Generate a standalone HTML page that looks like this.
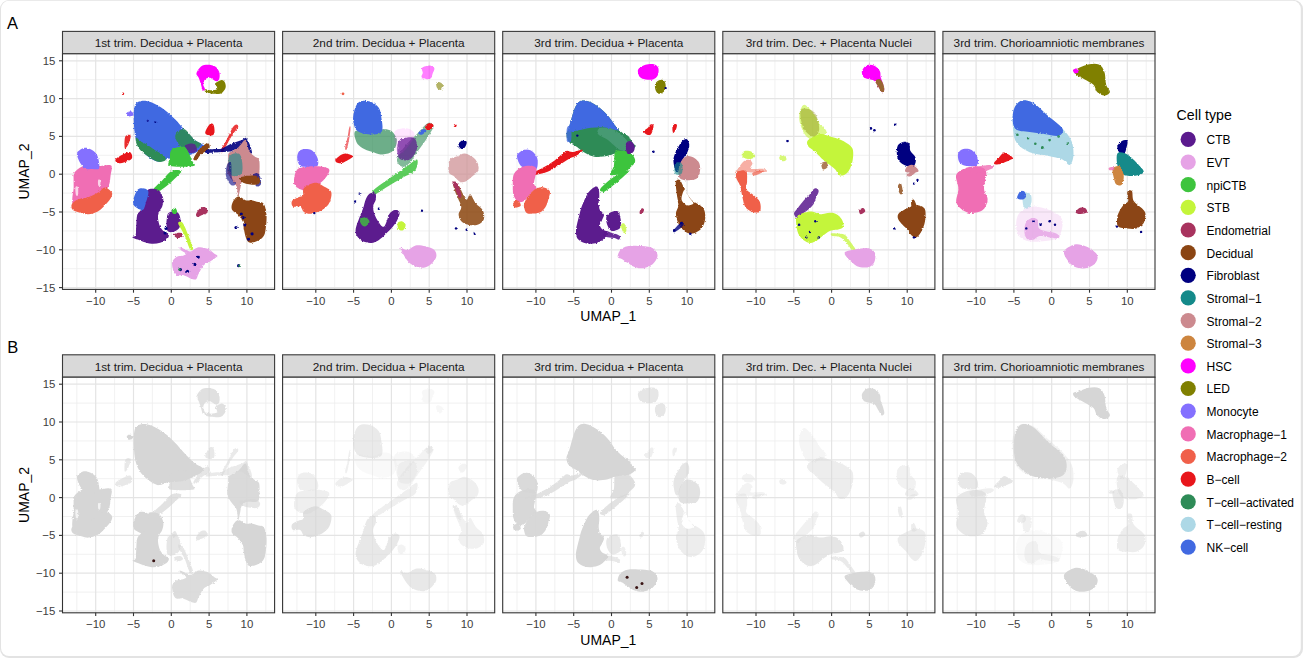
<!DOCTYPE html><html><head><meta charset="utf-8"><style>html,body{margin:0;padding:0;background:#fff;}svg{display:block;font-family:"Liberation Sans",sans-serif;}</style></head><body>
<svg width="1303" height="658" viewBox="0 0 1303 658">
<defs><filter id="rough" x="-5%" y="-5%" width="110%" height="110%"><feTurbulence type="fractalNoise" baseFrequency="0.6" numOctaves="2" seed="3" result="n"/><feDisplacementMap in="SourceGraphic" in2="n" scale="2.5" xChannelSelector="R" yChannelSelector="G"/></filter></defs>
<rect x="0" y="0" width="1303" height="658" rx="9" ry="9" fill="#e3e3e3"/>
<rect x="1" y="0.8" width="1299.8" height="655.2" rx="8" ry="8" fill="#fff"/>
<text x="7" y="29.4" font-size="16.5" fill="#000">A</text>
<text x="7.2" y="352.6" font-size="16.5" fill="#000">B</text>
<rect x="62.5" y="31.4" width="212.1" height="22.4" fill="#d9d9d9" stroke="#3a3a3a" stroke-width="1.1"/><text x="168.6" y="47.1" font-size="11.8" fill="#1a1a1a" text-anchor="middle">1st trim. Decidua + Placenta</text><rect x="62.5" y="53.8" width="212.1" height="235.6" fill="#fff"/><line x1="76.8" y1="53.8" x2="76.8" y2="289.4" stroke="#ededed" stroke-width="0.8"/><line x1="62.5" y1="268.7" x2="274.6" y2="268.7" stroke="#ededed" stroke-width="0.8"/><line x1="114.6" y1="53.8" x2="114.6" y2="289.4" stroke="#ededed" stroke-width="0.8"/><line x1="62.5" y1="230.9" x2="274.6" y2="230.9" stroke="#ededed" stroke-width="0.8"/><line x1="152.4" y1="53.8" x2="152.4" y2="289.4" stroke="#ededed" stroke-width="0.8"/><line x1="62.5" y1="193.1" x2="274.6" y2="193.1" stroke="#ededed" stroke-width="0.8"/><line x1="190.2" y1="53.8" x2="190.2" y2="289.4" stroke="#ededed" stroke-width="0.8"/><line x1="62.5" y1="155.3" x2="274.6" y2="155.3" stroke="#ededed" stroke-width="0.8"/><line x1="228" y1="53.8" x2="228" y2="289.4" stroke="#ededed" stroke-width="0.8"/><line x1="62.5" y1="117.5" x2="274.6" y2="117.5" stroke="#ededed" stroke-width="0.8"/><line x1="265.8" y1="53.8" x2="265.8" y2="289.4" stroke="#ededed" stroke-width="0.8"/><line x1="62.5" y1="79.7" x2="274.6" y2="79.7" stroke="#ededed" stroke-width="0.8"/><line x1="62.5" y1="287.6" x2="274.6" y2="287.6" stroke="#e4e4e4" stroke-width="1.2"/><line x1="95.7" y1="53.8" x2="95.7" y2="289.4" stroke="#e4e4e4" stroke-width="1.2"/><line x1="62.5" y1="249.8" x2="274.6" y2="249.8" stroke="#e4e4e4" stroke-width="1.2"/><line x1="133.5" y1="53.8" x2="133.5" y2="289.4" stroke="#e4e4e4" stroke-width="1.2"/><line x1="62.5" y1="212" x2="274.6" y2="212" stroke="#e4e4e4" stroke-width="1.2"/><line x1="171.3" y1="53.8" x2="171.3" y2="289.4" stroke="#e4e4e4" stroke-width="1.2"/><line x1="62.5" y1="174.2" x2="274.6" y2="174.2" stroke="#e4e4e4" stroke-width="1.2"/><line x1="209.1" y1="53.8" x2="209.1" y2="289.4" stroke="#e4e4e4" stroke-width="1.2"/><line x1="62.5" y1="136.4" x2="274.6" y2="136.4" stroke="#e4e4e4" stroke-width="1.2"/><line x1="246.9" y1="53.8" x2="246.9" y2="289.4" stroke="#e4e4e4" stroke-width="1.2"/><line x1="62.5" y1="98.6" x2="274.6" y2="98.6" stroke="#e4e4e4" stroke-width="1.2"/><line x1="62.5" y1="60.8" x2="274.6" y2="60.8" stroke="#e4e4e4" stroke-width="1.2"/><g filter="url(#rough)"><path d="M215.2,83.5C216.0,82.5 219.9,80.3 221.5,80.1C223.1,79.9 224.2,81.1 224.9,82.4C225.6,83.7 226.1,86.3 225.5,88.1C224.9,89.9 223.1,92.2 221.5,93.2C219.9,94.2 217.9,93.8 215.8,93.8C213.7,93.8 210.8,93.6 209.0,93.2C207.2,92.8 205.6,92.2 205.0,91.5C204.4,90.8 204.5,89.4 205.5,89.2C206.5,89.0 209.3,90.3 211.2,90.3C213.1,90.3 216.0,90.0 216.9,89.2C217.8,88.5 216.7,86.8 216.4,85.8C216.1,84.8 214.3,84.5 215.2,83.5Z" fill="#808000"/><path d="M196.4,73.2C196.8,71.3 199.1,67.8 201.0,66.4C202.9,65.0 205.4,64.7 207.8,64.7C210.2,64.7 213.3,65.2 215.2,66.4C217.1,67.6 218.5,70.0 219.2,72.1C219.9,74.2 219.8,77.4 219.2,78.9C218.6,80.4 217.3,81.4 215.8,81.2C214.3,81.0 211.9,78.1 210.1,77.8C208.3,77.5 206.2,78.4 205.0,79.5C203.8,80.6 203.2,83.0 203.2,84.6C203.2,86.2 205.1,88.2 205.0,89.2C204.9,90.2 203.4,91.1 202.7,90.3C202.0,89.5 201.7,86.7 201.0,84.6C200.3,82.5 199.5,79.7 198.7,77.8C197.9,75.9 196.0,75.1 196.4,73.2Z" fill="#ff00ff"/><path d="M141.3,100.9C144.1,100.4 148.0,100.9 151.9,102.4C155.8,103.9 160.8,107.1 164.7,109.9C168.6,112.8 172.1,116.3 175.3,119.5C178.5,122.7 180.6,125.6 183.8,129.0C187.0,132.4 191.3,137.0 194.5,139.7C197.7,142.4 202.1,143.3 203.0,145.0C203.9,146.7 202.2,148.3 200.0,150.0C197.8,151.7 193.3,153.7 190.0,155.0C186.7,156.3 183.7,157.4 180.0,158.0C176.3,158.6 171.7,158.2 167.9,158.8C164.1,159.4 161.3,162.6 157.2,161.5C153.1,160.4 146.9,156.0 143.4,152.4C139.9,148.8 137.6,144.8 136.0,139.7C134.4,134.6 134.0,127.3 133.8,121.6C133.6,115.9 133.7,109.0 134.9,105.6C136.2,102.1 138.5,101.4 141.3,100.9Z" fill="#4169e1"/><path d="M136.0,137.6C136.7,137.1 139.4,140.6 141.3,141.8C143.2,143.0 145.4,143.6 147.7,145.0C150.0,146.4 152.6,148.7 155.1,150.3C157.6,151.9 160.8,153.0 162.6,154.6C164.4,156.2 166.6,158.8 165.7,159.9C164.8,161.1 160.9,162.7 157.2,161.5C153.5,160.3 146.8,155.8 143.4,153.0C140.0,150.2 138.2,147.6 137.0,145.0C135.8,142.4 135.3,138.1 136.0,137.6Z" fill="#2e8b57"/><path d="M175.3,135.4C176.0,132.7 180.6,128.3 183.8,129.0C187.0,129.7 191.7,137.2 194.5,139.7C197.3,142.2 200.6,142.5 200.9,143.9C201.2,145.3 198.7,147.1 196.6,148.2C194.5,149.3 190.9,150.8 188.1,150.3C185.3,149.8 181.7,147.5 179.6,145.0C177.5,142.5 174.6,138.1 175.3,135.4Z" fill="#2e8b57" fill-opacity="0.90"/><path d="M186.0,145.0C187.1,143.6 192.7,142.8 194.5,143.9C196.3,145.0 197.7,150.0 196.6,151.4C195.5,152.8 189.9,153.5 188.1,152.4C186.3,151.3 184.9,146.4 186.0,145.0Z" fill="#5b1a8e" fill-opacity="0.80"/><path d="M171.1,150.3C172.7,148.4 177.1,147.4 179.6,147.1C182.1,146.8 183.9,145.9 186.0,148.2C188.1,150.5 191.1,158.0 192.3,161.0C193.5,164.0 197.1,165.2 193.4,166.0C189.7,166.8 173.9,167.2 170.0,166.0C166.1,164.8 169.8,161.4 170.0,158.8C170.2,156.2 169.5,152.2 171.1,150.3Z" fill="#3ec43e"/><path d="M126.9,112.6C127.4,111.8 130.6,111.1 131.7,111.5C132.8,111.9 133.8,114.4 133.3,115.2C132.8,116.0 129.6,116.7 128.5,116.3C127.4,115.9 126.4,113.4 126.9,112.6Z" fill="#8470ff"/><path d="M115.5,159.5C116.3,158.1 120.4,155.8 122.8,154.6C125.2,153.4 128.6,151.6 130.1,152.2C131.6,152.8 132.8,156.6 132.0,158.2C131.2,159.8 127.5,161.1 125.2,161.9C122.9,162.7 119.5,163.5 117.9,163.1C116.3,162.7 114.7,160.9 115.5,159.5Z" fill="#e8161b"/><path d="M125.3,136.5C126.3,134.4 130.1,134.2 130.6,135.4C131.1,136.6 129.5,141.8 128.5,143.9C127.5,146.0 125.3,149.4 124.8,148.2C124.3,147.0 124.3,138.6 125.3,136.5Z" fill="#e8161b" fill-opacity="0.90"/><path d="M206.4,129.3C207.1,127.7 208.8,124.7 210.0,123.9C211.2,123.2 212.8,123.3 213.5,124.8C214.3,126.3 214.9,131.1 214.4,132.9C214.0,134.7 212.3,135.5 210.9,135.6C209.4,135.7 206.2,134.9 205.5,133.8C204.7,132.8 205.6,131.0 206.4,129.3Z" fill="#e8161b"/><path d="M236.4,124.6C237.3,124.6 238.8,125.7 238.2,127.3C237.6,128.9 234.8,131.3 233.0,134.0C231.2,136.7 229.0,140.7 227.3,143.7C225.6,146.7 223.8,150.8 222.7,151.9C221.6,153.0 220.4,151.8 220.9,150.1C221.4,148.4 224.0,144.8 225.5,141.9C227.0,139.1 228.8,135.4 230.0,133.0C231.2,130.6 231.7,128.7 232.8,127.3C233.9,125.9 235.5,124.6 236.4,124.6Z" fill="#e8161b" fill-opacity="0.85"/><path d="M207.2,142.9C209.0,142.6 210.4,146.2 209.4,148.2C208.4,150.1 203.0,152.6 200.9,154.6C198.8,156.6 197.8,159.2 196.6,159.9C195.3,160.6 193.1,160.4 193.4,158.8C193.8,157.2 196.4,153.0 198.7,150.3C201.0,147.7 205.4,143.2 207.2,142.9Z" fill="#8b4513"/><path d="M206.0,150.0C207.5,149.3 212.3,149.2 215.0,149.0C217.7,148.8 219.3,149.4 222.0,148.5C224.7,147.6 227.7,145.1 231.0,143.7C234.3,142.3 239.5,140.9 242.0,140.0C244.5,139.1 244.8,137.3 246.0,138.0C247.2,138.7 248.5,141.5 249.5,144.0C250.5,146.5 252.4,151.7 252.0,153.0C251.6,154.3 249.0,152.8 247.0,152.0C245.0,151.2 242.8,148.1 240.0,148.0C237.2,147.9 233.0,150.8 230.0,151.5C227.0,152.2 224.7,151.8 222.0,152.0C219.3,152.2 216.7,152.3 214.0,152.5C211.3,152.7 207.3,153.4 206.0,153.0C204.7,152.6 204.5,150.7 206.0,150.0Z" fill="#000080" fill-opacity="0.90"/><path d="M229.1,152.8C230.8,150.7 235.5,149.5 238.2,147.4C240.9,145.3 243.7,139.5 245.5,140.1C247.3,140.7 247.7,148.3 249.2,151.0C250.7,153.7 253.0,155.0 254.7,156.5C256.4,158.0 258.4,157.1 259.2,160.1C259.9,163.1 259.6,171.6 259.2,174.7C258.8,177.8 258.5,177.8 256.5,178.4C254.5,179.0 249.8,177.8 247.4,178.4C245.0,179.0 243.1,180.2 241.9,182.0C240.7,183.8 240.7,186.9 240.1,189.3C239.5,191.7 238.8,197.2 238.2,196.6C237.6,196.0 237.6,188.7 236.4,185.7C235.2,182.7 232.4,180.8 230.9,178.4C229.4,176.0 227.8,174.2 227.3,171.1C226.9,168.0 227.9,163.1 228.2,160.1C228.5,157.1 227.4,154.9 229.1,152.8Z" fill="#cc8a8f"/><path d="M229.1,156.5C230.6,153.2 238.0,152.0 240.1,154.7C242.2,157.4 243.4,169.6 241.9,172.9C240.4,176.2 233.0,177.4 230.9,174.7C228.8,172.0 227.6,159.8 229.1,156.5Z" fill="#148a8a" fill-opacity="0.60"/><path d="M227.0,165.0C227.8,162.8 230.2,160.8 231.0,163.0C231.8,165.2 231.2,174.5 232.0,178.0C232.8,181.5 236.2,182.8 236.0,184.0C235.8,185.2 232.7,186.3 231.0,185.0C229.3,183.7 226.7,179.3 226.0,176.0C225.3,172.7 226.2,167.2 227.0,165.0Z" fill="#000080" fill-opacity="0.60"/><path d="M253.0,175.0C253.5,173.0 257.7,172.5 259.0,174.0C260.3,175.5 261.5,182.0 261.0,184.0C260.5,186.0 257.3,187.5 256.0,186.0C254.7,184.5 252.5,177.0 253.0,175.0Z" fill="#000080" fill-opacity="0.70"/><path d="M74.2,172.8C75.5,170.8 78.9,167.8 81.5,166.7C84.1,165.6 87.2,166.2 90.0,166.1C92.8,166.0 95.5,166.3 98.5,166.1C101.5,165.9 106.0,164.8 108.2,164.9C110.4,165.0 111.4,165.0 111.8,166.7C112.2,168.4 111.0,172.5 110.6,175.3C110.2,178.2 110.2,181.2 109.4,183.8C108.6,186.4 107.0,189.1 105.8,191.1C104.6,193.1 104.1,194.5 102.1,196.0C100.1,197.5 96.2,199.0 93.6,200.0C91.0,201.0 88.7,201.3 86.3,202.0C83.9,202.7 81.2,203.7 79.0,204.0C76.8,204.3 74.1,204.9 73.0,204.0C71.9,203.1 72.2,201.0 72.3,198.4C72.4,195.8 73.4,191.8 73.6,188.6C73.8,185.3 73.5,181.5 73.6,178.9C73.7,176.3 72.9,174.8 74.2,172.8Z" fill="#f06eb4"/><path d="M77.8,151.6C78.9,150.3 81.9,148.3 83.9,147.9C85.9,147.5 88.0,148.2 90.0,149.1C92.0,150.0 94.6,151.7 96.0,153.4C97.4,155.1 98.0,157.0 98.5,159.5C99.0,162.0 100.0,166.9 99.0,168.5C98.0,170.1 94.7,169.0 92.4,169.0C90.1,169.0 87.1,169.5 85.1,168.5C83.1,167.5 81.5,165.1 80.2,163.0C78.9,160.9 77.6,157.7 77.2,155.8C76.8,153.9 76.7,152.9 77.8,151.6Z" fill="#8470ff"/><path d="M75.4,187.2C75.7,185.9 77.6,185.9 78.0,187.2C78.4,188.5 78.3,193.8 78.0,195.1C77.7,196.4 76.4,196.4 76.0,195.1C75.6,193.8 75.1,188.5 75.4,187.2Z" fill="#ffffff" fill-opacity="0.70"/><path d="M98.2,179.9C98.6,179.1 100.1,179.6 100.4,180.6C100.7,181.6 100.4,185.0 100.0,185.8C99.6,186.6 98.5,186.2 98.2,185.2C97.9,184.2 97.8,180.7 98.2,179.9Z" fill="#ffffff" fill-opacity="0.70"/><path d="M71.7,204.4C72.5,202.7 75.0,200.8 77.8,199.6C80.6,198.4 85.2,198.3 88.7,197.1C92.2,195.9 95.8,193.9 98.5,192.3C101.2,190.7 102.4,187.4 104.6,187.4C106.8,187.4 110.8,190.5 111.8,192.3C112.8,194.1 112.0,196.0 110.6,198.4C109.2,200.8 105.5,204.7 103.3,206.9C101.1,209.1 99.7,210.5 97.3,211.7C94.9,212.9 91.3,214.0 88.7,214.2C86.1,214.4 84.1,213.6 81.5,212.9C78.9,212.2 74.5,211.3 72.9,209.9C71.3,208.5 70.9,206.1 71.7,204.4Z" fill="#f0604a"/><path d="M171.4,171.0C174.5,169.4 180.4,170.0 181.3,171.0C182.2,172.0 179.2,174.3 176.8,176.7C174.4,179.2 169.9,183.3 166.9,185.7C163.9,188.1 161.0,190.5 158.8,191.1C156.7,191.6 153.2,190.7 153.8,188.9C154.4,187.1 159.5,183.3 162.4,180.3C165.4,177.3 168.3,172.6 171.4,171.0Z" fill="#3ec43e"/><path d="M147.3,190.6C149.1,188.5 152.7,188.8 154.8,189.0C156.9,189.2 158.7,190.0 160.1,191.7C161.5,193.4 163.0,196.6 163.3,199.1C163.7,201.6 162.9,204.5 162.2,206.6C161.5,208.7 159.7,209.9 159.0,211.9C158.3,213.9 157.8,215.8 158.0,218.3C158.2,220.8 159.0,224.5 160.1,226.8C161.2,229.1 163.0,230.8 164.4,232.1C165.8,233.3 168.1,233.2 168.6,234.3C169.1,235.4 169.0,237.1 167.6,238.5C166.2,239.9 162.8,241.9 160.1,242.8C157.4,243.7 154.4,244.0 151.6,243.8C148.8,243.6 145.4,242.4 143.1,241.7C140.8,241.0 139.6,240.3 137.8,239.6C136.0,238.9 132.8,238.1 132.4,237.4C132.0,236.7 135.0,237.1 135.6,235.3C136.2,233.5 135.9,230.2 136.2,226.8C136.5,223.4 136.4,217.9 137.2,215.1C138.0,212.3 139.8,212.1 141.0,209.8C142.2,207.5 143.0,204.5 144.1,201.3C145.2,198.1 145.5,192.7 147.3,190.6Z" fill="#5b1a8e"/><path d="M168.6,213.0C169.8,211.9 172.3,210.9 173.9,210.9C175.5,210.9 177.1,211.8 178.2,213.0C179.3,214.2 180.0,216.2 180.3,218.3C180.7,220.4 180.8,223.8 180.3,225.7C179.8,227.6 178.5,228.9 177.1,230.0C175.7,231.1 173.4,231.9 171.8,232.1C170.2,232.3 168.5,232.3 167.6,231.1C166.7,229.9 166.6,227.0 166.5,224.7C166.4,222.4 166.7,219.1 167.0,217.2C167.3,215.2 167.4,214.1 168.6,213.0Z" fill="#5b1a8e"/><path d="M133.5,199.1C134.2,196.6 136.0,191.4 137.8,189.6C139.6,187.8 142.3,188.2 144.1,188.5C145.9,188.8 148.0,189.6 148.4,191.7C148.8,193.8 147.2,198.3 146.3,201.3C145.4,204.3 144.7,208.7 143.1,209.8C141.5,210.9 138.3,208.6 136.7,207.7C135.1,206.8 134.0,205.9 133.5,204.5C133.0,203.1 132.8,201.6 133.5,199.1Z" fill="#4169e1"/><path d="M196.1,214.0C196.6,212.6 198.5,209.4 200.1,208.3C201.6,207.2 204.2,206.7 205.5,207.4C206.7,208.1 208.2,211.0 207.6,212.2C207.1,213.5 203.9,214.3 202.2,215.1C200.5,215.9 198.4,217.1 197.4,216.9C196.4,216.7 195.7,215.5 196.1,214.0Z" fill="#a8335e"/><path d="M173.9,234.3C174.4,233.4 178.8,232.4 180.3,232.7C181.8,233.0 183.5,235.0 183.0,235.9C182.5,236.8 178.6,238.3 177.1,238.0C175.6,237.7 173.4,235.2 173.9,234.3Z" fill="#a8335e"/><path d="M171.8,210.9C172.0,209.8 174.1,207.5 175.0,207.7C175.9,207.9 177.3,210.8 177.1,211.9C176.9,213.0 174.8,214.2 173.9,214.0C173.0,213.8 171.6,212.0 171.8,210.9Z" fill="#3ec43e"/><path d="M178.2,223.6C177.8,221.5 180.6,220.5 182.4,222.6C184.2,224.7 187.0,232.2 188.8,236.4C190.6,240.7 192.9,246.0 193.1,248.1C193.3,250.2 191.3,251.2 189.9,249.1C188.5,247.0 186.6,239.6 184.6,235.3C182.6,231.1 178.6,225.7 178.2,223.6Z" fill="#c4f53a"/><path d="M172.2,262.2C172.7,259.9 174.7,258.0 176.5,256.9C178.3,255.8 181.4,256.4 183.0,255.8C184.6,255.2 186.6,254.6 186.2,253.6C185.8,252.6 181.9,251.0 180.8,249.9C179.7,248.8 179.1,247.3 179.8,247.2C180.5,247.1 183.3,248.6 185.1,249.3C186.9,250.0 188.7,251.7 190.5,251.5C192.3,251.3 194.3,249.0 195.9,248.3C197.5,247.6 198.0,247.0 200.2,247.2C202.3,247.4 206.5,248.2 208.8,249.3C211.1,250.4 212.7,252.5 214.1,253.6C215.5,254.7 217.4,254.9 217.4,255.8C217.4,256.7 215.5,257.9 214.1,259.0C212.7,260.1 210.6,261.1 208.8,262.2C207.0,263.3 204.8,264.1 203.4,265.5C202.0,266.9 201.1,269.2 200.2,270.8C199.3,272.4 198.7,273.7 198.0,275.1C197.3,276.5 197.2,278.8 195.9,279.4C194.7,279.9 192.7,279.1 190.5,278.4C188.3,277.7 185.3,275.7 183.0,275.1C180.7,274.6 178.1,275.8 176.5,275.1C174.9,274.4 174.0,273.0 173.3,270.8C172.6,268.6 171.7,264.5 172.2,262.2Z" fill="#e6a3e6"/><path d="M232.8,202.1C233.9,200.0 236.1,196.9 238.2,196.6C240.3,196.3 243.4,199.6 245.5,200.2C247.6,200.8 248.9,199.9 251.0,200.2C253.1,200.5 256.2,201.5 258.3,202.1C260.4,202.7 262.4,201.8 263.8,203.9C265.2,206.0 266.2,210.6 266.5,214.8C266.8,219.1 266.2,225.7 265.6,229.4C265.0,233.1 264.6,235.0 263.0,237.0C261.4,239.0 258.2,240.6 256.0,241.5C253.8,242.4 251.2,243.1 249.5,242.5C247.8,241.9 247.0,240.4 246.0,238.0C245.0,235.6 244.2,230.7 243.7,228.0C243.2,225.3 243.9,224.3 243.0,222.1C242.1,219.9 240.0,216.9 238.2,214.8C236.3,212.7 232.8,211.5 231.9,209.4C231.0,207.3 231.8,204.2 232.8,202.1Z" fill="#8b4513"/><path d="M240.1,177.5C241.9,176.3 251.4,175.2 254.7,175.6C258.0,176.0 259.8,178.7 260.1,180.2C260.4,181.7 259.2,184.2 256.5,184.7C253.8,185.1 246.4,184.1 243.7,182.9C241.0,181.7 238.3,178.7 240.1,177.5Z" fill="#8b4513"/><circle cx="123.0" cy="93.8" r="1.2" fill="#e8161b"/><circle cx="147.7" cy="120.7" r="1.0" fill="#000080"/><circle cx="155.3" cy="122.1" r="1.0" fill="#000080"/><circle cx="241.3" cy="214.0" r="1.6" fill="#000080"/><circle cx="244.9" cy="224.8" r="1.6" fill="#000080"/><circle cx="248.5" cy="239.1" r="1.6" fill="#000080"/><circle cx="252.1" cy="233.8" r="1.6" fill="#000080"/><circle cx="243.1" cy="217.6" r="1.6" fill="#000080"/><circle cx="236.0" cy="227.5" r="1.6" fill="#000080"/><circle cx="238.6" cy="265.7" r="1.6" fill="#000080"/><circle cx="194.7" cy="264.3" r="1.6" fill="#000080"/><circle cx="198.3" cy="257.1" r="1.6" fill="#000080"/><circle cx="187.5" cy="271.4" r="1.6" fill="#000080"/><circle cx="180.4" cy="269.6" r="1.6" fill="#000080"/><circle cx="166.0" cy="228.4" r="1.6" fill="#000080"/><circle cx="165.1" cy="232.9" r="1.6" fill="#000080"/><circle cx="179.5" cy="269.6" r="1.3" fill="#2e8b57"/><circle cx="239.5" cy="265.7" r="1.3" fill="#2e8b57"/></g><rect x="62.5" y="53.8" width="212.1" height="235.6" fill="none" stroke="#333" stroke-width="1.1"/><line x1="95.7" y1="289.4" x2="95.7" y2="292.7" stroke="#333" stroke-width="1.1"/><text x="95.7" y="304.6" font-size="11.4" fill="#404040" text-anchor="middle">−10</text><line x1="133.5" y1="289.4" x2="133.5" y2="292.7" stroke="#333" stroke-width="1.1"/><text x="133.5" y="304.6" font-size="11.4" fill="#404040" text-anchor="middle">−5</text><line x1="171.3" y1="289.4" x2="171.3" y2="292.7" stroke="#333" stroke-width="1.1"/><text x="171.3" y="304.6" font-size="11.4" fill="#404040" text-anchor="middle">0</text><line x1="209.1" y1="289.4" x2="209.1" y2="292.7" stroke="#333" stroke-width="1.1"/><text x="209.1" y="304.6" font-size="11.4" fill="#404040" text-anchor="middle">5</text><line x1="246.9" y1="289.4" x2="246.9" y2="292.7" stroke="#333" stroke-width="1.1"/><text x="246.9" y="304.6" font-size="11.4" fill="#404040" text-anchor="middle">10</text><line x1="59" y1="287.6" x2="62.5" y2="287.6" stroke="#333" stroke-width="1.1"/><text x="55.3" y="291.5" font-size="11.4" fill="#404040" text-anchor="end">−15</text><line x1="59" y1="249.8" x2="62.5" y2="249.8" stroke="#333" stroke-width="1.1"/><text x="55.3" y="253.7" font-size="11.4" fill="#404040" text-anchor="end">−10</text><line x1="59" y1="212" x2="62.5" y2="212" stroke="#333" stroke-width="1.1"/><text x="55.3" y="215.9" font-size="11.4" fill="#404040" text-anchor="end">−5</text><line x1="59" y1="174.2" x2="62.5" y2="174.2" stroke="#333" stroke-width="1.1"/><text x="55.3" y="178.1" font-size="11.4" fill="#404040" text-anchor="end">0</text><line x1="59" y1="136.4" x2="62.5" y2="136.4" stroke="#333" stroke-width="1.1"/><text x="55.3" y="140.3" font-size="11.4" fill="#404040" text-anchor="end">5</text><line x1="59" y1="98.6" x2="62.5" y2="98.6" stroke="#333" stroke-width="1.1"/><text x="55.3" y="102.5" font-size="11.4" fill="#404040" text-anchor="end">10</text><line x1="59" y1="60.8" x2="62.5" y2="60.8" stroke="#333" stroke-width="1.1"/><text x="55.3" y="64.7" font-size="11.4" fill="#404040" text-anchor="end">15</text>
<rect x="282.6" y="31.4" width="212.1" height="22.4" fill="#d9d9d9" stroke="#3a3a3a" stroke-width="1.1"/><text x="388.7" y="47.1" font-size="11.8" fill="#1a1a1a" text-anchor="middle">2nd trim. Decidua + Placenta</text><rect x="282.6" y="53.8" width="212.1" height="235.6" fill="#fff"/><line x1="296.9" y1="53.8" x2="296.9" y2="289.4" stroke="#ededed" stroke-width="0.8"/><line x1="282.6" y1="268.7" x2="494.7" y2="268.7" stroke="#ededed" stroke-width="0.8"/><line x1="334.7" y1="53.8" x2="334.7" y2="289.4" stroke="#ededed" stroke-width="0.8"/><line x1="282.6" y1="230.9" x2="494.7" y2="230.9" stroke="#ededed" stroke-width="0.8"/><line x1="372.5" y1="53.8" x2="372.5" y2="289.4" stroke="#ededed" stroke-width="0.8"/><line x1="282.6" y1="193.1" x2="494.7" y2="193.1" stroke="#ededed" stroke-width="0.8"/><line x1="410.3" y1="53.8" x2="410.3" y2="289.4" stroke="#ededed" stroke-width="0.8"/><line x1="282.6" y1="155.3" x2="494.7" y2="155.3" stroke="#ededed" stroke-width="0.8"/><line x1="448.1" y1="53.8" x2="448.1" y2="289.4" stroke="#ededed" stroke-width="0.8"/><line x1="282.6" y1="117.5" x2="494.7" y2="117.5" stroke="#ededed" stroke-width="0.8"/><line x1="485.9" y1="53.8" x2="485.9" y2="289.4" stroke="#ededed" stroke-width="0.8"/><line x1="282.6" y1="79.7" x2="494.7" y2="79.7" stroke="#ededed" stroke-width="0.8"/><line x1="282.6" y1="287.6" x2="494.7" y2="287.6" stroke="#e4e4e4" stroke-width="1.2"/><line x1="315.8" y1="53.8" x2="315.8" y2="289.4" stroke="#e4e4e4" stroke-width="1.2"/><line x1="282.6" y1="249.8" x2="494.7" y2="249.8" stroke="#e4e4e4" stroke-width="1.2"/><line x1="353.6" y1="53.8" x2="353.6" y2="289.4" stroke="#e4e4e4" stroke-width="1.2"/><line x1="282.6" y1="212" x2="494.7" y2="212" stroke="#e4e4e4" stroke-width="1.2"/><line x1="391.4" y1="53.8" x2="391.4" y2="289.4" stroke="#e4e4e4" stroke-width="1.2"/><line x1="282.6" y1="174.2" x2="494.7" y2="174.2" stroke="#e4e4e4" stroke-width="1.2"/><line x1="429.2" y1="53.8" x2="429.2" y2="289.4" stroke="#e4e4e4" stroke-width="1.2"/><line x1="282.6" y1="136.4" x2="494.7" y2="136.4" stroke="#e4e4e4" stroke-width="1.2"/><line x1="467" y1="53.8" x2="467" y2="289.4" stroke="#e4e4e4" stroke-width="1.2"/><line x1="282.6" y1="98.6" x2="494.7" y2="98.6" stroke="#e4e4e4" stroke-width="1.2"/><line x1="282.6" y1="60.8" x2="494.7" y2="60.8" stroke="#e4e4e4" stroke-width="1.2"/><g filter="url(#rough)"><path d="M421.9,68.3C422.3,67.2 424.0,66.6 425.5,66.2C427.0,65.7 429.4,65.3 430.9,65.7C432.3,66.0 434.1,67.0 434.4,68.3C434.7,69.7 433.2,72.1 432.6,73.7C432.0,75.4 432.0,77.3 430.9,78.2C429.7,79.1 427.0,79.3 425.5,79.1C423.9,78.9 422.0,78.0 421.5,77.0C421.1,75.9 422.7,74.3 422.8,72.8C422.8,71.4 421.4,69.5 421.9,68.3Z" fill="#ff00ff" fill-opacity="0.50"/><path d="M436.2,82.7C436.7,81.7 438.6,81.9 439.8,82.3C441.0,82.8 443.3,84.1 443.4,85.4C443.6,86.6 441.8,89.4 440.7,89.9C439.7,90.3 437.9,89.3 437.1,88.1C436.4,86.9 435.8,83.7 436.2,82.7Z" fill="#808000" fill-opacity="0.60"/><path d="M355.5,131.1C358.1,129.6 367.2,133.2 371.7,132.9C376.2,132.6 379.1,129.6 382.4,129.3C385.7,129.0 389.0,129.3 391.4,131.1C393.8,132.9 396.5,136.8 396.8,140.1C397.1,143.4 395.6,148.5 393.2,150.8C390.8,153.2 386.0,154.3 382.4,154.4C378.8,154.6 375.0,152.8 371.7,151.7C368.4,150.7 365.2,149.8 362.7,148.2C360.2,146.5 357.6,144.7 356.4,141.9C355.2,139.0 353.0,132.6 355.5,131.1Z" fill="#2e8b57" fill-opacity="0.70"/><path d="M359.1,102.1C361.7,100.4 366.6,100.6 369.9,101.5C373.2,102.5 376.9,105.0 378.8,107.8C380.8,110.6 380.9,115.0 381.5,118.6C382.1,122.1 382.9,126.8 382.4,129.3C382.0,131.9 381.2,133.0 378.8,133.8C376.5,134.6 371.7,134.8 368.1,134.3C364.5,133.9 359.8,133.1 357.3,131.1C354.9,129.1 353.9,125.4 353.4,122.1C352.8,118.9 353.1,114.7 354.1,111.4C355.1,108.0 356.5,103.7 359.1,102.1Z" fill="#4169e1"/><path d="M397.0,159.5C397.6,155.8 402.8,149.2 406.1,144.9C409.4,140.6 413.4,137.6 417.0,133.9C420.6,130.2 425.2,124.2 428.0,123.0C430.8,121.8 433.8,123.9 433.5,126.6C433.2,129.3 428.9,135.1 426.2,139.4C423.4,143.7 419.8,148.2 417.0,152.2C414.2,156.1 412.1,160.7 409.7,163.1C407.3,165.5 404.5,167.4 402.4,166.8C400.3,166.2 396.4,163.2 397.0,159.5Z" fill="#2e8b57" fill-opacity="0.60"/><path d="M398.8,141.2C401.2,137.8 410.4,136.4 413.4,137.6C416.4,138.8 417.6,144.8 417.0,148.5C416.4,152.2 412.7,158.0 409.7,159.5C406.7,161.0 400.6,160.8 398.8,157.7C397.0,154.6 396.4,144.5 398.8,141.2Z" fill="#5b1a8e" fill-opacity="0.75"/><path d="M418.3,132.9C418.6,132.0 422.3,129.3 423.7,129.0C425.0,128.7 426.7,130.2 426.4,131.1C426.1,132.1 423.2,134.4 421.9,134.7C420.5,135.0 418.0,133.9 418.3,132.9Z" fill="#4169e1"/><path d="M425.5,125.7C425.9,124.5 428.6,123.1 430.0,123.0C431.3,123.0 433.4,124.3 433.5,125.4C433.7,126.4 431.9,128.5 430.9,129.3C429.8,130.1 428.2,130.8 427.3,130.2C426.4,129.6 425.0,126.9 425.5,125.7Z" fill="#e8161b"/><path d="M373.2,190.5C375.3,188.1 382.3,183.5 387.8,179.6C393.3,175.7 401.2,170.2 406.1,166.8C411.0,163.5 415.5,158.9 417.0,159.5C418.5,160.1 417.6,167.4 415.2,170.4C412.8,173.4 407.6,174.6 402.4,177.7C397.2,180.8 388.8,185.9 384.2,188.7C379.6,191.4 376.9,193.9 375.1,194.2C373.3,194.5 371.1,192.9 373.2,190.5Z" fill="#3ec43e" fill-opacity="0.85"/><path d="M335.4,159.8C335.9,158.7 337.7,156.9 339.4,155.9C341.1,154.8 343.4,153.5 345.7,153.5C347.9,153.6 352.4,155.2 352.8,156.2C353.3,157.3 350.1,158.7 348.4,159.8C346.6,160.9 344.0,162.6 342.1,163.0C340.1,163.5 337.8,163.0 336.7,162.5C335.6,162.0 335.0,160.9 335.4,159.8Z" fill="#e8161b"/><path d="M345.1,148.2C345.2,146.4 346.8,141.7 347.5,138.3C348.1,134.9 348.7,129.3 349.3,127.5C349.8,125.8 350.5,126.1 350.5,127.9C350.5,129.7 349.9,134.8 349.3,138.3C348.7,141.8 347.6,147.4 346.9,149.1C346.2,150.7 345.0,149.9 345.1,148.2Z" fill="#e8161b" fill-opacity="0.60"/><path d="M297.2,156.2C297.5,154.3 298.2,152.0 299.6,150.8C300.9,149.6 303.2,149.1 305.3,149.1C307.5,149.1 310.5,149.3 312.5,150.8C314.5,152.3 316.6,155.6 317.5,158.0C318.4,160.4 318.6,163.7 317.9,165.2C317.2,166.7 316.1,166.7 313.4,167.0C310.7,167.2 304.3,167.4 301.7,166.6C299.2,165.9 298.9,164.2 298.1,162.5C297.4,160.8 297.0,158.2 297.2,156.2Z" fill="#8470ff"/><path d="M296.6,170.4C298.7,167.4 303.2,167.4 307.5,166.8C311.8,166.2 318.5,166.2 322.1,166.8C325.8,167.4 329.4,168.0 329.4,170.4C329.4,172.8 325.8,178.1 322.1,181.4C318.5,184.8 312.1,189.9 307.5,190.5C302.9,191.1 296.6,188.3 294.8,185.0C293.0,181.7 294.5,173.4 296.6,170.4Z" fill="#f06eb4"/><path d="M458.6,143.7C459.2,142.5 461.8,140.4 463.1,140.1C464.5,139.8 466.4,140.7 466.7,141.9C467.0,143.1 465.7,146.1 464.9,147.3C464.2,148.5 463.1,149.1 462.2,149.1C461.3,149.1 460.1,148.2 459.5,147.3C458.9,146.4 458.1,144.9 458.6,143.7Z" fill="#000080"/><path d="M449.7,159.8C451.2,157.2 455.2,157.2 457.7,156.2C460.2,155.1 462.2,153.2 464.9,153.5C467.6,153.8 471.6,156.1 473.9,158.0C476.1,159.9 477.8,162.9 478.4,165.2C479.0,167.5 478.6,170.1 477.5,172.0C476.4,173.9 474.2,174.8 472.1,176.4C470.0,178.0 467.0,181.0 464.9,181.8C462.8,182.6 461.3,182.3 459.5,181.4C457.7,180.5 456.0,178.0 454.2,176.4C452.4,174.8 449.6,174.8 448.8,172.0C448.1,169.2 448.2,162.4 449.7,159.8Z" fill="#cc8a8f" fill-opacity="0.70"/><path d="M395.0,131.1C397.1,128.6 404.3,127.8 407.5,128.4C410.8,129.0 414.7,131.6 414.7,134.7C414.7,137.8 410.2,144.0 407.5,147.3C404.8,150.5 400.7,155.0 398.6,154.4C396.5,153.8 395.6,147.6 395.0,143.7C394.4,139.8 392.9,133.7 395.0,131.1Z" fill="#ff00ff" fill-opacity="0.10"/><path d="M303.9,188.2C305.9,186.1 311.5,183.1 314.8,182.8C318.1,182.5 321.2,184.9 323.9,186.4C326.6,187.9 330.3,189.2 331.2,191.9C332.1,194.6 330.9,199.8 329.4,202.8C327.9,205.8 325.1,208.3 322.1,210.1C319.1,211.9 314.2,213.4 311.2,213.7C308.2,214.0 305.7,213.1 303.9,211.9C302.1,210.7 302.0,207.4 300.2,206.5C298.4,205.6 294.3,207.4 292.9,206.5C291.5,205.6 291.1,202.5 292.0,201.0C292.9,199.5 296.6,198.2 298.4,197.3C300.2,196.4 302.1,197.0 303.0,195.5C303.9,194.0 301.9,190.3 303.9,188.2Z" fill="#f0604a"/><path d="M369.5,193.7C371.0,192.6 373.9,191.9 375.0,192.8C376.1,193.7 376.2,196.9 375.9,199.2C375.6,201.5 373.2,203.8 373.1,206.5C373.0,209.2 373.8,212.6 375.0,215.6C376.2,218.6 378.9,222.9 380.4,224.7C381.9,226.5 383.0,227.1 384.1,226.5C385.2,225.9 385.9,223.1 386.8,221.0C387.7,218.9 388.1,215.5 389.5,213.7C390.9,211.9 393.3,210.2 395.0,210.1C396.7,209.9 399.3,211.0 399.6,212.8C399.9,214.6 398.2,218.4 396.8,221.0C395.4,223.6 393.2,226.2 391.4,228.3C389.6,230.4 388.0,231.8 385.9,233.8C383.8,235.8 381.0,238.7 378.6,240.2C376.2,241.7 374.0,242.8 371.3,242.9C368.6,243.1 364.6,242.3 362.2,241.1C359.8,239.9 357.8,237.7 356.7,235.6C355.6,233.5 355.3,231.3 355.8,228.3C356.3,225.3 358.3,220.7 359.5,217.4C360.7,214.1 362.1,211.3 363.1,208.3C364.2,205.3 364.7,201.6 365.8,199.2C366.9,196.8 368.0,194.8 369.5,193.7Z" fill="#5b1a8e"/><path d="M360.4,219.0C361.2,217.9 364.5,216.9 366.0,217.4C367.5,217.9 369.7,220.5 369.5,222.0C369.3,223.5 366.4,226.2 365.0,226.5C363.6,226.8 361.8,225.2 361.0,224.0C360.2,222.8 359.6,220.1 360.4,219.0Z" fill="#3ec43e" fill-opacity="0.80"/><path d="M397.7,223.0C398.2,221.7 400.5,220.9 401.8,221.2C403.1,221.5 405.5,223.3 405.7,224.8C406.0,226.3 404.3,229.4 403.1,230.2C401.9,230.9 399.5,230.5 398.6,229.3C397.7,228.1 397.1,224.4 397.7,223.0Z" fill="#c4f53a"/><path d="M400.4,248.1C400.4,246.3 405.0,250.4 407.5,249.9C410.1,249.5 412.6,246.0 415.6,245.4C418.6,244.8 422.3,245.6 425.5,246.3C428.6,247.1 432.6,248.1 434.4,249.9C436.2,251.7 436.8,254.7 436.2,257.1C435.6,259.5 432.9,262.5 430.9,264.3C428.8,266.1 426.4,267.5 423.7,267.8C421.0,268.1 417.4,267.2 414.7,266.1C412.0,264.9 409.9,263.7 407.5,260.7C405.1,257.7 400.4,249.9 400.4,248.1Z" fill="#e6a3e6"/><path d="M453.3,181.8C454.0,181.2 457.0,183.3 458.6,185.3C460.3,187.4 461.8,191.9 463.1,194.3C464.5,196.7 465.5,199.7 466.7,199.7C467.9,199.7 468.8,193.7 470.3,194.3C471.8,194.9 473.6,200.6 475.7,203.3C477.8,206.0 481.5,207.8 482.9,210.5C484.2,213.1 484.7,217.0 483.8,219.4C482.9,221.8 480.0,223.9 477.5,224.8C474.9,225.7 471.2,225.4 468.5,224.8C465.8,224.2 463.0,223.0 461.3,221.2C459.7,219.4 458.6,216.4 458.6,214.0C458.6,211.7 461.5,209.6 461.3,206.9C461.2,204.2 458.9,200.9 457.8,197.9C456.6,194.9 454.9,191.6 454.2,188.9C453.4,186.2 452.5,182.4 453.3,181.8Z" fill="#8b4513" fill-opacity="0.85"/><path d="M452.4,182.7C452.7,181.6 455.4,180.7 456.9,182.7C458.4,184.6 460.9,191.8 461.3,194.3C461.8,196.9 460.6,198.8 459.5,197.9C458.5,197.0 456.3,191.5 455.1,188.9C453.9,186.4 452.1,183.7 452.4,182.7Z" fill="#a8335e"/><circle cx="343.0" cy="93.8" r="1.4" fill="#f0604a"/><circle cx="455.1" cy="125.4" r="1.5" fill="#e8161b"/><circle cx="355.2" cy="201.5" r="1.2" fill="#000080"/><circle cx="359.5" cy="193.6" r="1.2" fill="#000080"/><circle cx="378.8" cy="208.7" r="1.2" fill="#000080"/><circle cx="421.9" cy="210.8" r="1.2" fill="#000080"/><circle cx="456.0" cy="228.4" r="1.2" fill="#000080"/><circle cx="466.7" cy="229.8" r="1.2" fill="#000080"/><circle cx="474.8" cy="233.8" r="1.2" fill="#000080"/><circle cx="314.3" cy="213.1" r="1.2" fill="#000080"/></g><rect x="282.6" y="53.8" width="212.1" height="235.6" fill="none" stroke="#333" stroke-width="1.1"/><line x1="315.8" y1="289.4" x2="315.8" y2="292.7" stroke="#333" stroke-width="1.1"/><text x="315.8" y="304.6" font-size="11.4" fill="#404040" text-anchor="middle">−10</text><line x1="353.6" y1="289.4" x2="353.6" y2="292.7" stroke="#333" stroke-width="1.1"/><text x="353.6" y="304.6" font-size="11.4" fill="#404040" text-anchor="middle">−5</text><line x1="391.4" y1="289.4" x2="391.4" y2="292.7" stroke="#333" stroke-width="1.1"/><text x="391.4" y="304.6" font-size="11.4" fill="#404040" text-anchor="middle">0</text><line x1="429.2" y1="289.4" x2="429.2" y2="292.7" stroke="#333" stroke-width="1.1"/><text x="429.2" y="304.6" font-size="11.4" fill="#404040" text-anchor="middle">5</text><line x1="467" y1="289.4" x2="467" y2="292.7" stroke="#333" stroke-width="1.1"/><text x="467" y="304.6" font-size="11.4" fill="#404040" text-anchor="middle">10</text>
<rect x="502.7" y="31.4" width="212.1" height="22.4" fill="#d9d9d9" stroke="#3a3a3a" stroke-width="1.1"/><text x="608.8" y="47.1" font-size="11.8" fill="#1a1a1a" text-anchor="middle">3rd trim. Decidua + Placenta</text><rect x="502.7" y="53.8" width="212.1" height="235.6" fill="#fff"/><line x1="517" y1="53.8" x2="517" y2="289.4" stroke="#ededed" stroke-width="0.8"/><line x1="502.7" y1="268.7" x2="714.8" y2="268.7" stroke="#ededed" stroke-width="0.8"/><line x1="554.8" y1="53.8" x2="554.8" y2="289.4" stroke="#ededed" stroke-width="0.8"/><line x1="502.7" y1="230.9" x2="714.8" y2="230.9" stroke="#ededed" stroke-width="0.8"/><line x1="592.6" y1="53.8" x2="592.6" y2="289.4" stroke="#ededed" stroke-width="0.8"/><line x1="502.7" y1="193.1" x2="714.8" y2="193.1" stroke="#ededed" stroke-width="0.8"/><line x1="630.4" y1="53.8" x2="630.4" y2="289.4" stroke="#ededed" stroke-width="0.8"/><line x1="502.7" y1="155.3" x2="714.8" y2="155.3" stroke="#ededed" stroke-width="0.8"/><line x1="668.2" y1="53.8" x2="668.2" y2="289.4" stroke="#ededed" stroke-width="0.8"/><line x1="502.7" y1="117.5" x2="714.8" y2="117.5" stroke="#ededed" stroke-width="0.8"/><line x1="706" y1="53.8" x2="706" y2="289.4" stroke="#ededed" stroke-width="0.8"/><line x1="502.7" y1="79.7" x2="714.8" y2="79.7" stroke="#ededed" stroke-width="0.8"/><line x1="502.7" y1="287.6" x2="714.8" y2="287.6" stroke="#e4e4e4" stroke-width="1.2"/><line x1="535.9" y1="53.8" x2="535.9" y2="289.4" stroke="#e4e4e4" stroke-width="1.2"/><line x1="502.7" y1="249.8" x2="714.8" y2="249.8" stroke="#e4e4e4" stroke-width="1.2"/><line x1="573.7" y1="53.8" x2="573.7" y2="289.4" stroke="#e4e4e4" stroke-width="1.2"/><line x1="502.7" y1="212" x2="714.8" y2="212" stroke="#e4e4e4" stroke-width="1.2"/><line x1="611.5" y1="53.8" x2="611.5" y2="289.4" stroke="#e4e4e4" stroke-width="1.2"/><line x1="502.7" y1="174.2" x2="714.8" y2="174.2" stroke="#e4e4e4" stroke-width="1.2"/><line x1="649.3" y1="53.8" x2="649.3" y2="289.4" stroke="#e4e4e4" stroke-width="1.2"/><line x1="502.7" y1="136.4" x2="714.8" y2="136.4" stroke="#e4e4e4" stroke-width="1.2"/><line x1="687.1" y1="53.8" x2="687.1" y2="289.4" stroke="#e4e4e4" stroke-width="1.2"/><line x1="502.7" y1="98.6" x2="714.8" y2="98.6" stroke="#e4e4e4" stroke-width="1.2"/><line x1="502.7" y1="60.8" x2="714.8" y2="60.8" stroke="#e4e4e4" stroke-width="1.2"/><g filter="url(#rough)"><path d="M639.2,68.3C640.5,67.2 642.9,65.4 645.5,64.8C648.0,64.1 652.3,63.8 654.4,64.4C656.6,65.0 657.8,66.5 658.4,68.3C658.9,70.2 658.6,73.7 657.7,75.5C656.8,77.4 655.0,78.8 653.0,79.5C651.0,80.1 647.6,79.8 645.5,79.5C643.3,79.1 641.3,78.6 640.1,77.3C638.8,76.1 638.1,73.4 637.9,71.9C637.8,70.4 637.9,69.5 639.2,68.3Z" fill="#ff00ff"/><path d="M655.3,83.6C656.1,81.9 658.3,80.5 659.8,80.0C661.3,79.6 663.3,79.9 664.3,80.9C665.3,81.9 665.8,84.5 665.7,86.3C665.6,88.1 664.9,90.4 663.8,91.7C662.6,92.9 660.3,94.1 658.9,93.8C657.5,93.5 656.1,91.6 655.5,89.9C654.9,88.2 654.6,85.2 655.3,83.6Z" fill="#808000"/><path d="M582.3,100.5C584.5,100.3 587.8,101.0 590.8,102.3C593.8,103.6 597.5,106.0 600.5,108.4C603.5,110.8 606.6,114.1 609.0,116.9C611.4,119.7 612.9,122.8 615.1,125.4C617.3,128.0 620.2,130.9 622.4,132.7C624.6,134.5 626.7,134.5 628.5,136.3C630.3,138.1 632.1,142.0 633.3,143.6C634.5,145.2 636.0,145.1 635.8,146.1C635.6,147.1 633.5,148.7 632.1,149.7C630.7,150.7 628.9,151.7 627.3,152.1C625.7,152.5 624.4,151.9 622.4,152.1C620.4,152.3 617.5,152.8 615.1,153.4C612.7,154.0 610.6,155.2 607.8,155.8C605.0,156.4 600.9,157.0 598.1,157.0C595.3,157.0 593.2,156.6 590.8,155.8C588.4,155.0 585.7,153.5 583.5,152.1C581.3,150.7 579.4,148.7 577.4,147.3C575.4,145.9 572.9,144.8 571.3,143.6C569.7,142.4 568.5,141.6 567.7,140.0C566.9,138.4 566.3,135.9 566.5,133.9C566.7,131.9 568.1,130.2 568.9,127.8C569.7,125.4 570.5,122.1 571.3,119.3C572.1,116.5 572.8,113.4 573.8,110.8C574.8,108.2 576.0,105.2 577.4,103.5C578.8,101.8 580.1,100.7 582.3,100.5Z" fill="#2e8b57"/><path d="M582.3,100.5C584.5,100.3 587.8,101.0 590.8,102.3C593.8,103.6 597.5,106.0 600.5,108.4C603.5,110.8 606.6,114.1 609.0,116.9C611.4,119.7 613.5,123.2 615.1,125.4C616.7,127.6 619.3,129.7 618.8,130.3C618.3,130.9 614.6,129.5 612.0,129.0C609.4,128.5 606.5,127.4 603.0,127.2C599.5,127.0 594.9,127.3 590.8,127.8C586.7,128.3 582.0,129.7 578.6,130.3C575.2,130.9 571.7,131.9 570.1,131.5C568.5,131.1 568.7,129.8 568.9,127.8C569.1,125.8 570.5,122.1 571.3,119.3C572.1,116.5 572.8,113.4 573.8,110.8C574.8,108.2 576.0,105.2 577.4,103.5C578.8,101.8 580.1,100.7 582.3,100.5Z" fill="#4169e1"/><path d="M600.0,128.0C602.3,127.2 608.7,128.0 612.0,129.0C615.3,130.0 617.3,131.8 620.0,134.0C622.7,136.2 626.3,139.3 628.0,142.0C629.7,144.7 631.3,148.7 630.0,150.0C628.7,151.3 623.7,151.7 620.0,150.0C616.3,148.3 611.7,142.7 608.0,140.0C604.3,137.3 599.3,136.0 598.0,134.0C596.7,132.0 597.7,128.8 600.0,128.0Z" fill="#add8e6" fill-opacity="0.20"/><path d="M567.0,128.0C567.7,125.7 570.3,124.8 571.0,127.0C571.7,129.2 571.7,138.7 571.0,141.0C570.3,143.3 567.7,143.2 567.0,141.0C566.3,138.8 566.3,130.3 567.0,128.0Z" fill="#4169e1" fill-opacity="0.80"/><path d="M615.1,152.1C616.5,149.7 620.0,150.9 622.4,150.9C624.8,150.9 627.7,150.9 629.7,152.1C631.7,153.3 633.8,156.4 634.6,158.2C635.4,160.0 635.4,161.5 634.6,163.1C633.8,164.7 631.3,166.4 629.7,168.0C628.1,169.6 627.2,171.6 624.8,172.8C622.4,174.0 617.5,174.8 615.1,175.0C612.7,175.2 610.4,175.6 610.2,174.0C610.0,172.4 613.1,169.2 613.9,165.5C614.7,161.8 613.7,154.5 615.1,152.1Z" fill="#3ec43e"/><path d="M626.0,143.6C626.6,141.6 629.5,140.8 630.9,141.2C632.3,141.6 634.2,144.3 634.6,146.1C635.0,147.9 634.5,150.9 633.3,152.1C632.1,153.3 628.5,154.8 627.3,153.4C626.1,152.0 625.4,145.6 626.0,143.6Z" fill="#5b1a8e"/><path d="M537.3,170.4C540.6,169.0 541.8,168.3 544.6,166.7C547.4,165.1 551.5,162.7 554.3,160.7C557.1,158.7 559.6,156.2 561.6,154.6C563.6,153.0 564.7,151.3 566.5,150.9C568.3,150.5 570.2,152.3 572.6,152.1C575.0,151.9 579.5,149.9 581.1,149.7C582.7,149.5 583.1,149.9 582.3,150.9C581.5,151.9 578.2,154.6 576.2,155.8C574.2,157.0 572.1,157.2 570.1,158.2C568.1,159.2 566.2,160.5 564.0,161.9C561.8,163.3 559.3,165.1 556.7,166.7C554.1,168.3 551.0,170.4 548.2,171.6C545.4,172.8 542.7,173.3 539.7,174.0C536.7,174.7 532.5,175.8 530.0,176.0C527.5,176.2 523.8,175.9 525.0,175.0C526.2,174.1 534.0,171.8 537.3,170.4Z" fill="#e8161b"/><path d="M518.2,153.4C519.4,152.2 522.3,150.2 524.3,149.7C526.3,149.2 528.6,149.5 530.4,150.3C532.2,151.1 534.1,152.9 535.3,154.6C536.5,156.3 537.5,158.3 537.7,160.7C537.9,163.1 537.7,167.5 536.5,169.0C535.3,170.5 532.4,169.6 530.4,169.5C528.4,169.4 526.1,169.4 524.3,168.5C522.5,167.6 520.7,165.9 519.5,164.0C518.3,162.1 517.2,158.8 517.0,157.0C516.8,155.2 517.0,154.6 518.2,153.4Z" fill="#8470ff"/><path d="M644.0,131.1C644.5,130.1 647.0,128.7 648.2,127.5C649.3,126.4 650.0,124.6 650.9,124.3C651.7,124.0 653.4,124.3 653.5,125.7C653.7,127.2 652.5,131.4 651.7,132.9C651.0,134.5 650.1,134.9 649.1,135.1C648.0,135.2 646.3,134.5 645.5,133.8C644.6,133.1 643.6,132.2 644.0,131.1Z" fill="#e8161b"/><path d="M672.4,127.5C672.5,126.1 673.4,124.7 674.2,124.3C674.9,123.9 676.6,124.0 676.9,124.8C677.2,125.7 676.6,128.0 676.0,129.3C675.4,130.7 673.9,133.2 673.3,132.9C672.7,132.6 672.2,129.0 672.4,127.5Z" fill="#e8161b"/><path d="M676.7,150.1C677.8,148.1 680.0,143.5 681.7,141.7C683.4,139.9 685.5,138.6 686.8,139.2C688.1,139.8 689.2,142.9 689.3,145.0C689.4,147.1 688.6,149.5 687.6,151.7C686.6,153.9 684.6,156.2 683.4,158.4C682.1,160.6 680.9,162.9 680.1,165.1C679.3,167.3 679.2,171.0 678.4,171.8C677.6,172.6 675.9,172.1 675.1,170.1C674.3,168.1 673.4,162.9 673.4,160.1C673.4,157.3 674.5,155.1 675.1,153.4C675.7,151.7 675.6,152.1 676.7,150.1Z" fill="#000080"/><path d="M680.1,163.4C681.2,160.9 683.2,157.9 685.1,156.8C687.0,155.7 689.6,156.0 691.8,156.8C694.0,157.6 697.1,159.6 698.5,161.8C699.9,164.0 700.4,167.3 700.1,170.1C699.8,172.9 699.0,176.8 696.8,178.5C694.6,180.2 689.6,180.2 686.8,180.2C684.0,180.2 681.5,179.9 680.1,178.5C678.7,177.1 678.4,174.3 678.4,171.8C678.4,169.3 679.0,165.9 680.1,163.4Z" fill="#cc8a8f"/><path d="M675.1,163.4C676.2,161.7 680.6,161.7 681.7,163.4C682.8,165.1 682.8,171.8 681.7,173.5C680.6,175.2 676.2,175.2 675.1,173.5C674.0,171.8 674.0,165.1 675.1,163.4Z" fill="#148a8a" fill-opacity="0.60"/><path d="M513.4,175.3C514.3,172.5 516.2,170.7 518.2,169.2C520.2,167.7 523.1,166.6 525.5,166.1C527.9,165.6 531.0,165.6 532.8,166.1C534.6,166.6 536.1,167.5 536.5,169.2C536.9,170.9 535.7,174.1 535.3,176.5C534.9,178.9 533.8,181.8 534.0,183.8C534.2,185.8 536.9,187.2 536.5,188.6C536.1,190.0 533.2,190.7 531.6,192.3C530.0,193.9 528.3,196.8 526.7,198.4C525.1,200.0 523.5,201.6 521.9,202.0C520.3,202.4 518.4,202.0 517.0,200.8C515.6,199.6 514.1,197.1 513.4,194.7C512.7,192.3 512.8,189.4 512.8,186.2C512.8,183.0 512.5,178.1 513.4,175.3Z" fill="#f06eb4"/><path d="M524.3,203.2C525.1,201.0 527.2,197.1 529.2,194.7C531.2,192.3 534.1,189.8 536.5,188.6C538.9,187.4 541.6,187.0 543.8,187.4C546.0,187.8 549.0,189.3 549.8,191.1C550.6,192.9 549.2,196.0 548.6,198.4C548.0,200.8 547.4,203.5 546.2,205.7C545.0,207.9 543.3,210.4 541.3,211.7C539.3,213.0 536.4,213.4 534.0,213.6C531.6,213.8 528.3,213.8 526.7,212.9C525.1,212.0 524.7,209.7 524.3,208.1C523.9,206.5 523.5,205.4 524.3,203.2Z" fill="#f0604a"/><path d="M513.4,202.0C514.0,200.9 517.0,200.2 518.2,200.8C519.4,201.4 521.3,204.6 520.7,205.7C520.1,206.8 515.8,208.1 514.6,207.5C513.4,206.9 512.8,203.1 513.4,202.0Z" fill="#f0604a"/><path d="M600.3,188.9C601.5,187.0 606.3,182.7 609.6,180.0C613.0,177.3 617.7,174.3 620.4,172.8C623.1,171.3 624.3,171.3 625.7,171.0C627.2,170.7 630.5,169.4 629.3,171.0C628.1,172.6 622.5,177.6 618.6,180.9C614.7,184.2 608.7,188.9 606.0,190.7C603.3,192.5 603.4,191.9 602.4,191.6C601.5,191.3 599.1,190.9 600.3,188.9Z" fill="#3ec43e"/><path d="M596.6,186.4C597.7,186.6 598.2,188.0 598.7,189.6C599.2,191.2 599.3,193.7 599.3,196.0C599.3,198.3 598.6,201.1 598.7,203.4C598.8,205.7 599.3,208.4 599.8,209.8C600.3,211.2 601.2,211.0 601.9,211.9C602.6,212.8 604.0,213.7 604.0,215.1C604.0,216.5 602.6,218.8 601.9,220.4C601.2,222.0 599.8,223.3 599.8,224.7C599.8,226.1 600.8,227.8 601.9,228.9C603.0,230.0 605.1,230.4 606.2,231.1C607.3,231.8 608.5,232.1 608.3,233.2C608.1,234.2 606.5,236.0 605.1,237.4C603.7,238.8 602.1,240.6 599.8,241.7C597.5,242.8 594.0,243.6 591.3,243.8C588.6,244.0 586.1,243.7 583.8,242.8C581.5,241.9 578.7,240.4 577.4,238.5C576.1,236.6 575.9,233.8 575.9,231.1C575.9,228.4 576.8,225.4 577.4,222.6C578.0,219.8 578.9,216.7 579.6,214.0C580.3,211.3 580.8,209.1 581.7,206.6C582.6,204.1 583.8,201.4 584.9,199.1C586.0,196.8 586.9,194.6 588.1,192.8C589.3,191.0 590.9,189.6 592.3,188.5C593.7,187.4 595.5,186.2 596.6,186.4Z" fill="#5b1a8e"/><path d="M607.2,215.1C608.1,213.8 610.1,212.6 611.5,211.9C612.9,211.2 614.5,210.9 615.7,210.9C616.9,210.9 618.2,211.0 618.9,211.9C619.6,212.8 619.6,214.4 620.0,216.2C620.4,218.0 621.1,220.6 621.1,222.6C621.1,224.6 620.7,226.7 620.0,227.9C619.3,229.1 618.0,229.5 616.8,230.0C615.6,230.5 613.8,231.3 612.6,231.1C611.4,230.9 610.3,230.0 609.4,228.9C608.5,227.8 607.7,226.3 607.2,224.7C606.7,223.1 606.2,221.0 606.2,219.4C606.2,217.8 606.3,216.3 607.2,215.1Z" fill="#5b1a8e"/><path d="M606.0,231.0C607.4,230.5 610.8,232.6 612.6,233.2C614.4,233.8 615.6,233.8 616.8,234.3C618.0,234.8 619.6,235.5 620.0,236.4C620.4,237.3 619.8,239.3 618.9,239.6C618.0,239.9 616.3,238.4 614.7,238.0C613.1,237.6 611.2,237.7 609.4,237.4C607.6,237.1 604.6,237.1 604.0,236.0C603.4,234.9 604.6,231.5 606.0,231.0Z" fill="#5b1a8e" fill-opacity="0.90"/><path d="M621.1,224.7C621.5,223.6 623.4,222.7 624.3,223.6C625.2,224.5 626.4,228.4 626.4,230.0C626.4,231.6 625.0,233.2 624.3,233.2C623.6,233.2 622.6,231.4 622.1,230.0C621.6,228.6 620.7,225.8 621.1,224.7Z" fill="#c4f53a" fill-opacity="0.80"/><path d="M620.4,249.9C622.0,248.1 624.5,247.0 627.5,246.3C630.5,245.7 634.4,245.8 638.3,246.0C642.2,246.1 647.9,246.3 650.9,247.2C653.8,248.2 655.2,250.1 656.2,251.7C657.3,253.3 657.9,255.0 657.3,257.1C656.7,259.2 654.9,262.4 652.6,264.3C650.4,266.1 646.7,267.7 643.7,268.2C640.7,268.7 637.4,268.0 634.7,267.1C632.0,266.2 629.6,264.1 627.5,262.8C625.4,261.5 623.8,260.2 622.2,259.2C620.5,258.3 618.0,258.6 617.7,257.1C617.4,255.5 618.7,251.7 620.4,249.9Z" fill="#e6a3e6"/><path d="M675.9,181.8C676.5,179.6 678.6,178.8 680.1,180.2C681.6,181.6 683.2,186.9 685.1,190.2C687.0,193.5 689.3,197.7 691.8,200.2C694.3,202.7 698.0,203.6 700.1,205.3C702.2,207.0 703.4,208.1 704.3,210.3C705.1,212.5 705.5,215.8 705.2,218.6C704.9,221.4 704.0,224.8 702.6,227.0C701.2,229.2 698.9,230.9 696.8,232.0C694.7,233.1 692.3,234.0 690.1,233.7C687.9,233.4 685.4,232.0 683.4,230.3C681.4,228.6 679.6,226.4 678.4,223.6C677.1,220.8 675.9,216.6 675.9,213.6C675.9,210.6 678.3,208.7 678.4,205.3C678.5,202.0 677.1,197.4 676.7,193.5C676.3,189.6 675.3,184.0 675.9,181.8Z" fill="#8b4513"/><path d="M673.4,230.3C674.5,228.6 680.0,222.8 681.7,222.0C683.4,221.2 684.5,223.6 683.4,225.3C682.3,227.0 676.8,231.2 675.1,232.0C673.4,232.8 672.3,232.0 673.4,230.3Z" fill="#000080" fill-opacity="0.80"/><path d="M682.6,193.5C683.2,191.8 683.9,189.3 685.1,190.2C686.4,191.0 688.7,196.4 690.1,198.6C691.5,200.8 694.0,202.5 693.4,203.6C692.8,204.7 688.8,205.9 686.8,205.3C684.8,204.7 682.4,202.2 681.7,200.2C681.0,198.2 682.0,195.2 682.6,193.5Z" fill="#ffffff"/><path d="M639.7,211.4C640.0,210.4 641.2,208.6 641.9,208.3C642.6,208.0 643.9,208.8 644.0,209.6C644.2,210.4 643.4,212.4 642.8,213.1C642.1,213.9 640.6,214.3 640.1,214.0C639.6,213.7 639.4,212.3 639.7,211.4Z" fill="#a8335e"/><circle cx="577.3" cy="135.6" r="1.2" fill="#000080"/><circle cx="653.5" cy="151.7" r="1.2" fill="#000080"/><circle cx="665.6" cy="88.1" r="1.2" fill="#000080"/><circle cx="674.2" cy="230.2" r="1.3" fill="#000080"/><circle cx="681.3" cy="223.0" r="1.3" fill="#000080"/><circle cx="690.3" cy="233.8" r="1.3" fill="#000080"/></g><rect x="502.7" y="53.8" width="212.1" height="235.6" fill="none" stroke="#333" stroke-width="1.1"/><line x1="535.9" y1="289.4" x2="535.9" y2="292.7" stroke="#333" stroke-width="1.1"/><text x="535.9" y="304.6" font-size="11.4" fill="#404040" text-anchor="middle">−10</text><line x1="573.7" y1="289.4" x2="573.7" y2="292.7" stroke="#333" stroke-width="1.1"/><text x="573.7" y="304.6" font-size="11.4" fill="#404040" text-anchor="middle">−5</text><line x1="611.5" y1="289.4" x2="611.5" y2="292.7" stroke="#333" stroke-width="1.1"/><text x="611.5" y="304.6" font-size="11.4" fill="#404040" text-anchor="middle">0</text><line x1="649.3" y1="289.4" x2="649.3" y2="292.7" stroke="#333" stroke-width="1.1"/><text x="649.3" y="304.6" font-size="11.4" fill="#404040" text-anchor="middle">5</text><line x1="687.1" y1="289.4" x2="687.1" y2="292.7" stroke="#333" stroke-width="1.1"/><text x="687.1" y="304.6" font-size="11.4" fill="#404040" text-anchor="middle">10</text>
<rect x="722.8" y="31.4" width="212.1" height="22.4" fill="#d9d9d9" stroke="#3a3a3a" stroke-width="1.1"/><text x="828.8" y="47.1" font-size="11.8" fill="#1a1a1a" text-anchor="middle">3rd trim. Dec. + Placenta Nuclei</text><rect x="722.8" y="53.8" width="212.1" height="235.6" fill="#fff"/><line x1="737.1" y1="53.8" x2="737.1" y2="289.4" stroke="#ededed" stroke-width="0.8"/><line x1="722.8" y1="268.7" x2="934.9" y2="268.7" stroke="#ededed" stroke-width="0.8"/><line x1="774.9" y1="53.8" x2="774.9" y2="289.4" stroke="#ededed" stroke-width="0.8"/><line x1="722.8" y1="230.9" x2="934.9" y2="230.9" stroke="#ededed" stroke-width="0.8"/><line x1="812.7" y1="53.8" x2="812.7" y2="289.4" stroke="#ededed" stroke-width="0.8"/><line x1="722.8" y1="193.1" x2="934.9" y2="193.1" stroke="#ededed" stroke-width="0.8"/><line x1="850.5" y1="53.8" x2="850.5" y2="289.4" stroke="#ededed" stroke-width="0.8"/><line x1="722.8" y1="155.3" x2="934.9" y2="155.3" stroke="#ededed" stroke-width="0.8"/><line x1="888.3" y1="53.8" x2="888.3" y2="289.4" stroke="#ededed" stroke-width="0.8"/><line x1="722.8" y1="117.5" x2="934.9" y2="117.5" stroke="#ededed" stroke-width="0.8"/><line x1="926.1" y1="53.8" x2="926.1" y2="289.4" stroke="#ededed" stroke-width="0.8"/><line x1="722.8" y1="79.7" x2="934.9" y2="79.7" stroke="#ededed" stroke-width="0.8"/><line x1="722.8" y1="287.6" x2="934.9" y2="287.6" stroke="#e4e4e4" stroke-width="1.2"/><line x1="756" y1="53.8" x2="756" y2="289.4" stroke="#e4e4e4" stroke-width="1.2"/><line x1="722.8" y1="249.8" x2="934.9" y2="249.8" stroke="#e4e4e4" stroke-width="1.2"/><line x1="793.8" y1="53.8" x2="793.8" y2="289.4" stroke="#e4e4e4" stroke-width="1.2"/><line x1="722.8" y1="212" x2="934.9" y2="212" stroke="#e4e4e4" stroke-width="1.2"/><line x1="831.6" y1="53.8" x2="831.6" y2="289.4" stroke="#e4e4e4" stroke-width="1.2"/><line x1="722.8" y1="174.2" x2="934.9" y2="174.2" stroke="#e4e4e4" stroke-width="1.2"/><line x1="869.4" y1="53.8" x2="869.4" y2="289.4" stroke="#e4e4e4" stroke-width="1.2"/><line x1="722.8" y1="136.4" x2="934.9" y2="136.4" stroke="#e4e4e4" stroke-width="1.2"/><line x1="907.2" y1="53.8" x2="907.2" y2="289.4" stroke="#e4e4e4" stroke-width="1.2"/><line x1="722.8" y1="98.6" x2="934.9" y2="98.6" stroke="#e4e4e4" stroke-width="1.2"/><line x1="722.8" y1="60.8" x2="934.9" y2="60.8" stroke="#e4e4e4" stroke-width="1.2"/><g filter="url(#rough)"><path d="M862.8,69.2C863.7,68.0 865.3,65.7 867.3,65.1C869.2,64.5 872.3,64.7 874.4,65.7C876.5,66.6 878.8,69.1 879.8,71.0C880.9,73.0 880.2,75.2 880.7,77.3C881.3,79.4 882.4,81.5 883.0,83.6C883.6,85.7 884.5,88.5 884.3,89.9C884.1,91.3 882.7,92.6 881.6,92.0C880.6,91.4 879.2,88.1 878.0,86.3C876.8,84.4 876.1,82.1 874.4,80.9C872.8,79.7 870.0,79.7 868.2,79.1C866.4,78.5 864.7,78.4 863.7,77.3C862.6,76.3 862.0,74.2 861.9,72.8C861.7,71.5 861.9,70.5 862.8,69.2Z" fill="#ff00ff"/><path d="M875.3,80.9C875.6,79.7 878.5,78.7 879.8,79.1C881.1,79.6 882.3,81.8 883.0,83.6C883.8,85.4 884.5,88.5 884.3,89.9C884.1,91.3 882.7,92.6 881.6,92.0C880.6,91.4 879.1,88.1 878.0,86.3C877.0,84.4 875.0,82.1 875.3,80.9Z" fill="#808000" fill-opacity="0.80"/><path d="M803.4,104.9C804.8,104.1 806.4,105.7 808.2,107.3C810.0,108.9 812.3,111.8 814.3,114.6C816.3,117.4 818.4,121.5 820.4,124.3C822.4,127.1 826.5,129.6 826.5,131.6C826.5,133.6 823.0,135.3 820.4,136.5C817.8,137.7 813.3,139.3 810.7,138.9C808.1,138.5 806.4,136.8 804.6,134.0C802.8,131.2 800.5,125.5 799.7,121.9C798.9,118.3 799.1,115.0 799.7,112.2C800.3,109.4 802.0,105.7 803.4,104.9Z" fill="#c4f53a" fill-opacity="0.60"/><path d="M808.2,140.1C810.2,138.1 816.8,134.6 820.4,134.0C824.0,133.4 826.6,135.5 830.1,136.5C833.6,137.5 837.7,138.5 841.1,140.1C844.5,141.7 848.8,144.2 850.8,146.2C852.8,148.2 853.0,149.5 853.2,152.3C853.4,155.1 853.0,159.8 852.0,163.2C851.0,166.6 849.1,171.0 847.1,173.0C845.1,175.0 841.8,176.0 839.8,175.4C837.8,174.8 837.0,171.3 835.0,169.3C833.0,167.3 829.9,165.0 827.7,163.2C825.5,161.4 823.8,160.4 821.6,158.4C819.4,156.4 816.5,153.1 814.3,151.1C812.1,149.1 809.2,148.0 808.2,146.2C807.2,144.4 806.2,142.1 808.2,140.1Z" fill="#c4f53a"/><path d="M800.9,109.7C802.7,107.1 811.2,109.0 814.3,112.2C817.3,115.5 819.4,125.1 819.2,129.2C819.0,133.2 815.7,136.7 813.1,136.5C810.5,136.3 805.4,132.5 803.4,128.0C801.4,123.5 799.1,112.3 800.9,109.7Z" fill="#808000" fill-opacity="0.40"/><path d="M821.6,163.2C822.2,162.0 825.5,161.4 826.5,162.0C827.5,162.6 828.3,165.7 827.7,166.9C827.1,168.1 823.8,169.9 822.8,169.3C821.8,168.7 821.0,164.4 821.6,163.2Z" fill="#8b4513" fill-opacity="0.70"/><path d="M897.8,145.5C898.8,143.4 901.2,142.2 903.1,141.9C905.1,141.6 908.2,142.2 909.4,143.7C910.6,145.2 909.3,148.5 910.3,150.8C911.4,153.2 915.1,155.5 915.7,158.0C916.3,160.6 915.4,164.7 913.9,166.1C912.4,167.4 909.1,166.8 906.7,166.1C904.3,165.3 901.2,163.5 899.5,161.6C897.9,159.7 897.2,157.1 896.9,154.4C896.6,151.7 896.7,147.6 897.8,145.5Z" fill="#000080"/><path d="M906.7,167.0C907.8,165.8 910.3,164.5 912.1,164.8C913.9,165.1 916.6,167.6 917.5,168.8C918.4,170.0 919.4,171.5 917.5,172.0C915.5,172.5 907.6,172.8 905.8,172.0C904.0,171.2 905.7,168.2 906.7,167.0Z" fill="#cc8a8f"/><path d="M741.7,154.4C741.9,153.2 743.7,151.3 745.3,150.8C747.0,150.4 749.9,150.8 751.6,151.7C753.2,152.6 755.3,155.0 755.2,156.2C755.0,157.4 752.5,158.6 750.7,158.9C748.9,159.2 745.9,158.8 744.4,158.0C742.9,157.3 741.6,155.6 741.7,154.4Z" fill="#c4f53a" fill-opacity="0.80"/><path d="M779.4,157.1C779.8,156.3 781.8,155.0 783.0,155.3C784.2,155.6 786.4,157.9 786.6,158.9C786.7,159.9 784.9,161.0 783.9,161.2C782.8,161.5 781.0,160.9 780.3,160.2C779.5,159.5 778.9,157.9 779.4,157.1Z" fill="#c4f53a" fill-opacity="0.70"/><path d="M738.1,168.8C739.2,167.0 741.7,163.1 743.5,161.6C745.3,160.1 747.4,159.5 748.9,159.8C750.4,160.1 752.2,161.9 752.5,163.4C752.8,164.9 748.9,167.9 750.7,168.8C752.5,169.7 760.9,168.2 763.2,168.8C765.6,169.3 769.4,171.5 765.0,172.0C760.7,172.5 741.7,172.5 737.2,172.0C732.8,171.5 737.1,170.5 738.1,168.8Z" fill="#f0604a" fill-opacity="0.50"/><path d="M736.3,172.8C736.8,171.6 737.4,171.3 739.0,171.0C740.7,170.7 744.9,169.2 746.2,171.0C747.6,172.8 747.1,178.8 747.1,181.8C747.1,184.7 745.3,186.8 746.2,188.9C747.1,191.0 750.2,192.2 752.5,194.3C754.7,196.4 758.4,198.6 759.7,201.5C760.9,204.3 761.2,209.6 760.0,211.4C758.8,213.1 754.9,212.6 752.5,211.9C750.0,211.1 747.0,209.2 745.3,206.9C743.7,204.5 743.5,201.5 742.6,197.9C741.7,194.3 741.0,188.6 739.9,185.3C738.9,182.1 736.9,180.3 736.3,178.2C735.7,176.1 735.9,174.0 736.3,172.8Z" fill="#f0604a"/><path d="M752.5,172.8C753.2,172.0 755.9,171.3 757.9,171.0C759.8,170.7 764.1,170.4 764.1,171.0C764.1,171.6 759.7,173.8 757.9,174.6C756.1,175.3 754.3,175.8 753.4,175.5C752.5,175.2 751.7,173.5 752.5,172.8Z" fill="#f0604a" fill-opacity="0.70"/><path d="M816.0,188.2C816.9,188.4 818.7,189.3 818.7,190.9C818.7,192.5 816.9,195.5 816.0,197.8C815.1,200.1 814.7,202.6 813.3,204.6C811.9,206.6 809.6,208.5 807.8,210.1C806.0,211.7 803.9,212.6 802.3,214.2C800.7,215.8 799.3,219.2 798.2,219.7C797.1,220.1 796.2,218.1 795.5,216.9C794.8,215.8 793.6,214.4 794.1,212.8C794.6,211.2 796.6,209.5 798.2,207.4C799.8,205.3 801.9,202.6 803.7,200.5C805.5,198.4 807.6,196.8 809.2,195.0C810.8,193.2 812.2,190.7 813.3,189.6C814.4,188.5 815.1,188.0 816.0,188.2Z" fill="#5b1a8e" fill-opacity="0.85"/><path d="M796.8,216.9C798.0,215.1 801.2,213.7 803.7,212.8C806.2,211.9 809.2,211.3 811.9,211.5C814.6,211.7 817.1,214.0 820.1,214.2C823.1,214.4 827.0,212.8 829.7,212.8C832.4,212.8 834.5,213.0 836.5,214.2C838.5,215.3 840.9,217.6 842.0,219.7C843.1,221.8 843.9,224.9 843.4,226.5C842.9,228.1 841.3,228.5 839.2,229.2C837.1,229.9 833.5,229.7 831.0,230.6C828.5,231.5 826.5,233.1 824.2,234.7C821.9,236.3 819.7,238.8 817.4,240.2C815.1,241.6 812.8,242.9 810.5,242.9C808.2,242.9 805.8,241.8 803.7,240.2C801.7,238.6 799.5,236.1 798.2,233.4C797.0,230.7 796.4,226.6 796.2,223.8C796.0,221.1 795.5,218.7 796.8,216.9Z" fill="#c4f53a"/><path d="M831.0,233.4C831.7,233.0 834.2,233.2 836.5,233.4C838.8,233.6 842.4,233.3 844.7,234.7C847.0,236.1 848.4,239.1 850.2,241.6C852.0,244.1 855.2,248.2 855.7,249.8C856.2,251.4 854.3,252.0 852.9,251.1C851.5,250.2 849.5,246.6 847.5,244.3C845.5,242.0 843.1,238.9 840.6,237.5C838.1,236.1 834.0,236.8 832.4,236.1C830.8,235.4 830.3,233.8 831.0,233.4Z" fill="#c4f53a" fill-opacity="0.75"/><path d="M844.7,252.5C845.6,251.1 850.2,250.5 852.9,249.8C855.6,249.1 858.4,248.6 861.1,248.4C863.8,248.2 867.0,247.7 869.3,248.4C871.6,249.1 873.9,250.4 874.8,252.5C875.7,254.6 875.5,258.4 874.8,260.7C874.1,263.0 872.5,265.0 870.7,266.2C868.9,267.4 866.2,267.6 863.9,267.6C861.6,267.6 859.0,267.1 857.0,266.2C855.0,265.3 853.2,263.5 851.6,262.1C850.0,260.7 848.6,259.6 847.5,258.0C846.4,256.4 843.8,253.9 844.7,252.5Z" fill="#e6a3e6"/><path d="M899.5,212.6C901.6,210.8 907.6,208.1 910.3,206.9C913.0,205.6 913.3,204.8 915.7,205.1C918.1,205.4 923.1,206.0 924.7,208.7C926.2,211.4 925.6,217.3 925.0,221.2C924.4,225.1 922.6,229.2 921.1,232.0C919.5,234.7 917.5,237.4 915.7,237.7C913.9,238.1 911.8,235.6 910.3,234.1C908.8,232.6 908.2,230.5 906.7,228.7C905.2,227.0 902.8,225.2 901.3,223.4C899.8,221.6 898.1,219.8 897.8,218.0C897.5,216.2 897.5,214.5 899.5,212.6Z" fill="#8b4513"/><path d="M911.2,201.5C911.5,200.1 913.0,198.8 913.9,199.7C914.8,200.6 916.9,205.5 916.6,206.9C916.3,208.2 913.0,208.7 912.1,207.8C911.2,206.9 910.9,202.8 911.2,201.5Z" fill="#8b4513"/><path d="M898.1,185.3C898.5,184.2 900.2,182.4 901.0,183.6C901.8,184.7 902.9,190.7 902.8,192.5C902.7,194.3 901.1,194.6 900.4,194.3C899.8,194.0 899.0,192.2 898.6,190.7C898.3,189.2 897.7,186.5 898.1,185.3Z" fill="#8b4513" fill-opacity="0.80"/><path d="M859.1,210.1C859.6,209.1 862.2,207.8 863.2,208.0C864.2,208.2 865.7,210.5 865.2,211.5C864.7,212.5 861.4,214.4 860.4,214.2C859.4,214.0 858.6,211.1 859.1,210.1Z" fill="#a8335e"/><path d="M906.7,174.6C907.3,173.7 910.5,171.6 912.1,171.0C913.7,170.4 916.6,170.3 916.6,171.0C916.6,171.7 913.4,174.6 912.1,175.5C910.8,176.4 909.4,176.5 908.5,176.4C907.6,176.2 906.1,175.5 906.7,174.6Z" fill="#cc8a8f"/><circle cx="870.9" cy="128.4" r="1.3" fill="#000080"/><circle cx="895.1" cy="124.8" r="1.3" fill="#000080"/><circle cx="787.5" cy="141.0" r="1.3" fill="#000080"/><circle cx="874.4" cy="130.2" r="1.3" fill="#000080"/><circle cx="799.1" cy="224.8" r="1.2" fill="#000080"/><circle cx="806.3" cy="237.4" r="1.2" fill="#000080"/><circle cx="809.9" cy="232.0" r="1.2" fill="#000080"/><circle cx="815.3" cy="221.2" r="1.2" fill="#000080"/><circle cx="818.8" cy="237.4" r="1.2" fill="#000080"/><circle cx="917.5" cy="180.0" r="1.2" fill="#000080"/><circle cx="913.9" cy="183.6" r="1.2" fill="#000080"/><circle cx="894.2" cy="228.4" r="1.2" fill="#000080"/><circle cx="913.9" cy="237.4" r="1.2" fill="#000080"/></g><rect x="722.8" y="53.8" width="212.1" height="235.6" fill="none" stroke="#333" stroke-width="1.1"/><line x1="756" y1="289.4" x2="756" y2="292.7" stroke="#333" stroke-width="1.1"/><text x="756" y="304.6" font-size="11.4" fill="#404040" text-anchor="middle">−10</text><line x1="793.8" y1="289.4" x2="793.8" y2="292.7" stroke="#333" stroke-width="1.1"/><text x="793.8" y="304.6" font-size="11.4" fill="#404040" text-anchor="middle">−5</text><line x1="831.6" y1="289.4" x2="831.6" y2="292.7" stroke="#333" stroke-width="1.1"/><text x="831.6" y="304.6" font-size="11.4" fill="#404040" text-anchor="middle">0</text><line x1="869.4" y1="289.4" x2="869.4" y2="292.7" stroke="#333" stroke-width="1.1"/><text x="869.4" y="304.6" font-size="11.4" fill="#404040" text-anchor="middle">5</text><line x1="907.2" y1="289.4" x2="907.2" y2="292.7" stroke="#333" stroke-width="1.1"/><text x="907.2" y="304.6" font-size="11.4" fill="#404040" text-anchor="middle">10</text>
<rect x="942.9" y="31.4" width="212.1" height="22.4" fill="#d9d9d9" stroke="#3a3a3a" stroke-width="1.1"/><text x="1049" y="47.1" font-size="11.8" fill="#1a1a1a" text-anchor="middle">3rd trim. Chorioamniotic membranes</text><rect x="942.9" y="53.8" width="212.1" height="235.6" fill="#fff"/><line x1="957.2" y1="53.8" x2="957.2" y2="289.4" stroke="#ededed" stroke-width="0.8"/><line x1="942.9" y1="268.7" x2="1155" y2="268.7" stroke="#ededed" stroke-width="0.8"/><line x1="995" y1="53.8" x2="995" y2="289.4" stroke="#ededed" stroke-width="0.8"/><line x1="942.9" y1="230.9" x2="1155" y2="230.9" stroke="#ededed" stroke-width="0.8"/><line x1="1032.8" y1="53.8" x2="1032.8" y2="289.4" stroke="#ededed" stroke-width="0.8"/><line x1="942.9" y1="193.1" x2="1155" y2="193.1" stroke="#ededed" stroke-width="0.8"/><line x1="1070.6" y1="53.8" x2="1070.6" y2="289.4" stroke="#ededed" stroke-width="0.8"/><line x1="942.9" y1="155.3" x2="1155" y2="155.3" stroke="#ededed" stroke-width="0.8"/><line x1="1108.4" y1="53.8" x2="1108.4" y2="289.4" stroke="#ededed" stroke-width="0.8"/><line x1="942.9" y1="117.5" x2="1155" y2="117.5" stroke="#ededed" stroke-width="0.8"/><line x1="1146.2" y1="53.8" x2="1146.2" y2="289.4" stroke="#ededed" stroke-width="0.8"/><line x1="942.9" y1="79.7" x2="1155" y2="79.7" stroke="#ededed" stroke-width="0.8"/><line x1="942.9" y1="287.6" x2="1155" y2="287.6" stroke="#e4e4e4" stroke-width="1.2"/><line x1="976.1" y1="53.8" x2="976.1" y2="289.4" stroke="#e4e4e4" stroke-width="1.2"/><line x1="942.9" y1="249.8" x2="1155" y2="249.8" stroke="#e4e4e4" stroke-width="1.2"/><line x1="1013.9" y1="53.8" x2="1013.9" y2="289.4" stroke="#e4e4e4" stroke-width="1.2"/><line x1="942.9" y1="212" x2="1155" y2="212" stroke="#e4e4e4" stroke-width="1.2"/><line x1="1051.7" y1="53.8" x2="1051.7" y2="289.4" stroke="#e4e4e4" stroke-width="1.2"/><line x1="942.9" y1="174.2" x2="1155" y2="174.2" stroke="#e4e4e4" stroke-width="1.2"/><line x1="1089.5" y1="53.8" x2="1089.5" y2="289.4" stroke="#e4e4e4" stroke-width="1.2"/><line x1="942.9" y1="136.4" x2="1155" y2="136.4" stroke="#e4e4e4" stroke-width="1.2"/><line x1="1127.3" y1="53.8" x2="1127.3" y2="289.4" stroke="#e4e4e4" stroke-width="1.2"/><line x1="942.9" y1="98.6" x2="1155" y2="98.6" stroke="#e4e4e4" stroke-width="1.2"/><line x1="942.9" y1="60.8" x2="1155" y2="60.8" stroke="#e4e4e4" stroke-width="1.2"/><g filter="url(#rough)"><path d="M1075.2,70.1C1077.3,68.6 1084.0,65.5 1088.0,64.6C1092.0,63.7 1096.2,63.4 1098.9,64.6C1101.6,65.8 1103.2,68.6 1104.4,71.9C1105.6,75.2 1105.3,81.4 1106.2,84.7C1107.1,88.0 1110.2,90.2 1109.9,92.0C1109.6,93.8 1106.5,95.6 1104.4,95.6C1102.3,95.6 1098.9,93.8 1097.1,92.0C1095.3,90.2 1095.6,86.8 1093.5,84.7C1091.4,82.6 1087.3,81.0 1084.3,79.2C1081.2,77.4 1076.7,75.2 1075.2,73.7C1073.7,72.2 1073.1,71.6 1075.2,70.1Z" fill="#808000"/><path d="M1073.0,70.0C1073.3,69.2 1076.0,68.2 1077.0,68.5C1078.0,68.8 1079.3,70.7 1079.0,71.5C1078.7,72.3 1076.0,73.8 1075.0,73.5C1074.0,73.2 1072.7,70.8 1073.0,70.0Z" fill="#ff00ff"/><path d="M1020.5,101.1C1023.8,99.6 1028.7,100.5 1033.2,102.9C1037.8,105.3 1042.9,111.4 1047.8,115.7C1052.7,120.0 1058.4,124.2 1062.4,128.5C1066.4,132.8 1069.8,136.6 1071.6,141.2C1073.4,145.8 1073.7,151.8 1073.4,155.8C1073.1,159.8 1071.5,164.4 1069.7,165.0C1067.9,165.6 1066.1,161.0 1062.4,159.5C1058.8,158.0 1053.3,157.0 1047.8,155.8C1042.3,154.6 1034.8,154.3 1029.6,152.2C1024.4,150.1 1019.5,146.8 1016.8,143.1C1014.1,139.4 1013.8,135.5 1013.2,130.3C1012.6,125.1 1012.0,116.9 1013.2,112.0C1014.4,107.1 1017.2,102.6 1020.5,101.1Z" fill="#add8e6"/><path d="M1020.5,101.1C1023.8,99.6 1028.7,100.5 1033.2,102.9C1037.8,105.3 1042.9,111.4 1047.8,115.7C1052.7,120.0 1060.6,125.2 1062.4,128.5C1064.2,131.8 1061.8,134.9 1058.8,135.8C1055.8,136.7 1049.1,134.5 1044.2,133.9C1039.3,133.3 1034.5,133.0 1029.6,132.1C1024.7,131.2 1017.7,131.8 1015.0,128.5C1012.3,125.2 1012.3,116.6 1013.2,112.0C1014.1,107.4 1017.2,102.6 1020.5,101.1Z" fill="#4169e1"/><path d="M958.1,153.5C958.9,151.4 961.3,149.6 963.5,149.1C965.8,148.5 969.3,148.8 971.6,149.9C973.8,151.1 975.9,154.0 977.0,156.2C978.0,158.5 978.5,161.8 977.9,163.4C977.3,165.0 975.8,165.8 973.4,166.1C971.0,166.4 965.9,165.9 963.5,165.2C961.1,164.4 959.9,163.5 959.0,161.6C958.1,159.7 957.4,155.6 958.1,153.5Z" fill="#8470ff"/><path d="M956.6,174.1C958.7,170.4 966.3,167.4 971.2,166.8C976.1,166.2 983.7,166.8 985.8,170.4C987.9,174.1 983.7,183.8 984.0,188.7C984.3,193.6 987.9,195.9 987.6,199.6C987.3,203.2 985.5,208.5 982.1,210.6C978.8,212.7 971.8,213.6 967.5,212.4C963.2,211.2 958.1,207.2 956.6,203.3C955.1,199.4 958.4,193.6 958.4,188.7C958.4,183.8 954.5,177.8 956.6,174.1Z" fill="#f06eb4"/><path d="M970.0,168.0C971.3,166.8 976.3,166.5 980.0,166.0C983.7,165.5 989.8,164.7 992.0,165.0C994.2,165.3 994.7,166.8 993.0,168.0C991.3,169.2 985.5,171.2 982.0,172.0C978.5,172.8 974.0,173.7 972.0,173.0C970.0,172.3 968.7,169.2 970.0,168.0Z" fill="#f06eb4" fill-opacity="0.80"/><path d="M994.0,163.4C994.0,162.2 997.7,158.9 999.4,157.1C1001.0,155.3 1002.4,153.1 1003.9,152.6C1005.4,152.2 1006.9,153.5 1008.4,154.4C1009.9,155.3 1013.1,156.8 1012.8,158.0C1012.5,159.2 1008.8,160.6 1006.6,161.6C1004.3,162.7 1001.5,164.0 999.4,164.3C997.3,164.6 994.0,164.6 994.0,163.4Z" fill="#e8161b"/><path d="M1117.3,146.4C1117.6,144.3 1120.2,141.8 1121.9,140.9C1123.6,140.0 1126.5,139.7 1127.3,140.9C1128.0,142.1 1127.0,145.8 1126.4,148.2C1125.8,150.6 1124.8,154.6 1123.7,155.5C1122.6,156.4 1121.1,155.2 1120.0,153.7C1118.9,152.2 1117.0,148.5 1117.3,146.4Z" fill="#000080"/><path d="M1117.3,153.7C1118.4,151.7 1121.4,152.2 1123.7,152.8C1126.0,153.4 1128.6,155.3 1131.0,157.3C1133.4,159.3 1136.2,162.2 1138.3,164.6C1140.4,167.0 1144.0,170.1 1143.7,171.9C1143.4,173.7 1139.4,174.9 1136.4,175.5C1133.4,176.1 1128.2,176.1 1125.5,175.5C1122.8,174.9 1121.4,173.7 1120.0,171.9C1118.6,170.1 1117.8,167.6 1117.3,164.6C1116.8,161.6 1116.2,155.7 1117.3,153.7Z" fill="#148a8a"/><path d="M1112.8,168.3C1113.8,166.5 1118.2,165.2 1120.0,166.4C1121.8,167.6 1123.4,172.5 1123.7,175.5C1124.0,178.5 1123.1,183.1 1121.9,184.6C1120.7,186.1 1117.8,185.8 1116.4,184.6C1115.0,183.4 1114.3,180.1 1113.7,177.4C1113.1,174.7 1111.8,170.1 1112.8,168.3Z" fill="#cd853f"/><path d="M1108.8,167.9C1109.4,167.3 1112.4,166.7 1113.3,167.0C1114.2,167.3 1114.8,169.1 1114.2,169.7C1113.6,170.2 1110.6,170.5 1109.7,170.2C1108.8,169.9 1108.2,168.4 1108.8,167.9Z" fill="#f06eb4" fill-opacity="0.80"/><path d="M1023.0,193.7C1024.1,191.5 1028.8,192.5 1030.2,193.7C1031.6,194.9 1031.8,198.5 1031.6,200.9C1031.4,203.3 1030.1,207.2 1028.8,208.1C1027.5,209.0 1024.7,209.0 1023.7,206.6C1022.7,204.2 1021.9,195.8 1023.0,193.7Z" fill="#add8e6" fill-opacity="0.80"/><path d="M1017.2,198.0C1016.7,196.7 1018.9,192.6 1020.1,191.5C1021.3,190.4 1023.4,190.7 1024.4,191.5C1025.4,192.3 1026.1,195.2 1025.9,196.5C1025.7,197.8 1024.5,199.2 1023.0,199.4C1021.5,199.7 1017.7,199.3 1017.2,198.0Z" fill="#4169e1"/><path d="M1018.7,213.9C1021.8,209.6 1029.0,206.1 1036.0,206.6C1043.0,207.1 1056.4,212.1 1060.5,216.7C1064.6,221.3 1061.7,230.2 1060.5,234.1C1059.3,237.9 1058.6,238.6 1053.3,239.8C1048.0,241.0 1034.8,242.5 1028.8,241.3C1022.8,240.1 1018.9,237.2 1017.2,232.6C1015.5,228.0 1015.6,218.2 1018.7,213.9Z" fill="#e6a3e6" fill-opacity="0.25"/><path d="M1025.9,222.5C1027.1,220.3 1029.7,218.7 1031.6,218.2C1033.5,217.7 1036.2,217.9 1037.4,219.6C1038.6,221.3 1037.5,226.4 1038.9,228.3C1040.4,230.2 1043.7,230.5 1046.1,231.2C1048.5,231.9 1051.1,231.9 1053.3,232.6C1055.5,233.3 1058.4,234.5 1059.1,235.5C1059.8,236.5 1059.5,238.2 1057.6,238.4C1055.7,238.7 1050.6,237.4 1047.5,237.0C1044.4,236.6 1041.3,235.7 1038.9,236.2C1036.5,236.7 1035.1,239.4 1033.1,239.8C1031.0,240.2 1028.0,239.8 1026.6,238.4C1025.1,237.0 1024.5,233.8 1024.4,231.2C1024.3,228.5 1024.7,224.7 1025.9,222.5Z" fill="#e6a3e6" fill-opacity="0.80"/><path d="M1075.6,212.2C1075.6,211.2 1078.4,208.4 1080.1,207.8C1081.7,207.1 1084.3,207.5 1085.5,208.3C1086.6,209.1 1087.8,211.7 1086.9,212.6C1086.0,213.6 1082.0,214.1 1080.1,214.0C1078.2,214.0 1075.6,213.3 1075.6,212.2Z" fill="#a8335e"/><path d="M1127.3,191.9C1127.9,190.2 1130.8,189.5 1131.9,191.0C1133.0,192.5 1132.0,198.1 1133.7,201.0C1135.4,203.9 1139.9,206.2 1141.9,208.3C1143.9,210.4 1145.2,211.4 1145.5,213.8C1145.8,216.2 1145.2,220.5 1143.7,222.9C1142.2,225.3 1139.1,227.5 1136.4,228.4C1133.7,229.3 1130.3,228.7 1127.3,228.4C1124.3,228.1 1119.9,228.3 1118.2,226.5C1116.5,224.7 1117.0,220.1 1117.3,217.4C1117.6,214.7 1118.9,212.2 1120.0,210.1C1121.1,208.0 1122.3,206.2 1123.7,204.7C1125.1,203.2 1127.6,203.1 1128.2,201.0C1128.8,198.9 1126.7,193.6 1127.3,191.9Z" fill="#8b4513"/><path d="M1064.0,251.7C1064.8,248.7 1071.1,245.4 1074.7,244.5C1078.3,243.6 1082.2,245.1 1085.5,246.3C1088.8,247.5 1092.4,249.9 1094.4,251.7C1096.5,253.5 1097.7,255.0 1097.7,257.1C1097.7,259.2 1096.5,262.4 1094.4,264.3C1092.4,266.1 1088.5,267.7 1085.5,268.2C1082.5,268.7 1079.2,268.4 1076.5,267.5C1073.8,266.5 1071.4,265.1 1069.3,262.5C1067.2,259.8 1063.1,254.7 1064.0,251.7Z" fill="#e6a3e6"/><circle cx="1026.3" cy="228.4" r="1.2" fill="#000080"/><circle cx="1033.5" cy="221.2" r="1.2" fill="#000080"/><circle cx="1040.6" cy="224.8" r="1.2" fill="#000080"/><circle cx="1049.6" cy="221.2" r="1.2" fill="#000080"/><circle cx="1055.0" cy="224.8" r="1.2" fill="#000080"/><circle cx="1141.1" cy="232.0" r="1.2" fill="#000080"/><circle cx="1116.9" cy="226.6" r="1.2" fill="#000080"/><circle cx="1017.3" cy="134.7" r="1.3" fill="#2e8b57"/><circle cx="1028.1" cy="138.3" r="1.3" fill="#2e8b57"/><circle cx="1035.3" cy="143.7" r="1.3" fill="#2e8b57"/><circle cx="1049.6" cy="140.1" r="1.3" fill="#2e8b57"/><circle cx="1058.6" cy="136.5" r="1.3" fill="#2e8b57"/><circle cx="1067.5" cy="143.7" r="1.3" fill="#2e8b57"/><circle cx="1042.4" cy="147.3" r="1.3" fill="#2e8b57"/></g><rect x="942.9" y="53.8" width="212.1" height="235.6" fill="none" stroke="#333" stroke-width="1.1"/><line x1="976.1" y1="289.4" x2="976.1" y2="292.7" stroke="#333" stroke-width="1.1"/><text x="976.1" y="304.6" font-size="11.4" fill="#404040" text-anchor="middle">−10</text><line x1="1013.9" y1="289.4" x2="1013.9" y2="292.7" stroke="#333" stroke-width="1.1"/><text x="1013.9" y="304.6" font-size="11.4" fill="#404040" text-anchor="middle">−5</text><line x1="1051.7" y1="289.4" x2="1051.7" y2="292.7" stroke="#333" stroke-width="1.1"/><text x="1051.7" y="304.6" font-size="11.4" fill="#404040" text-anchor="middle">0</text><line x1="1089.5" y1="289.4" x2="1089.5" y2="292.7" stroke="#333" stroke-width="1.1"/><text x="1089.5" y="304.6" font-size="11.4" fill="#404040" text-anchor="middle">5</text><line x1="1127.3" y1="289.4" x2="1127.3" y2="292.7" stroke="#333" stroke-width="1.1"/><text x="1127.3" y="304.6" font-size="11.4" fill="#404040" text-anchor="middle">10</text>
<text x="608.3" y="321.3" font-size="14" fill="#000" text-anchor="middle">UMAP_1</text>
<text transform="translate(29.4,171.5) rotate(-90)" font-size="14" fill="#000" text-anchor="middle">UMAP_2</text>
<rect x="62.5" y="354.8" width="212.1" height="22.4" fill="#d9d9d9" stroke="#3a3a3a" stroke-width="1.1"/><text x="168.6" y="370.5" font-size="11.8" fill="#1a1a1a" text-anchor="middle">1st trim. Decidua + Placenta</text><rect x="62.5" y="377.2" width="212.1" height="235.6" fill="#fff"/><line x1="76.8" y1="377.2" x2="76.8" y2="612.8" stroke="#ededed" stroke-width="0.8"/><line x1="62.5" y1="592.1" x2="274.6" y2="592.1" stroke="#ededed" stroke-width="0.8"/><line x1="114.6" y1="377.2" x2="114.6" y2="612.8" stroke="#ededed" stroke-width="0.8"/><line x1="62.5" y1="554.3" x2="274.6" y2="554.3" stroke="#ededed" stroke-width="0.8"/><line x1="152.4" y1="377.2" x2="152.4" y2="612.8" stroke="#ededed" stroke-width="0.8"/><line x1="62.5" y1="516.5" x2="274.6" y2="516.5" stroke="#ededed" stroke-width="0.8"/><line x1="190.2" y1="377.2" x2="190.2" y2="612.8" stroke="#ededed" stroke-width="0.8"/><line x1="62.5" y1="478.7" x2="274.6" y2="478.7" stroke="#ededed" stroke-width="0.8"/><line x1="228" y1="377.2" x2="228" y2="612.8" stroke="#ededed" stroke-width="0.8"/><line x1="62.5" y1="440.9" x2="274.6" y2="440.9" stroke="#ededed" stroke-width="0.8"/><line x1="265.8" y1="377.2" x2="265.8" y2="612.8" stroke="#ededed" stroke-width="0.8"/><line x1="62.5" y1="403.1" x2="274.6" y2="403.1" stroke="#ededed" stroke-width="0.8"/><line x1="62.5" y1="611" x2="274.6" y2="611" stroke="#e4e4e4" stroke-width="1.2"/><line x1="95.7" y1="377.2" x2="95.7" y2="612.8" stroke="#e4e4e4" stroke-width="1.2"/><line x1="62.5" y1="573.2" x2="274.6" y2="573.2" stroke="#e4e4e4" stroke-width="1.2"/><line x1="133.5" y1="377.2" x2="133.5" y2="612.8" stroke="#e4e4e4" stroke-width="1.2"/><line x1="62.5" y1="535.4" x2="274.6" y2="535.4" stroke="#e4e4e4" stroke-width="1.2"/><line x1="171.3" y1="377.2" x2="171.3" y2="612.8" stroke="#e4e4e4" stroke-width="1.2"/><line x1="62.5" y1="497.6" x2="274.6" y2="497.6" stroke="#e4e4e4" stroke-width="1.2"/><line x1="209.1" y1="377.2" x2="209.1" y2="612.8" stroke="#e4e4e4" stroke-width="1.2"/><line x1="62.5" y1="459.8" x2="274.6" y2="459.8" stroke="#e4e4e4" stroke-width="1.2"/><line x1="246.9" y1="377.2" x2="246.9" y2="612.8" stroke="#e4e4e4" stroke-width="1.2"/><line x1="62.5" y1="422" x2="274.6" y2="422" stroke="#e4e4e4" stroke-width="1.2"/><line x1="62.5" y1="384.2" x2="274.6" y2="384.2" stroke="#e4e4e4" stroke-width="1.2"/><g filter="url(#rough)"><g transform="translate(0,323.4)"><path d="M215.2,83.5C216.0,82.5 219.9,80.3 221.5,80.1C223.1,79.9 224.2,81.1 224.9,82.4C225.6,83.7 226.1,86.3 225.5,88.1C224.9,89.9 223.1,92.2 221.5,93.2C219.9,94.2 217.9,93.8 215.8,93.8C213.7,93.8 210.8,93.6 209.0,93.2C207.2,92.8 205.6,92.2 205.0,91.5C204.4,90.8 204.5,89.4 205.5,89.2C206.5,89.0 209.3,90.3 211.2,90.3C213.1,90.3 216.0,90.0 216.9,89.2C217.8,88.5 216.7,86.8 216.4,85.8C216.1,84.8 214.3,84.5 215.2,83.5Z" fill="#d6d6d6" fill-opacity="0.75"/><path d="M196.4,73.2C196.8,71.3 199.1,67.8 201.0,66.4C202.9,65.0 205.4,64.7 207.8,64.7C210.2,64.7 213.3,65.2 215.2,66.4C217.1,67.6 218.5,70.0 219.2,72.1C219.9,74.2 219.8,77.4 219.2,78.9C218.6,80.4 217.3,81.4 215.8,81.2C214.3,81.0 211.9,78.1 210.1,77.8C208.3,77.5 206.2,78.4 205.0,79.5C203.8,80.6 203.2,83.0 203.2,84.6C203.2,86.2 205.1,88.2 205.0,89.2C204.9,90.2 203.4,91.1 202.7,90.3C202.0,89.5 201.7,86.7 201.0,84.6C200.3,82.5 199.5,79.7 198.7,77.8C197.9,75.9 196.0,75.1 196.4,73.2Z" fill="#d6d6d6" fill-opacity="0.75"/><path d="M141.3,100.9C144.1,100.4 148.0,100.9 151.9,102.4C155.8,103.9 160.8,107.1 164.7,109.9C168.6,112.8 172.1,116.3 175.3,119.5C178.5,122.7 180.6,125.6 183.8,129.0C187.0,132.4 191.3,137.0 194.5,139.7C197.7,142.4 202.1,143.3 203.0,145.0C203.9,146.7 202.2,148.3 200.0,150.0C197.8,151.7 193.3,153.7 190.0,155.0C186.7,156.3 183.7,157.4 180.0,158.0C176.3,158.6 171.7,158.2 167.9,158.8C164.1,159.4 161.3,162.6 157.2,161.5C153.1,160.4 146.9,156.0 143.4,152.4C139.9,148.8 137.6,144.8 136.0,139.7C134.4,134.6 134.0,127.3 133.8,121.6C133.6,115.9 133.7,109.0 134.9,105.6C136.2,102.1 138.5,101.4 141.3,100.9Z" fill="#d6d6d6" fill-opacity="1.00"/><path d="M136.0,137.6C136.7,137.1 139.4,140.6 141.3,141.8C143.2,143.0 145.4,143.6 147.7,145.0C150.0,146.4 152.6,148.7 155.1,150.3C157.6,151.9 160.8,153.0 162.6,154.6C164.4,156.2 166.6,158.8 165.7,159.9C164.8,161.1 160.9,162.7 157.2,161.5C153.5,160.3 146.8,155.8 143.4,153.0C140.0,150.2 138.2,147.6 137.0,145.0C135.8,142.4 135.3,138.1 136.0,137.6Z" fill="#d6d6d6" fill-opacity="0.00"/><path d="M175.3,135.4C176.0,132.7 180.6,128.3 183.8,129.0C187.0,129.7 191.7,137.2 194.5,139.7C197.3,142.2 200.6,142.5 200.9,143.9C201.2,145.3 198.7,147.1 196.6,148.2C194.5,149.3 190.9,150.8 188.1,150.3C185.3,149.8 181.7,147.5 179.6,145.0C177.5,142.5 174.6,138.1 175.3,135.4Z" fill="#d6d6d6" fill-opacity="0.00"/><path d="M186.0,145.0C187.1,143.6 192.7,142.8 194.5,143.9C196.3,145.0 197.7,150.0 196.6,151.4C195.5,152.8 189.9,153.5 188.1,152.4C186.3,151.3 184.9,146.4 186.0,145.0Z" fill="#d6d6d6" fill-opacity="0.00"/><path d="M171.1,150.3C172.7,148.4 177.1,147.4 179.6,147.1C182.1,146.8 183.9,145.9 186.0,148.2C188.1,150.5 191.1,158.0 192.3,161.0C193.5,164.0 197.1,165.2 193.4,166.0C189.7,166.8 173.9,167.2 170.0,166.0C166.1,164.8 169.8,161.4 170.0,158.8C170.2,156.2 169.5,152.2 171.1,150.3Z" fill="#d6d6d6" fill-opacity="0.80"/><path d="M126.9,112.6C127.4,111.8 130.6,111.1 131.7,111.5C132.8,111.9 133.8,114.4 133.3,115.2C132.8,116.0 129.6,116.7 128.5,116.3C127.4,115.9 126.4,113.4 126.9,112.6Z" fill="#d6d6d6" fill-opacity="1.00"/><path d="M115.5,159.5C116.3,158.1 120.4,155.8 122.8,154.6C125.2,153.4 128.6,151.6 130.1,152.2C131.6,152.8 132.8,156.6 132.0,158.2C131.2,159.8 127.5,161.1 125.2,161.9C122.9,162.7 119.5,163.5 117.9,163.1C116.3,162.7 114.7,160.9 115.5,159.5Z" fill="#d6d6d6" fill-opacity="0.55"/><path d="M125.3,136.5C126.3,134.4 130.1,134.2 130.6,135.4C131.1,136.6 129.5,141.8 128.5,143.9C127.5,146.0 125.3,149.4 124.8,148.2C124.3,147.0 124.3,138.6 125.3,136.5Z" fill="#d6d6d6" fill-opacity="0.55"/><path d="M206.4,129.3C207.1,127.7 208.8,124.7 210.0,123.9C211.2,123.2 212.8,123.3 213.5,124.8C214.3,126.3 214.9,131.1 214.4,132.9C214.0,134.7 212.3,135.5 210.9,135.6C209.4,135.7 206.2,134.9 205.5,133.8C204.7,132.8 205.6,131.0 206.4,129.3Z" fill="#d6d6d6" fill-opacity="0.55"/><path d="M236.4,124.6C237.3,124.6 238.8,125.7 238.2,127.3C237.6,128.9 234.8,131.3 233.0,134.0C231.2,136.7 229.0,140.7 227.3,143.7C225.6,146.7 223.8,150.8 222.7,151.9C221.6,153.0 220.4,151.8 220.9,150.1C221.4,148.4 224.0,144.8 225.5,141.9C227.0,139.1 228.8,135.4 230.0,133.0C231.2,130.6 231.7,128.7 232.8,127.3C233.9,125.9 235.5,124.6 236.4,124.6Z" fill="#d6d6d6" fill-opacity="0.50"/><path d="M207.2,142.9C209.0,142.6 210.4,146.2 209.4,148.2C208.4,150.1 203.0,152.6 200.9,154.6C198.8,156.6 197.8,159.2 196.6,159.9C195.3,160.6 193.1,160.4 193.4,158.8C193.8,157.2 196.4,153.0 198.7,150.3C201.0,147.7 205.4,143.2 207.2,142.9Z" fill="#d6d6d6" fill-opacity="0.60"/><path d="M206.0,150.0C207.5,149.3 212.3,149.2 215.0,149.0C217.7,148.8 219.3,149.4 222.0,148.5C224.7,147.6 227.7,145.1 231.0,143.7C234.3,142.3 239.5,140.9 242.0,140.0C244.5,139.1 244.8,137.3 246.0,138.0C247.2,138.7 248.5,141.5 249.5,144.0C250.5,146.5 252.4,151.7 252.0,153.0C251.6,154.3 249.0,152.8 247.0,152.0C245.0,151.2 242.8,148.1 240.0,148.0C237.2,147.9 233.0,150.8 230.0,151.5C227.0,152.2 224.7,151.8 222.0,152.0C219.3,152.2 216.7,152.3 214.0,152.5C211.3,152.7 207.3,153.4 206.0,153.0C204.7,152.6 204.5,150.7 206.0,150.0Z" fill="#d6d6d6" fill-opacity="0.50"/><path d="M229.1,152.8C230.8,150.7 235.5,149.5 238.2,147.4C240.9,145.3 243.7,139.5 245.5,140.1C247.3,140.7 247.7,148.3 249.2,151.0C250.7,153.7 253.0,155.0 254.7,156.5C256.4,158.0 258.4,157.1 259.2,160.1C259.9,163.1 259.6,171.6 259.2,174.7C258.8,177.8 258.5,177.8 256.5,178.4C254.5,179.0 249.8,177.8 247.4,178.4C245.0,179.0 243.1,180.2 241.9,182.0C240.7,183.8 240.7,186.9 240.1,189.3C239.5,191.7 238.8,197.2 238.2,196.6C237.6,196.0 237.6,188.7 236.4,185.7C235.2,182.7 232.4,180.8 230.9,178.4C229.4,176.0 227.8,174.2 227.3,171.1C226.9,168.0 227.9,163.1 228.2,160.1C228.5,157.1 227.4,154.9 229.1,152.8Z" fill="#d6d6d6" fill-opacity="0.90"/><path d="M229.1,156.5C230.6,153.2 238.0,152.0 240.1,154.7C242.2,157.4 243.4,169.6 241.9,172.9C240.4,176.2 233.0,177.4 230.9,174.7C228.8,172.0 227.6,159.8 229.1,156.5Z" fill="#d6d6d6" fill-opacity="0.00"/><path d="M227.0,165.0C227.8,162.8 230.2,160.8 231.0,163.0C231.8,165.2 231.2,174.5 232.0,178.0C232.8,181.5 236.2,182.8 236.0,184.0C235.8,185.2 232.7,186.3 231.0,185.0C229.3,183.7 226.7,179.3 226.0,176.0C225.3,172.7 226.2,167.2 227.0,165.0Z" fill="#d6d6d6" fill-opacity="0.00"/><path d="M253.0,175.0C253.5,173.0 257.7,172.5 259.0,174.0C260.3,175.5 261.5,182.0 261.0,184.0C260.5,186.0 257.3,187.5 256.0,186.0C254.7,184.5 252.5,177.0 253.0,175.0Z" fill="#d6d6d6" fill-opacity="0.00"/><path d="M74.2,172.8C75.5,170.8 78.9,167.8 81.5,166.7C84.1,165.6 87.2,166.2 90.0,166.1C92.8,166.0 95.5,166.3 98.5,166.1C101.5,165.9 106.0,164.8 108.2,164.9C110.4,165.0 111.4,165.0 111.8,166.7C112.2,168.4 111.0,172.5 110.6,175.3C110.2,178.2 110.2,181.2 109.4,183.8C108.6,186.4 107.0,189.1 105.8,191.1C104.6,193.1 104.1,194.5 102.1,196.0C100.1,197.5 96.2,199.0 93.6,200.0C91.0,201.0 88.7,201.3 86.3,202.0C83.9,202.7 81.2,203.7 79.0,204.0C76.8,204.3 74.1,204.9 73.0,204.0C71.9,203.1 72.2,201.0 72.3,198.4C72.4,195.8 73.4,191.8 73.6,188.6C73.8,185.3 73.5,181.5 73.6,178.9C73.7,176.3 72.9,174.8 74.2,172.8Z" fill="#d6d6d6" fill-opacity="1.00"/><path d="M77.8,151.6C78.9,150.3 81.9,148.3 83.9,147.9C85.9,147.5 88.0,148.2 90.0,149.1C92.0,150.0 94.6,151.7 96.0,153.4C97.4,155.1 98.0,157.0 98.5,159.5C99.0,162.0 100.0,166.9 99.0,168.5C98.0,170.1 94.7,169.0 92.4,169.0C90.1,169.0 87.1,169.5 85.1,168.5C83.1,167.5 81.5,165.1 80.2,163.0C78.9,160.9 77.6,157.7 77.2,155.8C76.8,153.9 76.7,152.9 77.8,151.6Z" fill="#d6d6d6" fill-opacity="1.00"/><path d="M75.4,187.2C75.7,185.9 77.6,185.9 78.0,187.2C78.4,188.5 78.3,193.8 78.0,195.1C77.7,196.4 76.4,196.4 76.0,195.1C75.6,193.8 75.1,188.5 75.4,187.2Z" fill="#fff" fill-opacity="0.70"/><path d="M98.2,179.9C98.6,179.1 100.1,179.6 100.4,180.6C100.7,181.6 100.4,185.0 100.0,185.8C99.6,186.6 98.5,186.2 98.2,185.2C97.9,184.2 97.8,180.7 98.2,179.9Z" fill="#fff" fill-opacity="0.70"/><path d="M71.7,204.4C72.5,202.7 75.0,200.8 77.8,199.6C80.6,198.4 85.2,198.3 88.7,197.1C92.2,195.9 95.8,193.9 98.5,192.3C101.2,190.7 102.4,187.4 104.6,187.4C106.8,187.4 110.8,190.5 111.8,192.3C112.8,194.1 112.0,196.0 110.6,198.4C109.2,200.8 105.5,204.7 103.3,206.9C101.1,209.1 99.7,210.5 97.3,211.7C94.9,212.9 91.3,214.0 88.7,214.2C86.1,214.4 84.1,213.6 81.5,212.9C78.9,212.2 74.5,211.3 72.9,209.9C71.3,208.5 70.9,206.1 71.7,204.4Z" fill="#d6d6d6" fill-opacity="1.00"/><path d="M171.4,171.0C174.5,169.4 180.4,170.0 181.3,171.0C182.2,172.0 179.2,174.3 176.8,176.7C174.4,179.2 169.9,183.3 166.9,185.7C163.9,188.1 161.0,190.5 158.8,191.1C156.7,191.6 153.2,190.7 153.8,188.9C154.4,187.1 159.5,183.3 162.4,180.3C165.4,177.3 168.3,172.6 171.4,171.0Z" fill="#d6d6d6" fill-opacity="0.70"/><path d="M147.3,190.6C149.1,188.5 152.7,188.8 154.8,189.0C156.9,189.2 158.7,190.0 160.1,191.7C161.5,193.4 163.0,196.6 163.3,199.1C163.7,201.6 162.9,204.5 162.2,206.6C161.5,208.7 159.7,209.9 159.0,211.9C158.3,213.9 157.8,215.8 158.0,218.3C158.2,220.8 159.0,224.5 160.1,226.8C161.2,229.1 163.0,230.8 164.4,232.1C165.8,233.3 168.1,233.2 168.6,234.3C169.1,235.4 169.0,237.1 167.6,238.5C166.2,239.9 162.8,241.9 160.1,242.8C157.4,243.7 154.4,244.0 151.6,243.8C148.8,243.6 145.4,242.4 143.1,241.7C140.8,241.0 139.6,240.3 137.8,239.6C136.0,238.9 132.8,238.1 132.4,237.4C132.0,236.7 135.0,237.1 135.6,235.3C136.2,233.5 135.9,230.2 136.2,226.8C136.5,223.4 136.4,217.9 137.2,215.1C138.0,212.3 139.8,212.1 141.0,209.8C142.2,207.5 143.0,204.5 144.1,201.3C145.2,198.1 145.5,192.7 147.3,190.6Z" fill="#d6d6d6" fill-opacity="1.00"/><path d="M168.6,213.0C169.8,211.9 172.3,210.9 173.9,210.9C175.5,210.9 177.1,211.8 178.2,213.0C179.3,214.2 180.0,216.2 180.3,218.3C180.7,220.4 180.8,223.8 180.3,225.7C179.8,227.6 178.5,228.9 177.1,230.0C175.7,231.1 173.4,231.9 171.8,232.1C170.2,232.3 168.5,232.3 167.6,231.1C166.7,229.9 166.6,227.0 166.5,224.7C166.4,222.4 166.7,219.1 167.0,217.2C167.3,215.2 167.4,214.1 168.6,213.0Z" fill="#d6d6d6" fill-opacity="0.60"/><path d="M133.5,199.1C134.2,196.6 136.0,191.4 137.8,189.6C139.6,187.8 142.3,188.2 144.1,188.5C145.9,188.8 148.0,189.6 148.4,191.7C148.8,193.8 147.2,198.3 146.3,201.3C145.4,204.3 144.7,208.7 143.1,209.8C141.5,210.9 138.3,208.6 136.7,207.7C135.1,206.8 134.0,205.9 133.5,204.5C133.0,203.1 132.8,201.6 133.5,199.1Z" fill="#d6d6d6" fill-opacity="1.00"/><path d="M196.1,214.0C196.6,212.6 198.5,209.4 200.1,208.3C201.6,207.2 204.2,206.7 205.5,207.4C206.7,208.1 208.2,211.0 207.6,212.2C207.1,213.5 203.9,214.3 202.2,215.1C200.5,215.9 198.4,217.1 197.4,216.9C196.4,216.7 195.7,215.5 196.1,214.0Z" fill="#d6d6d6" fill-opacity="0.60"/><path d="M173.9,234.3C174.4,233.4 178.8,232.4 180.3,232.7C181.8,233.0 183.5,235.0 183.0,235.9C182.5,236.8 178.6,238.3 177.1,238.0C175.6,237.7 173.4,235.2 173.9,234.3Z" fill="#d6d6d6" fill-opacity="0.60"/><path d="M171.8,210.9C172.0,209.8 174.1,207.5 175.0,207.7C175.9,207.9 177.3,210.8 177.1,211.9C176.9,213.0 174.8,214.2 173.9,214.0C173.0,213.8 171.6,212.0 171.8,210.9Z" fill="#d6d6d6" fill-opacity="0.60"/><path d="M178.2,223.6C177.8,221.5 180.6,220.5 182.4,222.6C184.2,224.7 187.0,232.2 188.8,236.4C190.6,240.7 192.9,246.0 193.1,248.1C193.3,250.2 191.3,251.2 189.9,249.1C188.5,247.0 186.6,239.6 184.6,235.3C182.6,231.1 178.6,225.7 178.2,223.6Z" fill="#d6d6d6" fill-opacity="0.60"/><path d="M172.2,262.2C172.7,259.9 174.7,258.0 176.5,256.9C178.3,255.8 181.4,256.4 183.0,255.8C184.6,255.2 186.6,254.6 186.2,253.6C185.8,252.6 181.9,251.0 180.8,249.9C179.7,248.8 179.1,247.3 179.8,247.2C180.5,247.1 183.3,248.6 185.1,249.3C186.9,250.0 188.7,251.7 190.5,251.5C192.3,251.3 194.3,249.0 195.9,248.3C197.5,247.6 198.0,247.0 200.2,247.2C202.3,247.4 206.5,248.2 208.8,249.3C211.1,250.4 212.7,252.5 214.1,253.6C215.5,254.7 217.4,254.9 217.4,255.8C217.4,256.7 215.5,257.9 214.1,259.0C212.7,260.1 210.6,261.1 208.8,262.2C207.0,263.3 204.8,264.1 203.4,265.5C202.0,266.9 201.1,269.2 200.2,270.8C199.3,272.4 198.7,273.7 198.0,275.1C197.3,276.5 197.2,278.8 195.9,279.4C194.7,279.9 192.7,279.1 190.5,278.4C188.3,277.7 185.3,275.7 183.0,275.1C180.7,274.6 178.1,275.8 176.5,275.1C174.9,274.4 174.0,273.0 173.3,270.8C172.6,268.6 171.7,264.5 172.2,262.2Z" fill="#d6d6d6" fill-opacity="0.85"/><path d="M232.8,202.1C233.9,200.0 236.1,196.9 238.2,196.6C240.3,196.3 243.4,199.6 245.5,200.2C247.6,200.8 248.9,199.9 251.0,200.2C253.1,200.5 256.2,201.5 258.3,202.1C260.4,202.7 262.4,201.8 263.8,203.9C265.2,206.0 266.2,210.6 266.5,214.8C266.8,219.1 266.2,225.7 265.6,229.4C265.0,233.1 264.6,235.0 263.0,237.0C261.4,239.0 258.2,240.6 256.0,241.5C253.8,242.4 251.2,243.1 249.5,242.5C247.8,241.9 247.0,240.4 246.0,238.0C245.0,235.6 244.2,230.7 243.7,228.0C243.2,225.3 243.9,224.3 243.0,222.1C242.1,219.9 240.0,216.9 238.2,214.8C236.3,212.7 232.8,211.5 231.9,209.4C231.0,207.3 231.8,204.2 232.8,202.1Z" fill="#d6d6d6" fill-opacity="1.00"/><path d="M240.1,177.5C241.9,176.3 251.4,175.2 254.7,175.6C258.0,176.0 259.8,178.7 260.1,180.2C260.4,181.7 259.2,184.2 256.5,184.7C253.8,185.1 246.4,184.1 243.7,182.9C241.0,181.7 238.3,178.7 240.1,177.5Z" fill="#d6d6d6" fill-opacity="0.60"/></g></g><circle cx="153.7" cy="560.8" r="1.5" fill="#3a1414"/><rect x="62.5" y="377.2" width="212.1" height="235.6" fill="none" stroke="#333" stroke-width="1.1"/><line x1="95.7" y1="612.8" x2="95.7" y2="616.1" stroke="#333" stroke-width="1.1"/><text x="95.7" y="628" font-size="11.4" fill="#404040" text-anchor="middle">−10</text><line x1="133.5" y1="612.8" x2="133.5" y2="616.1" stroke="#333" stroke-width="1.1"/><text x="133.5" y="628" font-size="11.4" fill="#404040" text-anchor="middle">−5</text><line x1="171.3" y1="612.8" x2="171.3" y2="616.1" stroke="#333" stroke-width="1.1"/><text x="171.3" y="628" font-size="11.4" fill="#404040" text-anchor="middle">0</text><line x1="209.1" y1="612.8" x2="209.1" y2="616.1" stroke="#333" stroke-width="1.1"/><text x="209.1" y="628" font-size="11.4" fill="#404040" text-anchor="middle">5</text><line x1="246.9" y1="612.8" x2="246.9" y2="616.1" stroke="#333" stroke-width="1.1"/><text x="246.9" y="628" font-size="11.4" fill="#404040" text-anchor="middle">10</text><line x1="59" y1="611" x2="62.5" y2="611" stroke="#333" stroke-width="1.1"/><text x="55.3" y="614.9" font-size="11.4" fill="#404040" text-anchor="end">−15</text><line x1="59" y1="573.2" x2="62.5" y2="573.2" stroke="#333" stroke-width="1.1"/><text x="55.3" y="577.1" font-size="11.4" fill="#404040" text-anchor="end">−10</text><line x1="59" y1="535.4" x2="62.5" y2="535.4" stroke="#333" stroke-width="1.1"/><text x="55.3" y="539.3" font-size="11.4" fill="#404040" text-anchor="end">−5</text><line x1="59" y1="497.6" x2="62.5" y2="497.6" stroke="#333" stroke-width="1.1"/><text x="55.3" y="501.5" font-size="11.4" fill="#404040" text-anchor="end">0</text><line x1="59" y1="459.8" x2="62.5" y2="459.8" stroke="#333" stroke-width="1.1"/><text x="55.3" y="463.7" font-size="11.4" fill="#404040" text-anchor="end">5</text><line x1="59" y1="422" x2="62.5" y2="422" stroke="#333" stroke-width="1.1"/><text x="55.3" y="425.9" font-size="11.4" fill="#404040" text-anchor="end">10</text><line x1="59" y1="384.2" x2="62.5" y2="384.2" stroke="#333" stroke-width="1.1"/><text x="55.3" y="388.1" font-size="11.4" fill="#404040" text-anchor="end">15</text>
<rect x="282.6" y="354.8" width="212.1" height="22.4" fill="#d9d9d9" stroke="#3a3a3a" stroke-width="1.1"/><text x="388.7" y="370.5" font-size="11.8" fill="#1a1a1a" text-anchor="middle">2nd trim. Decidua + Placenta</text><rect x="282.6" y="377.2" width="212.1" height="235.6" fill="#fff"/><line x1="296.9" y1="377.2" x2="296.9" y2="612.8" stroke="#ededed" stroke-width="0.8"/><line x1="282.6" y1="592.1" x2="494.7" y2="592.1" stroke="#ededed" stroke-width="0.8"/><line x1="334.7" y1="377.2" x2="334.7" y2="612.8" stroke="#ededed" stroke-width="0.8"/><line x1="282.6" y1="554.3" x2="494.7" y2="554.3" stroke="#ededed" stroke-width="0.8"/><line x1="372.5" y1="377.2" x2="372.5" y2="612.8" stroke="#ededed" stroke-width="0.8"/><line x1="282.6" y1="516.5" x2="494.7" y2="516.5" stroke="#ededed" stroke-width="0.8"/><line x1="410.3" y1="377.2" x2="410.3" y2="612.8" stroke="#ededed" stroke-width="0.8"/><line x1="282.6" y1="478.7" x2="494.7" y2="478.7" stroke="#ededed" stroke-width="0.8"/><line x1="448.1" y1="377.2" x2="448.1" y2="612.8" stroke="#ededed" stroke-width="0.8"/><line x1="282.6" y1="440.9" x2="494.7" y2="440.9" stroke="#ededed" stroke-width="0.8"/><line x1="485.9" y1="377.2" x2="485.9" y2="612.8" stroke="#ededed" stroke-width="0.8"/><line x1="282.6" y1="403.1" x2="494.7" y2="403.1" stroke="#ededed" stroke-width="0.8"/><line x1="282.6" y1="611" x2="494.7" y2="611" stroke="#e4e4e4" stroke-width="1.2"/><line x1="315.8" y1="377.2" x2="315.8" y2="612.8" stroke="#e4e4e4" stroke-width="1.2"/><line x1="282.6" y1="573.2" x2="494.7" y2="573.2" stroke="#e4e4e4" stroke-width="1.2"/><line x1="353.6" y1="377.2" x2="353.6" y2="612.8" stroke="#e4e4e4" stroke-width="1.2"/><line x1="282.6" y1="535.4" x2="494.7" y2="535.4" stroke="#e4e4e4" stroke-width="1.2"/><line x1="391.4" y1="377.2" x2="391.4" y2="612.8" stroke="#e4e4e4" stroke-width="1.2"/><line x1="282.6" y1="497.6" x2="494.7" y2="497.6" stroke="#e4e4e4" stroke-width="1.2"/><line x1="429.2" y1="377.2" x2="429.2" y2="612.8" stroke="#e4e4e4" stroke-width="1.2"/><line x1="282.6" y1="459.8" x2="494.7" y2="459.8" stroke="#e4e4e4" stroke-width="1.2"/><line x1="467" y1="377.2" x2="467" y2="612.8" stroke="#e4e4e4" stroke-width="1.2"/><line x1="282.6" y1="422" x2="494.7" y2="422" stroke="#e4e4e4" stroke-width="1.2"/><line x1="282.6" y1="384.2" x2="494.7" y2="384.2" stroke="#e4e4e4" stroke-width="1.2"/><g filter="url(#rough)"><g transform="translate(0,323.4)"><path d="M421.9,68.3C422.3,67.2 424.0,66.6 425.5,66.2C427.0,65.7 429.4,65.3 430.9,65.7C432.3,66.0 434.1,67.0 434.4,68.3C434.7,69.7 433.2,72.1 432.6,73.7C432.0,75.4 432.0,77.3 430.9,78.2C429.7,79.1 427.0,79.3 425.5,79.1C423.9,78.9 422.0,78.0 421.5,77.0C421.1,75.9 422.7,74.3 422.8,72.8C422.8,71.4 421.4,69.5 421.9,68.3Z" fill="#d6d6d6" fill-opacity="0.20"/><path d="M436.2,82.7C436.7,81.7 438.6,81.9 439.8,82.3C441.0,82.8 443.3,84.1 443.4,85.4C443.6,86.6 441.8,89.4 440.7,89.9C439.7,90.3 437.9,89.3 437.1,88.1C436.4,86.9 435.8,83.7 436.2,82.7Z" fill="#d6d6d6" fill-opacity="0.20"/><path d="M355.5,131.1C358.1,129.6 367.2,133.2 371.7,132.9C376.2,132.6 379.1,129.6 382.4,129.3C385.7,129.0 389.0,129.3 391.4,131.1C393.8,132.9 396.5,136.8 396.8,140.1C397.1,143.4 395.6,148.5 393.2,150.8C390.8,153.2 386.0,154.3 382.4,154.4C378.8,154.6 375.0,152.8 371.7,151.7C368.4,150.7 365.2,149.8 362.7,148.2C360.2,146.5 357.6,144.7 356.4,141.9C355.2,139.0 353.0,132.6 355.5,131.1Z" fill="#d6d6d6" fill-opacity="0.15"/><path d="M359.1,102.1C361.7,100.4 366.6,100.6 369.9,101.5C373.2,102.5 376.9,105.0 378.8,107.8C380.8,110.6 380.9,115.0 381.5,118.6C382.1,122.1 382.9,126.8 382.4,129.3C382.0,131.9 381.2,133.0 378.8,133.8C376.5,134.6 371.7,134.8 368.1,134.3C364.5,133.9 359.8,133.1 357.3,131.1C354.9,129.1 353.9,125.4 353.4,122.1C352.8,118.9 353.1,114.7 354.1,111.4C355.1,108.0 356.5,103.7 359.1,102.1Z" fill="#d6d6d6" fill-opacity="0.50"/><path d="M397.0,159.5C397.6,155.8 402.8,149.2 406.1,144.9C409.4,140.6 413.4,137.6 417.0,133.9C420.6,130.2 425.2,124.2 428.0,123.0C430.8,121.8 433.8,123.9 433.5,126.6C433.2,129.3 428.9,135.1 426.2,139.4C423.4,143.7 419.8,148.2 417.0,152.2C414.2,156.1 412.1,160.7 409.7,163.1C407.3,165.5 404.5,167.4 402.4,166.8C400.3,166.2 396.4,163.2 397.0,159.5Z" fill="#d6d6d6" fill-opacity="0.30"/><path d="M398.8,141.2C401.2,137.8 410.4,136.4 413.4,137.6C416.4,138.8 417.6,144.8 417.0,148.5C416.4,152.2 412.7,158.0 409.7,159.5C406.7,161.0 400.6,160.8 398.8,157.7C397.0,154.6 396.4,144.5 398.8,141.2Z" fill="#d6d6d6" fill-opacity="0.30"/><path d="M418.3,132.9C418.6,132.0 422.3,129.3 423.7,129.0C425.0,128.7 426.7,130.2 426.4,131.1C426.1,132.1 423.2,134.4 421.9,134.7C420.5,135.0 418.0,133.9 418.3,132.9Z" fill="#d6d6d6" fill-opacity="0.00"/><path d="M425.5,125.7C425.9,124.5 428.6,123.1 430.0,123.0C431.3,123.0 433.4,124.3 433.5,125.4C433.7,126.4 431.9,128.5 430.9,129.3C429.8,130.1 428.2,130.8 427.3,130.2C426.4,129.6 425.0,126.9 425.5,125.7Z" fill="#d6d6d6" fill-opacity="0.40"/><path d="M373.2,190.5C375.3,188.1 382.3,183.5 387.8,179.6C393.3,175.7 401.2,170.2 406.1,166.8C411.0,163.5 415.5,158.9 417.0,159.5C418.5,160.1 417.6,167.4 415.2,170.4C412.8,173.4 407.6,174.6 402.4,177.7C397.2,180.8 388.8,185.9 384.2,188.7C379.6,191.4 376.9,193.9 375.1,194.2C373.3,194.5 371.1,192.9 373.2,190.5Z" fill="#d6d6d6" fill-opacity="0.40"/><path d="M335.4,159.8C335.9,158.7 337.7,156.9 339.4,155.9C341.1,154.8 343.4,153.5 345.7,153.5C347.9,153.6 352.4,155.2 352.8,156.2C353.3,157.3 350.1,158.7 348.4,159.8C346.6,160.9 344.0,162.6 342.1,163.0C340.1,163.5 337.8,163.0 336.7,162.5C335.6,162.0 335.0,160.9 335.4,159.8Z" fill="#d6d6d6" fill-opacity="0.40"/><path d="M345.1,148.2C345.2,146.4 346.8,141.7 347.5,138.3C348.1,134.9 348.7,129.3 349.3,127.5C349.8,125.8 350.5,126.1 350.5,127.9C350.5,129.7 349.9,134.8 349.3,138.3C348.7,141.8 347.6,147.4 346.9,149.1C346.2,150.7 345.0,149.9 345.1,148.2Z" fill="#d6d6d6" fill-opacity="0.40"/><path d="M297.2,156.2C297.5,154.3 298.2,152.0 299.6,150.8C300.9,149.6 303.2,149.1 305.3,149.1C307.5,149.1 310.5,149.3 312.5,150.8C314.5,152.3 316.6,155.6 317.5,158.0C318.4,160.4 318.6,163.7 317.9,165.2C317.2,166.7 316.1,166.7 313.4,167.0C310.7,167.2 304.3,167.4 301.7,166.6C299.2,165.9 298.9,164.2 298.1,162.5C297.4,160.8 297.0,158.2 297.2,156.2Z" fill="#d6d6d6" fill-opacity="0.40"/><path d="M296.6,170.4C298.7,167.4 303.2,167.4 307.5,166.8C311.8,166.2 318.5,166.2 322.1,166.8C325.8,167.4 329.4,168.0 329.4,170.4C329.4,172.8 325.8,178.1 322.1,181.4C318.5,184.8 312.1,189.9 307.5,190.5C302.9,191.1 296.6,188.3 294.8,185.0C293.0,181.7 294.5,173.4 296.6,170.4Z" fill="#d6d6d6" fill-opacity="0.40"/><path d="M458.6,143.7C459.2,142.5 461.8,140.4 463.1,140.1C464.5,139.8 466.4,140.7 466.7,141.9C467.0,143.1 465.7,146.1 464.9,147.3C464.2,148.5 463.1,149.1 462.2,149.1C461.3,149.1 460.1,148.2 459.5,147.3C458.9,146.4 458.1,144.9 458.6,143.7Z" fill="#d6d6d6" fill-opacity="0.30"/><path d="M449.7,159.8C451.2,157.2 455.2,157.2 457.7,156.2C460.2,155.1 462.2,153.2 464.9,153.5C467.6,153.8 471.6,156.1 473.9,158.0C476.1,159.9 477.8,162.9 478.4,165.2C479.0,167.5 478.6,170.1 477.5,172.0C476.4,173.9 474.2,174.8 472.1,176.4C470.0,178.0 467.0,181.0 464.9,181.8C462.8,182.6 461.3,182.3 459.5,181.4C457.7,180.5 456.0,178.0 454.2,176.4C452.4,174.8 449.6,174.8 448.8,172.0C448.1,169.2 448.2,162.4 449.7,159.8Z" fill="#d6d6d6" fill-opacity="0.40"/><path d="M395.0,131.1C397.1,128.6 404.3,127.8 407.5,128.4C410.8,129.0 414.7,131.6 414.7,134.7C414.7,137.8 410.2,144.0 407.5,147.3C404.8,150.5 400.7,155.0 398.6,154.4C396.5,153.8 395.6,147.6 395.0,143.7C394.4,139.8 392.9,133.7 395.0,131.1Z" fill="#d6d6d6" fill-opacity="0.20"/><path d="M303.9,188.2C305.9,186.1 311.5,183.1 314.8,182.8C318.1,182.5 321.2,184.9 323.9,186.4C326.6,187.9 330.3,189.2 331.2,191.9C332.1,194.6 330.9,199.8 329.4,202.8C327.9,205.8 325.1,208.3 322.1,210.1C319.1,211.9 314.2,213.4 311.2,213.7C308.2,214.0 305.7,213.1 303.9,211.9C302.1,210.7 302.0,207.4 300.2,206.5C298.4,205.6 294.3,207.4 292.9,206.5C291.5,205.6 291.1,202.5 292.0,201.0C292.9,199.5 296.6,198.2 298.4,197.3C300.2,196.4 302.1,197.0 303.0,195.5C303.9,194.0 301.9,190.3 303.9,188.2Z" fill="#d6d6d6" fill-opacity="0.70"/><path d="M369.5,193.7C371.0,192.6 373.9,191.9 375.0,192.8C376.1,193.7 376.2,196.9 375.9,199.2C375.6,201.5 373.2,203.8 373.1,206.5C373.0,209.2 373.8,212.6 375.0,215.6C376.2,218.6 378.9,222.9 380.4,224.7C381.9,226.5 383.0,227.1 384.1,226.5C385.2,225.9 385.9,223.1 386.8,221.0C387.7,218.9 388.1,215.5 389.5,213.7C390.9,211.9 393.3,210.2 395.0,210.1C396.7,209.9 399.3,211.0 399.6,212.8C399.9,214.6 398.2,218.4 396.8,221.0C395.4,223.6 393.2,226.2 391.4,228.3C389.6,230.4 388.0,231.8 385.9,233.8C383.8,235.8 381.0,238.7 378.6,240.2C376.2,241.7 374.0,242.8 371.3,242.9C368.6,243.1 364.6,242.3 362.2,241.1C359.8,239.9 357.8,237.7 356.7,235.6C355.6,233.5 355.3,231.3 355.8,228.3C356.3,225.3 358.3,220.7 359.5,217.4C360.7,214.1 362.1,211.3 363.1,208.3C364.2,205.3 364.7,201.6 365.8,199.2C366.9,196.8 368.0,194.8 369.5,193.7Z" fill="#d6d6d6" fill-opacity="0.55"/><path d="M360.4,219.0C361.2,217.9 364.5,216.9 366.0,217.4C367.5,217.9 369.7,220.5 369.5,222.0C369.3,223.5 366.4,226.2 365.0,226.5C363.6,226.8 361.8,225.2 361.0,224.0C360.2,222.8 359.6,220.1 360.4,219.0Z" fill="#d6d6d6" fill-opacity="0.00"/><path d="M397.7,223.0C398.2,221.7 400.5,220.9 401.8,221.2C403.1,221.5 405.5,223.3 405.7,224.8C406.0,226.3 404.3,229.4 403.1,230.2C401.9,230.9 399.5,230.5 398.6,229.3C397.7,228.1 397.1,224.4 397.7,223.0Z" fill="#d6d6d6" fill-opacity="0.30"/><path d="M400.4,248.1C400.4,246.3 405.0,250.4 407.5,249.9C410.1,249.5 412.6,246.0 415.6,245.4C418.6,244.8 422.3,245.6 425.5,246.3C428.6,247.1 432.6,248.1 434.4,249.9C436.2,251.7 436.8,254.7 436.2,257.1C435.6,259.5 432.9,262.5 430.9,264.3C428.8,266.1 426.4,267.5 423.7,267.8C421.0,268.1 417.4,267.2 414.7,266.1C412.0,264.9 409.9,263.7 407.5,260.7C405.1,257.7 400.4,249.9 400.4,248.1Z" fill="#d6d6d6" fill-opacity="0.55"/><path d="M453.3,181.8C454.0,181.2 457.0,183.3 458.6,185.3C460.3,187.4 461.8,191.9 463.1,194.3C464.5,196.7 465.5,199.7 466.7,199.7C467.9,199.7 468.8,193.7 470.3,194.3C471.8,194.9 473.6,200.6 475.7,203.3C477.8,206.0 481.5,207.8 482.9,210.5C484.2,213.1 484.7,217.0 483.8,219.4C482.9,221.8 480.0,223.9 477.5,224.8C474.9,225.7 471.2,225.4 468.5,224.8C465.8,224.2 463.0,223.0 461.3,221.2C459.7,219.4 458.6,216.4 458.6,214.0C458.6,211.7 461.5,209.6 461.3,206.9C461.2,204.2 458.9,200.9 457.8,197.9C456.6,194.9 454.9,191.6 454.2,188.9C453.4,186.2 452.5,182.4 453.3,181.8Z" fill="#d6d6d6" fill-opacity="0.35"/><path d="M452.4,182.7C452.7,181.6 455.4,180.7 456.9,182.7C458.4,184.6 460.9,191.8 461.3,194.3C461.8,196.9 460.6,198.8 459.5,197.9C458.5,197.0 456.3,191.5 455.1,188.9C453.9,186.4 452.1,183.7 452.4,182.7Z" fill="#d6d6d6" fill-opacity="0.30"/></g></g><rect x="282.6" y="377.2" width="212.1" height="235.6" fill="none" stroke="#333" stroke-width="1.1"/><line x1="315.8" y1="612.8" x2="315.8" y2="616.1" stroke="#333" stroke-width="1.1"/><text x="315.8" y="628" font-size="11.4" fill="#404040" text-anchor="middle">−10</text><line x1="353.6" y1="612.8" x2="353.6" y2="616.1" stroke="#333" stroke-width="1.1"/><text x="353.6" y="628" font-size="11.4" fill="#404040" text-anchor="middle">−5</text><line x1="391.4" y1="612.8" x2="391.4" y2="616.1" stroke="#333" stroke-width="1.1"/><text x="391.4" y="628" font-size="11.4" fill="#404040" text-anchor="middle">0</text><line x1="429.2" y1="612.8" x2="429.2" y2="616.1" stroke="#333" stroke-width="1.1"/><text x="429.2" y="628" font-size="11.4" fill="#404040" text-anchor="middle">5</text><line x1="467" y1="612.8" x2="467" y2="616.1" stroke="#333" stroke-width="1.1"/><text x="467" y="628" font-size="11.4" fill="#404040" text-anchor="middle">10</text>
<rect x="502.7" y="354.8" width="212.1" height="22.4" fill="#d9d9d9" stroke="#3a3a3a" stroke-width="1.1"/><text x="608.8" y="370.5" font-size="11.8" fill="#1a1a1a" text-anchor="middle">3rd trim. Decidua + Placenta</text><rect x="502.7" y="377.2" width="212.1" height="235.6" fill="#fff"/><line x1="517" y1="377.2" x2="517" y2="612.8" stroke="#ededed" stroke-width="0.8"/><line x1="502.7" y1="592.1" x2="714.8" y2="592.1" stroke="#ededed" stroke-width="0.8"/><line x1="554.8" y1="377.2" x2="554.8" y2="612.8" stroke="#ededed" stroke-width="0.8"/><line x1="502.7" y1="554.3" x2="714.8" y2="554.3" stroke="#ededed" stroke-width="0.8"/><line x1="592.6" y1="377.2" x2="592.6" y2="612.8" stroke="#ededed" stroke-width="0.8"/><line x1="502.7" y1="516.5" x2="714.8" y2="516.5" stroke="#ededed" stroke-width="0.8"/><line x1="630.4" y1="377.2" x2="630.4" y2="612.8" stroke="#ededed" stroke-width="0.8"/><line x1="502.7" y1="478.7" x2="714.8" y2="478.7" stroke="#ededed" stroke-width="0.8"/><line x1="668.2" y1="377.2" x2="668.2" y2="612.8" stroke="#ededed" stroke-width="0.8"/><line x1="502.7" y1="440.9" x2="714.8" y2="440.9" stroke="#ededed" stroke-width="0.8"/><line x1="706" y1="377.2" x2="706" y2="612.8" stroke="#ededed" stroke-width="0.8"/><line x1="502.7" y1="403.1" x2="714.8" y2="403.1" stroke="#ededed" stroke-width="0.8"/><line x1="502.7" y1="611" x2="714.8" y2="611" stroke="#e4e4e4" stroke-width="1.2"/><line x1="535.9" y1="377.2" x2="535.9" y2="612.8" stroke="#e4e4e4" stroke-width="1.2"/><line x1="502.7" y1="573.2" x2="714.8" y2="573.2" stroke="#e4e4e4" stroke-width="1.2"/><line x1="573.7" y1="377.2" x2="573.7" y2="612.8" stroke="#e4e4e4" stroke-width="1.2"/><line x1="502.7" y1="535.4" x2="714.8" y2="535.4" stroke="#e4e4e4" stroke-width="1.2"/><line x1="611.5" y1="377.2" x2="611.5" y2="612.8" stroke="#e4e4e4" stroke-width="1.2"/><line x1="502.7" y1="497.6" x2="714.8" y2="497.6" stroke="#e4e4e4" stroke-width="1.2"/><line x1="649.3" y1="377.2" x2="649.3" y2="612.8" stroke="#e4e4e4" stroke-width="1.2"/><line x1="502.7" y1="459.8" x2="714.8" y2="459.8" stroke="#e4e4e4" stroke-width="1.2"/><line x1="687.1" y1="377.2" x2="687.1" y2="612.8" stroke="#e4e4e4" stroke-width="1.2"/><line x1="502.7" y1="422" x2="714.8" y2="422" stroke="#e4e4e4" stroke-width="1.2"/><line x1="502.7" y1="384.2" x2="714.8" y2="384.2" stroke="#e4e4e4" stroke-width="1.2"/><g filter="url(#rough)"><g transform="translate(0,323.4)"><path d="M639.2,68.3C640.5,67.2 642.9,65.4 645.5,64.8C648.0,64.1 652.3,63.8 654.4,64.4C656.6,65.0 657.8,66.5 658.4,68.3C658.9,70.2 658.6,73.7 657.7,75.5C656.8,77.4 655.0,78.8 653.0,79.5C651.0,80.1 647.6,79.8 645.5,79.5C643.3,79.1 641.3,78.6 640.1,77.3C638.8,76.1 638.1,73.4 637.9,71.9C637.8,70.4 637.9,69.5 639.2,68.3Z" fill="#d6d6d6" fill-opacity="0.60"/><path d="M655.3,83.6C656.1,81.9 658.3,80.5 659.8,80.0C661.3,79.6 663.3,79.9 664.3,80.9C665.3,81.9 665.8,84.5 665.7,86.3C665.6,88.1 664.9,90.4 663.8,91.7C662.6,92.9 660.3,94.1 658.9,93.8C657.5,93.5 656.1,91.6 655.5,89.9C654.9,88.2 654.6,85.2 655.3,83.6Z" fill="#d6d6d6" fill-opacity="0.60"/><path d="M582.3,100.5C584.5,100.3 587.8,101.0 590.8,102.3C593.8,103.6 597.5,106.0 600.5,108.4C603.5,110.8 606.6,114.1 609.0,116.9C611.4,119.7 612.9,122.8 615.1,125.4C617.3,128.0 620.2,130.9 622.4,132.7C624.6,134.5 626.7,134.5 628.5,136.3C630.3,138.1 632.1,142.0 633.3,143.6C634.5,145.2 636.0,145.1 635.8,146.1C635.6,147.1 633.5,148.7 632.1,149.7C630.7,150.7 628.9,151.7 627.3,152.1C625.7,152.5 624.4,151.9 622.4,152.1C620.4,152.3 617.5,152.8 615.1,153.4C612.7,154.0 610.6,155.2 607.8,155.8C605.0,156.4 600.9,157.0 598.1,157.0C595.3,157.0 593.2,156.6 590.8,155.8C588.4,155.0 585.7,153.5 583.5,152.1C581.3,150.7 579.4,148.7 577.4,147.3C575.4,145.9 572.9,144.8 571.3,143.6C569.7,142.4 568.5,141.6 567.7,140.0C566.9,138.4 566.3,135.9 566.5,133.9C566.7,131.9 568.1,130.2 568.9,127.8C569.7,125.4 570.5,122.1 571.3,119.3C572.1,116.5 572.8,113.4 573.8,110.8C574.8,108.2 576.0,105.2 577.4,103.5C578.8,101.8 580.1,100.7 582.3,100.5Z" fill="#d6d6d6" fill-opacity="1.00"/><path d="M582.3,100.5C584.5,100.3 587.8,101.0 590.8,102.3C593.8,103.6 597.5,106.0 600.5,108.4C603.5,110.8 606.6,114.1 609.0,116.9C611.4,119.7 613.5,123.2 615.1,125.4C616.7,127.6 619.3,129.7 618.8,130.3C618.3,130.9 614.6,129.5 612.0,129.0C609.4,128.5 606.5,127.4 603.0,127.2C599.5,127.0 594.9,127.3 590.8,127.8C586.7,128.3 582.0,129.7 578.6,130.3C575.2,130.9 571.7,131.9 570.1,131.5C568.5,131.1 568.7,129.8 568.9,127.8C569.1,125.8 570.5,122.1 571.3,119.3C572.1,116.5 572.8,113.4 573.8,110.8C574.8,108.2 576.0,105.2 577.4,103.5C578.8,101.8 580.1,100.7 582.3,100.5Z" fill="#d6d6d6" fill-opacity="0.00"/><path d="M600.0,128.0C602.3,127.2 608.7,128.0 612.0,129.0C615.3,130.0 617.3,131.8 620.0,134.0C622.7,136.2 626.3,139.3 628.0,142.0C629.7,144.7 631.3,148.7 630.0,150.0C628.7,151.3 623.7,151.7 620.0,150.0C616.3,148.3 611.7,142.7 608.0,140.0C604.3,137.3 599.3,136.0 598.0,134.0C596.7,132.0 597.7,128.8 600.0,128.0Z" fill="#d6d6d6" fill-opacity="0.00"/><path d="M567.0,128.0C567.7,125.7 570.3,124.8 571.0,127.0C571.7,129.2 571.7,138.7 571.0,141.0C570.3,143.3 567.7,143.2 567.0,141.0C566.3,138.8 566.3,130.3 567.0,128.0Z" fill="#d6d6d6" fill-opacity="0.00"/><path d="M615.1,152.1C616.5,149.7 620.0,150.9 622.4,150.9C624.8,150.9 627.7,150.9 629.7,152.1C631.7,153.3 633.8,156.4 634.6,158.2C635.4,160.0 635.4,161.5 634.6,163.1C633.8,164.7 631.3,166.4 629.7,168.0C628.1,169.6 627.2,171.6 624.8,172.8C622.4,174.0 617.5,174.8 615.1,175.0C612.7,175.2 610.4,175.6 610.2,174.0C610.0,172.4 613.1,169.2 613.9,165.5C614.7,161.8 613.7,154.5 615.1,152.1Z" fill="#d6d6d6" fill-opacity="0.80"/><path d="M626.0,143.6C626.6,141.6 629.5,140.8 630.9,141.2C632.3,141.6 634.2,144.3 634.6,146.1C635.0,147.9 634.5,150.9 633.3,152.1C632.1,153.3 628.5,154.8 627.3,153.4C626.1,152.0 625.4,145.6 626.0,143.6Z" fill="#d6d6d6" fill-opacity="0.00"/><path d="M537.3,170.4C540.6,169.0 541.8,168.3 544.6,166.7C547.4,165.1 551.5,162.7 554.3,160.7C557.1,158.7 559.6,156.2 561.6,154.6C563.6,153.0 564.7,151.3 566.5,150.9C568.3,150.5 570.2,152.3 572.6,152.1C575.0,151.9 579.5,149.9 581.1,149.7C582.7,149.5 583.1,149.9 582.3,150.9C581.5,151.9 578.2,154.6 576.2,155.8C574.2,157.0 572.1,157.2 570.1,158.2C568.1,159.2 566.2,160.5 564.0,161.9C561.8,163.3 559.3,165.1 556.7,166.7C554.1,168.3 551.0,170.4 548.2,171.6C545.4,172.8 542.7,173.3 539.7,174.0C536.7,174.7 532.5,175.8 530.0,176.0C527.5,176.2 523.8,175.9 525.0,175.0C526.2,174.1 534.0,171.8 537.3,170.4Z" fill="#d6d6d6" fill-opacity="0.70"/><path d="M518.2,153.4C519.4,152.2 522.3,150.2 524.3,149.7C526.3,149.2 528.6,149.5 530.4,150.3C532.2,151.1 534.1,152.9 535.3,154.6C536.5,156.3 537.5,158.3 537.7,160.7C537.9,163.1 537.7,167.5 536.5,169.0C535.3,170.5 532.4,169.6 530.4,169.5C528.4,169.4 526.1,169.4 524.3,168.5C522.5,167.6 520.7,165.9 519.5,164.0C518.3,162.1 517.2,158.8 517.0,157.0C516.8,155.2 517.0,154.6 518.2,153.4Z" fill="#d6d6d6" fill-opacity="0.90"/><path d="M644.0,131.1C644.5,130.1 647.0,128.7 648.2,127.5C649.3,126.4 650.0,124.6 650.9,124.3C651.7,124.0 653.4,124.3 653.5,125.7C653.7,127.2 652.5,131.4 651.7,132.9C651.0,134.5 650.1,134.9 649.1,135.1C648.0,135.2 646.3,134.5 645.5,133.8C644.6,133.1 643.6,132.2 644.0,131.1Z" fill="#d6d6d6" fill-opacity="0.40"/><path d="M672.4,127.5C672.5,126.1 673.4,124.7 674.2,124.3C674.9,123.9 676.6,124.0 676.9,124.8C677.2,125.7 676.6,128.0 676.0,129.3C675.4,130.7 673.9,133.2 673.3,132.9C672.7,132.6 672.2,129.0 672.4,127.5Z" fill="#d6d6d6" fill-opacity="0.40"/><path d="M676.7,150.1C677.8,148.1 680.0,143.5 681.7,141.7C683.4,139.9 685.5,138.6 686.8,139.2C688.1,139.8 689.2,142.9 689.3,145.0C689.4,147.1 688.6,149.5 687.6,151.7C686.6,153.9 684.6,156.2 683.4,158.4C682.1,160.6 680.9,162.9 680.1,165.1C679.3,167.3 679.2,171.0 678.4,171.8C677.6,172.6 675.9,172.1 675.1,170.1C674.3,168.1 673.4,162.9 673.4,160.1C673.4,157.3 674.5,155.1 675.1,153.4C675.7,151.7 675.6,152.1 676.7,150.1Z" fill="#d6d6d6" fill-opacity="0.60"/><path d="M680.1,163.4C681.2,160.9 683.2,157.9 685.1,156.8C687.0,155.7 689.6,156.0 691.8,156.8C694.0,157.6 697.1,159.6 698.5,161.8C699.9,164.0 700.4,167.3 700.1,170.1C699.8,172.9 699.0,176.8 696.8,178.5C694.6,180.2 689.6,180.2 686.8,180.2C684.0,180.2 681.5,179.9 680.1,178.5C678.7,177.1 678.4,174.3 678.4,171.8C678.4,169.3 679.0,165.9 680.1,163.4Z" fill="#d6d6d6" fill-opacity="0.70"/><path d="M675.1,163.4C676.2,161.7 680.6,161.7 681.7,163.4C682.8,165.1 682.8,171.8 681.7,173.5C680.6,175.2 676.2,175.2 675.1,173.5C674.0,171.8 674.0,165.1 675.1,163.4Z" fill="#d6d6d6" fill-opacity="0.00"/><path d="M513.4,175.3C514.3,172.5 516.2,170.7 518.2,169.2C520.2,167.7 523.1,166.6 525.5,166.1C527.9,165.6 531.0,165.6 532.8,166.1C534.6,166.6 536.1,167.5 536.5,169.2C536.9,170.9 535.7,174.1 535.3,176.5C534.9,178.9 533.8,181.8 534.0,183.8C534.2,185.8 536.9,187.2 536.5,188.6C536.1,190.0 533.2,190.7 531.6,192.3C530.0,193.9 528.3,196.8 526.7,198.4C525.1,200.0 523.5,201.6 521.9,202.0C520.3,202.4 518.4,202.0 517.0,200.8C515.6,199.6 514.1,197.1 513.4,194.7C512.7,192.3 512.8,189.4 512.8,186.2C512.8,183.0 512.5,178.1 513.4,175.3Z" fill="#d6d6d6" fill-opacity="0.95"/><path d="M524.3,203.2C525.1,201.0 527.2,197.1 529.2,194.7C531.2,192.3 534.1,189.8 536.5,188.6C538.9,187.4 541.6,187.0 543.8,187.4C546.0,187.8 549.0,189.3 549.8,191.1C550.6,192.9 549.2,196.0 548.6,198.4C548.0,200.8 547.4,203.5 546.2,205.7C545.0,207.9 543.3,210.4 541.3,211.7C539.3,213.0 536.4,213.4 534.0,213.6C531.6,213.8 528.3,213.8 526.7,212.9C525.1,212.0 524.7,209.7 524.3,208.1C523.9,206.5 523.5,205.4 524.3,203.2Z" fill="#d6d6d6" fill-opacity="0.95"/><path d="M513.4,202.0C514.0,200.9 517.0,200.2 518.2,200.8C519.4,201.4 521.3,204.6 520.7,205.7C520.1,206.8 515.8,208.1 514.6,207.5C513.4,206.9 512.8,203.1 513.4,202.0Z" fill="#d6d6d6" fill-opacity="0.95"/><path d="M600.3,188.9C601.5,187.0 606.3,182.7 609.6,180.0C613.0,177.3 617.7,174.3 620.4,172.8C623.1,171.3 624.3,171.3 625.7,171.0C627.2,170.7 630.5,169.4 629.3,171.0C628.1,172.6 622.5,177.6 618.6,180.9C614.7,184.2 608.7,188.9 606.0,190.7C603.3,192.5 603.4,191.9 602.4,191.6C601.5,191.3 599.1,190.9 600.3,188.9Z" fill="#d6d6d6" fill-opacity="0.70"/><path d="M596.6,186.4C597.7,186.6 598.2,188.0 598.7,189.6C599.2,191.2 599.3,193.7 599.3,196.0C599.3,198.3 598.6,201.1 598.7,203.4C598.8,205.7 599.3,208.4 599.8,209.8C600.3,211.2 601.2,211.0 601.9,211.9C602.6,212.8 604.0,213.7 604.0,215.1C604.0,216.5 602.6,218.8 601.9,220.4C601.2,222.0 599.8,223.3 599.8,224.7C599.8,226.1 600.8,227.8 601.9,228.9C603.0,230.0 605.1,230.4 606.2,231.1C607.3,231.8 608.5,232.1 608.3,233.2C608.1,234.2 606.5,236.0 605.1,237.4C603.7,238.8 602.1,240.6 599.8,241.7C597.5,242.8 594.0,243.6 591.3,243.8C588.6,244.0 586.1,243.7 583.8,242.8C581.5,241.9 578.7,240.4 577.4,238.5C576.1,236.6 575.9,233.8 575.9,231.1C575.9,228.4 576.8,225.4 577.4,222.6C578.0,219.8 578.9,216.7 579.6,214.0C580.3,211.3 580.8,209.1 581.7,206.6C582.6,204.1 583.8,201.4 584.9,199.1C586.0,196.8 586.9,194.6 588.1,192.8C589.3,191.0 590.9,189.6 592.3,188.5C593.7,187.4 595.5,186.2 596.6,186.4Z" fill="#d6d6d6" fill-opacity="1.00"/><path d="M607.2,215.1C608.1,213.8 610.1,212.6 611.5,211.9C612.9,211.2 614.5,210.9 615.7,210.9C616.9,210.9 618.2,211.0 618.9,211.9C619.6,212.8 619.6,214.4 620.0,216.2C620.4,218.0 621.1,220.6 621.1,222.6C621.1,224.6 620.7,226.7 620.0,227.9C619.3,229.1 618.0,229.5 616.8,230.0C615.6,230.5 613.8,231.3 612.6,231.1C611.4,230.9 610.3,230.0 609.4,228.9C608.5,227.8 607.7,226.3 607.2,224.7C606.7,223.1 606.2,221.0 606.2,219.4C606.2,217.8 606.3,216.3 607.2,215.1Z" fill="#d6d6d6" fill-opacity="0.55"/><path d="M606.0,231.0C607.4,230.5 610.8,232.6 612.6,233.2C614.4,233.8 615.6,233.8 616.8,234.3C618.0,234.8 619.6,235.5 620.0,236.4C620.4,237.3 619.8,239.3 618.9,239.6C618.0,239.9 616.3,238.4 614.7,238.0C613.1,237.6 611.2,237.7 609.4,237.4C607.6,237.1 604.6,237.1 604.0,236.0C603.4,234.9 604.6,231.5 606.0,231.0Z" fill="#d6d6d6" fill-opacity="0.55"/><path d="M621.1,224.7C621.5,223.6 623.4,222.7 624.3,223.6C625.2,224.5 626.4,228.4 626.4,230.0C626.4,231.6 625.0,233.2 624.3,233.2C623.6,233.2 622.6,231.4 622.1,230.0C621.6,228.6 620.7,225.8 621.1,224.7Z" fill="#d6d6d6" fill-opacity="0.40"/><path d="M620.4,249.9C622.0,248.1 624.5,247.0 627.5,246.3C630.5,245.7 634.4,245.8 638.3,246.0C642.2,246.1 647.9,246.3 650.9,247.2C653.8,248.2 655.2,250.1 656.2,251.7C657.3,253.3 657.9,255.0 657.3,257.1C656.7,259.2 654.9,262.4 652.6,264.3C650.4,266.1 646.7,267.7 643.7,268.2C640.7,268.7 637.4,268.0 634.7,267.1C632.0,266.2 629.6,264.1 627.5,262.8C625.4,261.5 623.8,260.2 622.2,259.2C620.5,258.3 618.0,258.6 617.7,257.1C617.4,255.5 618.7,251.7 620.4,249.9Z" fill="#d6d6d6" fill-opacity="1.00"/><path d="M675.9,181.8C676.5,179.6 678.6,178.8 680.1,180.2C681.6,181.6 683.2,186.9 685.1,190.2C687.0,193.5 689.3,197.7 691.8,200.2C694.3,202.7 698.0,203.6 700.1,205.3C702.2,207.0 703.4,208.1 704.3,210.3C705.1,212.5 705.5,215.8 705.2,218.6C704.9,221.4 704.0,224.8 702.6,227.0C701.2,229.2 698.9,230.9 696.8,232.0C694.7,233.1 692.3,234.0 690.1,233.7C687.9,233.4 685.4,232.0 683.4,230.3C681.4,228.6 679.6,226.4 678.4,223.6C677.1,220.8 675.9,216.6 675.9,213.6C675.9,210.6 678.3,208.7 678.4,205.3C678.5,202.0 677.1,197.4 676.7,193.5C676.3,189.6 675.3,184.0 675.9,181.8Z" fill="#d6d6d6" fill-opacity="0.45"/><path d="M673.4,230.3C674.5,228.6 680.0,222.8 681.7,222.0C683.4,221.2 684.5,223.6 683.4,225.3C682.3,227.0 676.8,231.2 675.1,232.0C673.4,232.8 672.3,232.0 673.4,230.3Z" fill="#d6d6d6" fill-opacity="0.00"/><path d="M682.6,193.5C683.2,191.8 683.9,189.3 685.1,190.2C686.4,191.0 688.7,196.4 690.1,198.6C691.5,200.8 694.0,202.5 693.4,203.6C692.8,204.7 688.8,205.9 686.8,205.3C684.8,204.7 682.4,202.2 681.7,200.2C681.0,198.2 682.0,195.2 682.6,193.5Z" fill="#fff" fill-opacity="1.00"/><path d="M639.7,211.4C640.0,210.4 641.2,208.6 641.9,208.3C642.6,208.0 643.9,208.8 644.0,209.6C644.2,210.4 643.4,212.4 642.8,213.1C642.1,213.9 640.6,214.3 640.1,214.0C639.6,213.7 639.4,212.3 639.7,211.4Z" fill="#d6d6d6" fill-opacity="0.50"/></g></g><circle cx="627.1" cy="577.2" r="1.5" fill="#3a1414"/><circle cx="642" cy="583.5" r="1.5" fill="#3a1414"/><circle cx="636.7" cy="587.6" r="1.5" fill="#3a1414"/><rect x="502.7" y="377.2" width="212.1" height="235.6" fill="none" stroke="#333" stroke-width="1.1"/><line x1="535.9" y1="612.8" x2="535.9" y2="616.1" stroke="#333" stroke-width="1.1"/><text x="535.9" y="628" font-size="11.4" fill="#404040" text-anchor="middle">−10</text><line x1="573.7" y1="612.8" x2="573.7" y2="616.1" stroke="#333" stroke-width="1.1"/><text x="573.7" y="628" font-size="11.4" fill="#404040" text-anchor="middle">−5</text><line x1="611.5" y1="612.8" x2="611.5" y2="616.1" stroke="#333" stroke-width="1.1"/><text x="611.5" y="628" font-size="11.4" fill="#404040" text-anchor="middle">0</text><line x1="649.3" y1="612.8" x2="649.3" y2="616.1" stroke="#333" stroke-width="1.1"/><text x="649.3" y="628" font-size="11.4" fill="#404040" text-anchor="middle">5</text><line x1="687.1" y1="612.8" x2="687.1" y2="616.1" stroke="#333" stroke-width="1.1"/><text x="687.1" y="628" font-size="11.4" fill="#404040" text-anchor="middle">10</text>
<rect x="722.8" y="354.8" width="212.1" height="22.4" fill="#d9d9d9" stroke="#3a3a3a" stroke-width="1.1"/><text x="828.8" y="370.5" font-size="11.8" fill="#1a1a1a" text-anchor="middle">3rd trim. Dec. + Placenta Nuclei</text><rect x="722.8" y="377.2" width="212.1" height="235.6" fill="#fff"/><line x1="737.1" y1="377.2" x2="737.1" y2="612.8" stroke="#ededed" stroke-width="0.8"/><line x1="722.8" y1="592.1" x2="934.9" y2="592.1" stroke="#ededed" stroke-width="0.8"/><line x1="774.9" y1="377.2" x2="774.9" y2="612.8" stroke="#ededed" stroke-width="0.8"/><line x1="722.8" y1="554.3" x2="934.9" y2="554.3" stroke="#ededed" stroke-width="0.8"/><line x1="812.7" y1="377.2" x2="812.7" y2="612.8" stroke="#ededed" stroke-width="0.8"/><line x1="722.8" y1="516.5" x2="934.9" y2="516.5" stroke="#ededed" stroke-width="0.8"/><line x1="850.5" y1="377.2" x2="850.5" y2="612.8" stroke="#ededed" stroke-width="0.8"/><line x1="722.8" y1="478.7" x2="934.9" y2="478.7" stroke="#ededed" stroke-width="0.8"/><line x1="888.3" y1="377.2" x2="888.3" y2="612.8" stroke="#ededed" stroke-width="0.8"/><line x1="722.8" y1="440.9" x2="934.9" y2="440.9" stroke="#ededed" stroke-width="0.8"/><line x1="926.1" y1="377.2" x2="926.1" y2="612.8" stroke="#ededed" stroke-width="0.8"/><line x1="722.8" y1="403.1" x2="934.9" y2="403.1" stroke="#ededed" stroke-width="0.8"/><line x1="722.8" y1="611" x2="934.9" y2="611" stroke="#e4e4e4" stroke-width="1.2"/><line x1="756" y1="377.2" x2="756" y2="612.8" stroke="#e4e4e4" stroke-width="1.2"/><line x1="722.8" y1="573.2" x2="934.9" y2="573.2" stroke="#e4e4e4" stroke-width="1.2"/><line x1="793.8" y1="377.2" x2="793.8" y2="612.8" stroke="#e4e4e4" stroke-width="1.2"/><line x1="722.8" y1="535.4" x2="934.9" y2="535.4" stroke="#e4e4e4" stroke-width="1.2"/><line x1="831.6" y1="377.2" x2="831.6" y2="612.8" stroke="#e4e4e4" stroke-width="1.2"/><line x1="722.8" y1="497.6" x2="934.9" y2="497.6" stroke="#e4e4e4" stroke-width="1.2"/><line x1="869.4" y1="377.2" x2="869.4" y2="612.8" stroke="#e4e4e4" stroke-width="1.2"/><line x1="722.8" y1="459.8" x2="934.9" y2="459.8" stroke="#e4e4e4" stroke-width="1.2"/><line x1="907.2" y1="377.2" x2="907.2" y2="612.8" stroke="#e4e4e4" stroke-width="1.2"/><line x1="722.8" y1="422" x2="934.9" y2="422" stroke="#e4e4e4" stroke-width="1.2"/><line x1="722.8" y1="384.2" x2="934.9" y2="384.2" stroke="#e4e4e4" stroke-width="1.2"/><g filter="url(#rough)"><g transform="translate(0,323.4)"><path d="M862.8,69.2C863.7,68.0 865.3,65.7 867.3,65.1C869.2,64.5 872.3,64.7 874.4,65.7C876.5,66.6 878.8,69.1 879.8,71.0C880.9,73.0 880.2,75.2 880.7,77.3C881.3,79.4 882.4,81.5 883.0,83.6C883.6,85.7 884.5,88.5 884.3,89.9C884.1,91.3 882.7,92.6 881.6,92.0C880.6,91.4 879.2,88.1 878.0,86.3C876.8,84.4 876.1,82.1 874.4,80.9C872.8,79.7 870.0,79.7 868.2,79.1C866.4,78.5 864.7,78.4 863.7,77.3C862.6,76.3 862.0,74.2 861.9,72.8C861.7,71.5 861.9,70.5 862.8,69.2Z" fill="#d6d6d6" fill-opacity="0.90"/><path d="M875.3,80.9C875.6,79.7 878.5,78.7 879.8,79.1C881.1,79.6 882.3,81.8 883.0,83.6C883.8,85.4 884.5,88.5 884.3,89.9C884.1,91.3 882.7,92.6 881.6,92.0C880.6,91.4 879.1,88.1 878.0,86.3C877.0,84.4 875.0,82.1 875.3,80.9Z" fill="#d6d6d6" fill-opacity="0.00"/><path d="M803.4,104.9C804.8,104.1 806.4,105.7 808.2,107.3C810.0,108.9 812.3,111.8 814.3,114.6C816.3,117.4 818.4,121.5 820.4,124.3C822.4,127.1 826.5,129.6 826.5,131.6C826.5,133.6 823.0,135.3 820.4,136.5C817.8,137.7 813.3,139.3 810.7,138.9C808.1,138.5 806.4,136.8 804.6,134.0C802.8,131.2 800.5,125.5 799.7,121.9C798.9,118.3 799.1,115.0 799.7,112.2C800.3,109.4 802.0,105.7 803.4,104.9Z" fill="#d6d6d6" fill-opacity="0.25"/><path d="M808.2,140.1C810.2,138.1 816.8,134.6 820.4,134.0C824.0,133.4 826.6,135.5 830.1,136.5C833.6,137.5 837.7,138.5 841.1,140.1C844.5,141.7 848.8,144.2 850.8,146.2C852.8,148.2 853.0,149.5 853.2,152.3C853.4,155.1 853.0,159.8 852.0,163.2C851.0,166.6 849.1,171.0 847.1,173.0C845.1,175.0 841.8,176.0 839.8,175.4C837.8,174.8 837.0,171.3 835.0,169.3C833.0,167.3 829.9,165.0 827.7,163.2C825.5,161.4 823.8,160.4 821.6,158.4C819.4,156.4 816.5,153.1 814.3,151.1C812.1,149.1 809.2,148.0 808.2,146.2C807.2,144.4 806.2,142.1 808.2,140.1Z" fill="#d6d6d6" fill-opacity="0.45"/><path d="M800.9,109.7C802.7,107.1 811.2,109.0 814.3,112.2C817.3,115.5 819.4,125.1 819.2,129.2C819.0,133.2 815.7,136.7 813.1,136.5C810.5,136.3 805.4,132.5 803.4,128.0C801.4,123.5 799.1,112.3 800.9,109.7Z" fill="#d6d6d6" fill-opacity="0.00"/><path d="M821.6,163.2C822.2,162.0 825.5,161.4 826.5,162.0C827.5,162.6 828.3,165.7 827.7,166.9C827.1,168.1 823.8,169.9 822.8,169.3C821.8,168.7 821.0,164.4 821.6,163.2Z" fill="#d6d6d6" fill-opacity="0.00"/><path d="M897.8,145.5C898.8,143.4 901.2,142.2 903.1,141.9C905.1,141.6 908.2,142.2 909.4,143.7C910.6,145.2 909.3,148.5 910.3,150.8C911.4,153.2 915.1,155.5 915.7,158.0C916.3,160.6 915.4,164.7 913.9,166.1C912.4,167.4 909.1,166.8 906.7,166.1C904.3,165.3 901.2,163.5 899.5,161.6C897.9,159.7 897.2,157.1 896.9,154.4C896.6,151.7 896.7,147.6 897.8,145.5Z" fill="#d6d6d6" fill-opacity="0.35"/><path d="M906.7,167.0C907.8,165.8 910.3,164.5 912.1,164.8C913.9,165.1 916.6,167.6 917.5,168.8C918.4,170.0 919.4,171.5 917.5,172.0C915.5,172.5 907.6,172.8 905.8,172.0C904.0,171.2 905.7,168.2 906.7,167.0Z" fill="#d6d6d6" fill-opacity="0.40"/><path d="M741.7,154.4C741.9,153.2 743.7,151.3 745.3,150.8C747.0,150.4 749.9,150.8 751.6,151.7C753.2,152.6 755.3,155.0 755.2,156.2C755.0,157.4 752.5,158.6 750.7,158.9C748.9,159.2 745.9,158.8 744.4,158.0C742.9,157.3 741.6,155.6 741.7,154.4Z" fill="#d6d6d6" fill-opacity="0.30"/><path d="M779.4,157.1C779.8,156.3 781.8,155.0 783.0,155.3C784.2,155.6 786.4,157.9 786.6,158.9C786.7,159.9 784.9,161.0 783.9,161.2C782.8,161.5 781.0,160.9 780.3,160.2C779.5,159.5 778.9,157.9 779.4,157.1Z" fill="#d6d6d6" fill-opacity="0.40"/><path d="M738.1,168.8C739.2,167.0 741.7,163.1 743.5,161.6C745.3,160.1 747.4,159.5 748.9,159.8C750.4,160.1 752.2,161.9 752.5,163.4C752.8,164.9 748.9,167.9 750.7,168.8C752.5,169.7 760.9,168.2 763.2,168.8C765.6,169.3 769.4,171.5 765.0,172.0C760.7,172.5 741.7,172.5 737.2,172.0C732.8,171.5 737.1,170.5 738.1,168.8Z" fill="#d6d6d6" fill-opacity="0.30"/><path d="M736.3,172.8C736.8,171.6 737.4,171.3 739.0,171.0C740.7,170.7 744.9,169.2 746.2,171.0C747.6,172.8 747.1,178.8 747.1,181.8C747.1,184.7 745.3,186.8 746.2,188.9C747.1,191.0 750.2,192.2 752.5,194.3C754.7,196.4 758.4,198.6 759.7,201.5C760.9,204.3 761.2,209.6 760.0,211.4C758.8,213.1 754.9,212.6 752.5,211.9C750.0,211.1 747.0,209.2 745.3,206.9C743.7,204.5 743.5,201.5 742.6,197.9C741.7,194.3 741.0,188.6 739.9,185.3C738.9,182.1 736.9,180.3 736.3,178.2C735.7,176.1 735.9,174.0 736.3,172.8Z" fill="#d6d6d6" fill-opacity="0.35"/><path d="M752.5,172.8C753.2,172.0 755.9,171.3 757.9,171.0C759.8,170.7 764.1,170.4 764.1,171.0C764.1,171.6 759.7,173.8 757.9,174.6C756.1,175.3 754.3,175.8 753.4,175.5C752.5,175.2 751.7,173.5 752.5,172.8Z" fill="#d6d6d6" fill-opacity="0.35"/><path d="M816.0,188.2C816.9,188.4 818.7,189.3 818.7,190.9C818.7,192.5 816.9,195.5 816.0,197.8C815.1,200.1 814.7,202.6 813.3,204.6C811.9,206.6 809.6,208.5 807.8,210.1C806.0,211.7 803.9,212.6 802.3,214.2C800.7,215.8 799.3,219.2 798.2,219.7C797.1,220.1 796.2,218.1 795.5,216.9C794.8,215.8 793.6,214.4 794.1,212.8C794.6,211.2 796.6,209.5 798.2,207.4C799.8,205.3 801.9,202.6 803.7,200.5C805.5,198.4 807.6,196.8 809.2,195.0C810.8,193.2 812.2,190.7 813.3,189.6C814.4,188.5 815.1,188.0 816.0,188.2Z" fill="#d6d6d6" fill-opacity="0.35"/><path d="M796.8,216.9C798.0,215.1 801.2,213.7 803.7,212.8C806.2,211.9 809.2,211.3 811.9,211.5C814.6,211.7 817.1,214.0 820.1,214.2C823.1,214.4 827.0,212.8 829.7,212.8C832.4,212.8 834.5,213.0 836.5,214.2C838.5,215.3 840.9,217.6 842.0,219.7C843.1,221.8 843.9,224.9 843.4,226.5C842.9,228.1 841.3,228.5 839.2,229.2C837.1,229.9 833.5,229.7 831.0,230.6C828.5,231.5 826.5,233.1 824.2,234.7C821.9,236.3 819.7,238.8 817.4,240.2C815.1,241.6 812.8,242.9 810.5,242.9C808.2,242.9 805.8,241.8 803.7,240.2C801.7,238.6 799.5,236.1 798.2,233.4C797.0,230.7 796.4,226.6 796.2,223.8C796.0,221.1 795.5,218.7 796.8,216.9Z" fill="#d6d6d6" fill-opacity="0.60"/><path d="M831.0,233.4C831.7,233.0 834.2,233.2 836.5,233.4C838.8,233.6 842.4,233.3 844.7,234.7C847.0,236.1 848.4,239.1 850.2,241.6C852.0,244.1 855.2,248.2 855.7,249.8C856.2,251.4 854.3,252.0 852.9,251.1C851.5,250.2 849.5,246.6 847.5,244.3C845.5,242.0 843.1,238.9 840.6,237.5C838.1,236.1 834.0,236.8 832.4,236.1C830.8,235.4 830.3,233.8 831.0,233.4Z" fill="#d6d6d6" fill-opacity="0.50"/><path d="M844.7,252.5C845.6,251.1 850.2,250.5 852.9,249.8C855.6,249.1 858.4,248.6 861.1,248.4C863.8,248.2 867.0,247.7 869.3,248.4C871.6,249.1 873.9,250.4 874.8,252.5C875.7,254.6 875.5,258.4 874.8,260.7C874.1,263.0 872.5,265.0 870.7,266.2C868.9,267.4 866.2,267.6 863.9,267.6C861.6,267.6 859.0,267.1 857.0,266.2C855.0,265.3 853.2,263.5 851.6,262.1C850.0,260.7 848.6,259.6 847.5,258.0C846.4,256.4 843.8,253.9 844.7,252.5Z" fill="#d6d6d6" fill-opacity="0.95"/><path d="M899.5,212.6C901.6,210.8 907.6,208.1 910.3,206.9C913.0,205.6 913.3,204.8 915.7,205.1C918.1,205.4 923.1,206.0 924.7,208.7C926.2,211.4 925.6,217.3 925.0,221.2C924.4,225.1 922.6,229.2 921.1,232.0C919.5,234.7 917.5,237.4 915.7,237.7C913.9,238.1 911.8,235.6 910.3,234.1C908.8,232.6 908.2,230.5 906.7,228.7C905.2,227.0 902.8,225.2 901.3,223.4C899.8,221.6 898.1,219.8 897.8,218.0C897.5,216.2 897.5,214.5 899.5,212.6Z" fill="#d6d6d6" fill-opacity="0.45"/><path d="M911.2,201.5C911.5,200.1 913.0,198.8 913.9,199.7C914.8,200.6 916.9,205.5 916.6,206.9C916.3,208.2 913.0,208.7 912.1,207.8C911.2,206.9 910.9,202.8 911.2,201.5Z" fill="#d6d6d6" fill-opacity="0.45"/><path d="M898.1,185.3C898.5,184.2 900.2,182.4 901.0,183.6C901.8,184.7 902.9,190.7 902.8,192.5C902.7,194.3 901.1,194.6 900.4,194.3C899.8,194.0 899.0,192.2 898.6,190.7C898.3,189.2 897.7,186.5 898.1,185.3Z" fill="#d6d6d6" fill-opacity="0.45"/><path d="M859.1,210.1C859.6,209.1 862.2,207.8 863.2,208.0C864.2,208.2 865.7,210.5 865.2,211.5C864.7,212.5 861.4,214.4 860.4,214.2C859.4,214.0 858.6,211.1 859.1,210.1Z" fill="#d6d6d6" fill-opacity="0.60"/><path d="M906.7,174.6C907.3,173.7 910.5,171.6 912.1,171.0C913.7,170.4 916.6,170.3 916.6,171.0C916.6,171.7 913.4,174.6 912.1,175.5C910.8,176.4 909.4,176.5 908.5,176.4C907.6,176.2 906.1,175.5 906.7,174.6Z" fill="#d6d6d6" fill-opacity="0.40"/></g></g><rect x="722.8" y="377.2" width="212.1" height="235.6" fill="none" stroke="#333" stroke-width="1.1"/><line x1="756" y1="612.8" x2="756" y2="616.1" stroke="#333" stroke-width="1.1"/><text x="756" y="628" font-size="11.4" fill="#404040" text-anchor="middle">−10</text><line x1="793.8" y1="612.8" x2="793.8" y2="616.1" stroke="#333" stroke-width="1.1"/><text x="793.8" y="628" font-size="11.4" fill="#404040" text-anchor="middle">−5</text><line x1="831.6" y1="612.8" x2="831.6" y2="616.1" stroke="#333" stroke-width="1.1"/><text x="831.6" y="628" font-size="11.4" fill="#404040" text-anchor="middle">0</text><line x1="869.4" y1="612.8" x2="869.4" y2="616.1" stroke="#333" stroke-width="1.1"/><text x="869.4" y="628" font-size="11.4" fill="#404040" text-anchor="middle">5</text><line x1="907.2" y1="612.8" x2="907.2" y2="616.1" stroke="#333" stroke-width="1.1"/><text x="907.2" y="628" font-size="11.4" fill="#404040" text-anchor="middle">10</text>
<rect x="942.9" y="354.8" width="212.1" height="22.4" fill="#d9d9d9" stroke="#3a3a3a" stroke-width="1.1"/><text x="1049" y="370.5" font-size="11.8" fill="#1a1a1a" text-anchor="middle">3rd trim. Chorioamniotic membranes</text><rect x="942.9" y="377.2" width="212.1" height="235.6" fill="#fff"/><line x1="957.2" y1="377.2" x2="957.2" y2="612.8" stroke="#ededed" stroke-width="0.8"/><line x1="942.9" y1="592.1" x2="1155" y2="592.1" stroke="#ededed" stroke-width="0.8"/><line x1="995" y1="377.2" x2="995" y2="612.8" stroke="#ededed" stroke-width="0.8"/><line x1="942.9" y1="554.3" x2="1155" y2="554.3" stroke="#ededed" stroke-width="0.8"/><line x1="1032.8" y1="377.2" x2="1032.8" y2="612.8" stroke="#ededed" stroke-width="0.8"/><line x1="942.9" y1="516.5" x2="1155" y2="516.5" stroke="#ededed" stroke-width="0.8"/><line x1="1070.6" y1="377.2" x2="1070.6" y2="612.8" stroke="#ededed" stroke-width="0.8"/><line x1="942.9" y1="478.7" x2="1155" y2="478.7" stroke="#ededed" stroke-width="0.8"/><line x1="1108.4" y1="377.2" x2="1108.4" y2="612.8" stroke="#ededed" stroke-width="0.8"/><line x1="942.9" y1="440.9" x2="1155" y2="440.9" stroke="#ededed" stroke-width="0.8"/><line x1="1146.2" y1="377.2" x2="1146.2" y2="612.8" stroke="#ededed" stroke-width="0.8"/><line x1="942.9" y1="403.1" x2="1155" y2="403.1" stroke="#ededed" stroke-width="0.8"/><line x1="942.9" y1="611" x2="1155" y2="611" stroke="#e4e4e4" stroke-width="1.2"/><line x1="976.1" y1="377.2" x2="976.1" y2="612.8" stroke="#e4e4e4" stroke-width="1.2"/><line x1="942.9" y1="573.2" x2="1155" y2="573.2" stroke="#e4e4e4" stroke-width="1.2"/><line x1="1013.9" y1="377.2" x2="1013.9" y2="612.8" stroke="#e4e4e4" stroke-width="1.2"/><line x1="942.9" y1="535.4" x2="1155" y2="535.4" stroke="#e4e4e4" stroke-width="1.2"/><line x1="1051.7" y1="377.2" x2="1051.7" y2="612.8" stroke="#e4e4e4" stroke-width="1.2"/><line x1="942.9" y1="497.6" x2="1155" y2="497.6" stroke="#e4e4e4" stroke-width="1.2"/><line x1="1089.5" y1="377.2" x2="1089.5" y2="612.8" stroke="#e4e4e4" stroke-width="1.2"/><line x1="942.9" y1="459.8" x2="1155" y2="459.8" stroke="#e4e4e4" stroke-width="1.2"/><line x1="1127.3" y1="377.2" x2="1127.3" y2="612.8" stroke="#e4e4e4" stroke-width="1.2"/><line x1="942.9" y1="422" x2="1155" y2="422" stroke="#e4e4e4" stroke-width="1.2"/><line x1="942.9" y1="384.2" x2="1155" y2="384.2" stroke="#e4e4e4" stroke-width="1.2"/><g filter="url(#rough)"><g transform="translate(0,323.4)"><path d="M1075.2,70.1C1077.3,68.6 1084.0,65.5 1088.0,64.6C1092.0,63.7 1096.2,63.4 1098.9,64.6C1101.6,65.8 1103.2,68.6 1104.4,71.9C1105.6,75.2 1105.3,81.4 1106.2,84.7C1107.1,88.0 1110.2,90.2 1109.9,92.0C1109.6,93.8 1106.5,95.6 1104.4,95.6C1102.3,95.6 1098.9,93.8 1097.1,92.0C1095.3,90.2 1095.6,86.8 1093.5,84.7C1091.4,82.6 1087.3,81.0 1084.3,79.2C1081.2,77.4 1076.7,75.2 1075.2,73.7C1073.7,72.2 1073.1,71.6 1075.2,70.1Z" fill="#d6d6d6" fill-opacity="1.00"/><path d="M1073.0,70.0C1073.3,69.2 1076.0,68.2 1077.0,68.5C1078.0,68.8 1079.3,70.7 1079.0,71.5C1078.7,72.3 1076.0,73.8 1075.0,73.5C1074.0,73.2 1072.7,70.8 1073.0,70.0Z" fill="#d6d6d6" fill-opacity="1.00"/><path d="M1020.5,101.1C1023.8,99.6 1028.7,100.5 1033.2,102.9C1037.8,105.3 1042.9,111.4 1047.8,115.7C1052.7,120.0 1058.4,124.2 1062.4,128.5C1066.4,132.8 1069.8,136.6 1071.6,141.2C1073.4,145.8 1073.7,151.8 1073.4,155.8C1073.1,159.8 1071.5,164.4 1069.7,165.0C1067.9,165.6 1066.1,161.0 1062.4,159.5C1058.8,158.0 1053.3,157.0 1047.8,155.8C1042.3,154.6 1034.8,154.3 1029.6,152.2C1024.4,150.1 1019.5,146.8 1016.8,143.1C1014.1,139.4 1013.8,135.5 1013.2,130.3C1012.6,125.1 1012.0,116.9 1013.2,112.0C1014.4,107.1 1017.2,102.6 1020.5,101.1Z" fill="#d6d6d6" fill-opacity="0.35"/><path d="M1020.5,101.1C1023.8,99.6 1028.7,100.5 1033.2,102.9C1037.8,105.3 1042.9,111.4 1047.8,115.7C1052.7,120.0 1060.6,125.2 1062.4,128.5C1064.2,131.8 1061.8,134.9 1058.8,135.8C1055.8,136.7 1049.1,134.5 1044.2,133.9C1039.3,133.3 1034.5,133.0 1029.6,132.1C1024.7,131.2 1017.7,131.8 1015.0,128.5C1012.3,125.2 1012.3,116.6 1013.2,112.0C1014.1,107.4 1017.2,102.6 1020.5,101.1Z" fill="#d6d6d6" fill-opacity="0.00"/><path d="M1022.9,100.7C1025.9,100.1 1029.6,101.3 1033.9,104.3C1038.2,107.3 1043.6,114.3 1048.5,118.9C1053.4,123.5 1060.1,127.7 1063.1,131.7C1066.1,135.7 1066.7,139.3 1066.7,142.7C1066.7,146.0 1066.1,149.7 1063.1,151.8C1060.1,153.9 1054.0,155.4 1048.5,155.4C1043.0,155.4 1035.4,154.2 1030.2,151.8C1025.0,149.4 1020.1,145.1 1017.4,140.8C1014.7,136.5 1014.1,131.7 1013.8,126.2C1013.5,120.7 1014.2,112.2 1015.7,108.0C1017.2,103.8 1019.9,101.3 1022.9,100.7Z" fill="#d6d6d6" fill-opacity="1.00"/><path d="M958.1,153.5C958.9,151.4 961.3,149.6 963.5,149.1C965.8,148.5 969.3,148.8 971.6,149.9C973.8,151.1 975.9,154.0 977.0,156.2C978.0,158.5 978.5,161.8 977.9,163.4C977.3,165.0 975.8,165.8 973.4,166.1C971.0,166.4 965.9,165.9 963.5,165.2C961.1,164.4 959.9,163.5 959.0,161.6C958.1,159.7 957.4,155.6 958.1,153.5Z" fill="#d6d6d6" fill-opacity="0.55"/><path d="M956.6,174.1C958.7,170.4 966.3,167.4 971.2,166.8C976.1,166.2 983.7,166.8 985.8,170.4C987.9,174.1 983.7,183.8 984.0,188.7C984.3,193.6 987.9,195.9 987.6,199.6C987.3,203.2 985.5,208.5 982.1,210.6C978.8,212.7 971.8,213.6 967.5,212.4C963.2,211.2 958.1,207.2 956.6,203.3C955.1,199.4 958.4,193.6 958.4,188.7C958.4,183.8 954.5,177.8 956.6,174.1Z" fill="#d6d6d6" fill-opacity="0.55"/><path d="M970.0,168.0C971.3,166.8 976.3,166.5 980.0,166.0C983.7,165.5 989.8,164.7 992.0,165.0C994.2,165.3 994.7,166.8 993.0,168.0C991.3,169.2 985.5,171.2 982.0,172.0C978.5,172.8 974.0,173.7 972.0,173.0C970.0,172.3 968.7,169.2 970.0,168.0Z" fill="#d6d6d6" fill-opacity="0.40"/><path d="M994.0,163.4C994.0,162.2 997.7,158.9 999.4,157.1C1001.0,155.3 1002.4,153.1 1003.9,152.6C1005.4,152.2 1006.9,153.5 1008.4,154.4C1009.9,155.3 1013.1,156.8 1012.8,158.0C1012.5,159.2 1008.8,160.6 1006.6,161.6C1004.3,162.7 1001.5,164.0 999.4,164.3C997.3,164.6 994.0,164.6 994.0,163.4Z" fill="#d6d6d6" fill-opacity="0.60"/><path d="M1117.3,146.4C1117.6,144.3 1120.2,141.8 1121.9,140.9C1123.6,140.0 1126.5,139.7 1127.3,140.9C1128.0,142.1 1127.0,145.8 1126.4,148.2C1125.8,150.6 1124.8,154.6 1123.7,155.5C1122.6,156.4 1121.1,155.2 1120.0,153.7C1118.9,152.2 1117.0,148.5 1117.3,146.4Z" fill="#d6d6d6" fill-opacity="0.40"/><path d="M1117.3,153.7C1118.4,151.7 1121.4,152.2 1123.7,152.8C1126.0,153.4 1128.6,155.3 1131.0,157.3C1133.4,159.3 1136.2,162.2 1138.3,164.6C1140.4,167.0 1144.0,170.1 1143.7,171.9C1143.4,173.7 1139.4,174.9 1136.4,175.5C1133.4,176.1 1128.2,176.1 1125.5,175.5C1122.8,174.9 1121.4,173.7 1120.0,171.9C1118.6,170.1 1117.8,167.6 1117.3,164.6C1116.8,161.6 1116.2,155.7 1117.3,153.7Z" fill="#d6d6d6" fill-opacity="0.45"/><path d="M1112.8,168.3C1113.8,166.5 1118.2,165.2 1120.0,166.4C1121.8,167.6 1123.4,172.5 1123.7,175.5C1124.0,178.5 1123.1,183.1 1121.9,184.6C1120.7,186.1 1117.8,185.8 1116.4,184.6C1115.0,183.4 1114.3,180.1 1113.7,177.4C1113.1,174.7 1111.8,170.1 1112.8,168.3Z" fill="#d6d6d6" fill-opacity="0.50"/><path d="M1108.8,167.9C1109.4,167.3 1112.4,166.7 1113.3,167.0C1114.2,167.3 1114.8,169.1 1114.2,169.7C1113.6,170.2 1110.6,170.5 1109.7,170.2C1108.8,169.9 1108.2,168.4 1108.8,167.9Z" fill="#d6d6d6" fill-opacity="0.50"/><path d="M1023.0,193.7C1024.1,191.5 1028.8,192.5 1030.2,193.7C1031.6,194.9 1031.8,198.5 1031.6,200.9C1031.4,203.3 1030.1,207.2 1028.8,208.1C1027.5,209.0 1024.7,209.0 1023.7,206.6C1022.7,204.2 1021.9,195.8 1023.0,193.7Z" fill="#d6d6d6" fill-opacity="0.35"/><path d="M1017.2,198.0C1016.7,196.7 1018.9,192.6 1020.1,191.5C1021.3,190.4 1023.4,190.7 1024.4,191.5C1025.4,192.3 1026.1,195.2 1025.9,196.5C1025.7,197.8 1024.5,199.2 1023.0,199.4C1021.5,199.7 1017.7,199.3 1017.2,198.0Z" fill="#d6d6d6" fill-opacity="0.45"/><path d="M1018.7,213.9C1021.8,209.6 1029.0,206.1 1036.0,206.6C1043.0,207.1 1056.4,212.1 1060.5,216.7C1064.6,221.3 1061.7,230.2 1060.5,234.1C1059.3,237.9 1058.6,238.6 1053.3,239.8C1048.0,241.0 1034.8,242.5 1028.8,241.3C1022.8,240.1 1018.9,237.2 1017.2,232.6C1015.5,228.0 1015.6,218.2 1018.7,213.9Z" fill="#d6d6d6" fill-opacity="0.12"/><path d="M1025.9,222.5C1027.1,220.3 1029.7,218.7 1031.6,218.2C1033.5,217.7 1036.2,217.9 1037.4,219.6C1038.6,221.3 1037.5,226.4 1038.9,228.3C1040.4,230.2 1043.7,230.5 1046.1,231.2C1048.5,231.9 1051.1,231.9 1053.3,232.6C1055.5,233.3 1058.4,234.5 1059.1,235.5C1059.8,236.5 1059.5,238.2 1057.6,238.4C1055.7,238.7 1050.6,237.4 1047.5,237.0C1044.4,236.6 1041.3,235.7 1038.9,236.2C1036.5,236.7 1035.1,239.4 1033.1,239.8C1031.0,240.2 1028.0,239.8 1026.6,238.4C1025.1,237.0 1024.5,233.8 1024.4,231.2C1024.3,228.5 1024.7,224.7 1025.9,222.5Z" fill="#d6d6d6" fill-opacity="0.30"/><path d="M1075.6,212.2C1075.6,211.2 1078.4,208.4 1080.1,207.8C1081.7,207.1 1084.3,207.5 1085.5,208.3C1086.6,209.1 1087.8,211.7 1086.9,212.6C1086.0,213.6 1082.0,214.1 1080.1,214.0C1078.2,214.0 1075.6,213.3 1075.6,212.2Z" fill="#d6d6d6" fill-opacity="0.70"/><path d="M1127.3,191.9C1127.9,190.2 1130.8,189.5 1131.9,191.0C1133.0,192.5 1132.0,198.1 1133.7,201.0C1135.4,203.9 1139.9,206.2 1141.9,208.3C1143.9,210.4 1145.2,211.4 1145.5,213.8C1145.8,216.2 1145.2,220.5 1143.7,222.9C1142.2,225.3 1139.1,227.5 1136.4,228.4C1133.7,229.3 1130.3,228.7 1127.3,228.4C1124.3,228.1 1119.9,228.3 1118.2,226.5C1116.5,224.7 1117.0,220.1 1117.3,217.4C1117.6,214.7 1118.9,212.2 1120.0,210.1C1121.1,208.0 1122.3,206.2 1123.7,204.7C1125.1,203.2 1127.6,203.1 1128.2,201.0C1128.8,198.9 1126.7,193.6 1127.3,191.9Z" fill="#d6d6d6" fill-opacity="0.45"/><path d="M1064.0,251.7C1064.8,248.7 1071.1,245.4 1074.7,244.5C1078.3,243.6 1082.2,245.1 1085.5,246.3C1088.8,247.5 1092.4,249.9 1094.4,251.7C1096.5,253.5 1097.7,255.0 1097.7,257.1C1097.7,259.2 1096.5,262.4 1094.4,264.3C1092.4,266.1 1088.5,267.7 1085.5,268.2C1082.5,268.7 1079.2,268.4 1076.5,267.5C1073.8,266.5 1071.4,265.1 1069.3,262.5C1067.2,259.8 1063.1,254.7 1064.0,251.7Z" fill="#d6d6d6" fill-opacity="1.00"/></g></g><rect x="942.9" y="377.2" width="212.1" height="235.6" fill="none" stroke="#333" stroke-width="1.1"/><line x1="976.1" y1="612.8" x2="976.1" y2="616.1" stroke="#333" stroke-width="1.1"/><text x="976.1" y="628" font-size="11.4" fill="#404040" text-anchor="middle">−10</text><line x1="1013.9" y1="612.8" x2="1013.9" y2="616.1" stroke="#333" stroke-width="1.1"/><text x="1013.9" y="628" font-size="11.4" fill="#404040" text-anchor="middle">−5</text><line x1="1051.7" y1="612.8" x2="1051.7" y2="616.1" stroke="#333" stroke-width="1.1"/><text x="1051.7" y="628" font-size="11.4" fill="#404040" text-anchor="middle">0</text><line x1="1089.5" y1="612.8" x2="1089.5" y2="616.1" stroke="#333" stroke-width="1.1"/><text x="1089.5" y="628" font-size="11.4" fill="#404040" text-anchor="middle">5</text><line x1="1127.3" y1="612.8" x2="1127.3" y2="616.1" stroke="#333" stroke-width="1.1"/><text x="1127.3" y="628" font-size="11.4" fill="#404040" text-anchor="middle">10</text>
<text x="608.3" y="644.7" font-size="14" fill="#000" text-anchor="middle">UMAP_1</text>
<text transform="translate(29.4,494.9) rotate(-90)" font-size="14" fill="#000" text-anchor="middle">UMAP_2</text>
<text x="1176.6" y="120" font-size="14.2" fill="#000">Cell type</text>
<circle cx="1188.2" cy="139.4" r="7.6" fill="#5b1a8e"/>
<text x="1206.6" y="144.3" font-size="12" fill="#000">CTB</text>
<circle cx="1188.2" cy="162.1" r="7.6" fill="#e6a3e6"/>
<text x="1206.6" y="167" font-size="12" fill="#000">EVT</text>
<circle cx="1188.2" cy="184.7" r="7.6" fill="#3ec43e"/>
<text x="1206.6" y="189.6" font-size="12" fill="#000">npiCTB</text>
<circle cx="1188.2" cy="207.3" r="7.6" fill="#c4f53a"/>
<text x="1206.6" y="212.2" font-size="12" fill="#000">STB</text>
<circle cx="1188.2" cy="230" r="7.6" fill="#a8335e"/>
<text x="1206.6" y="234.9" font-size="12" fill="#000">Endometrial</text>
<circle cx="1188.2" cy="252.7" r="7.6" fill="#8b4513"/>
<text x="1206.6" y="257.6" font-size="12" fill="#000">Decidual</text>
<circle cx="1188.2" cy="275.3" r="7.6" fill="#000080"/>
<text x="1206.6" y="280.2" font-size="12" fill="#000">Fibroblast</text>
<circle cx="1188.2" cy="297.9" r="7.6" fill="#148a8a"/>
<text x="1206.6" y="302.8" font-size="12" fill="#000">Stromal−1</text>
<circle cx="1188.2" cy="320.6" r="7.6" fill="#cc8a8f"/>
<text x="1206.6" y="325.5" font-size="12" fill="#000">Stromal−2</text>
<circle cx="1188.2" cy="343.2" r="7.6" fill="#cd853f"/>
<text x="1206.6" y="348.1" font-size="12" fill="#000">Stromal−3</text>
<circle cx="1188.2" cy="365.9" r="7.6" fill="#ff00ff"/>
<text x="1206.6" y="370.8" font-size="12" fill="#000">HSC</text>
<circle cx="1188.2" cy="388.5" r="7.6" fill="#808000"/>
<text x="1206.6" y="393.4" font-size="12" fill="#000">LED</text>
<circle cx="1188.2" cy="411.2" r="7.6" fill="#8470ff"/>
<text x="1206.6" y="416.1" font-size="12" fill="#000">Monocyte</text>
<circle cx="1188.2" cy="433.9" r="7.6" fill="#f06eb4"/>
<text x="1206.6" y="438.8" font-size="12" fill="#000">Macrophage−1</text>
<circle cx="1188.2" cy="456.5" r="7.6" fill="#f0604a"/>
<text x="1206.6" y="461.4" font-size="12" fill="#000">Macrophage−2</text>
<circle cx="1188.2" cy="479.1" r="7.6" fill="#e8161b"/>
<text x="1206.6" y="484" font-size="12" fill="#000">B−cell</text>
<circle cx="1188.2" cy="501.8" r="7.6" fill="#2e8b57"/>
<text x="1206.6" y="506.7" font-size="12" fill="#000">T−cell−activated</text>
<circle cx="1188.2" cy="524.4" r="7.6" fill="#add8e6"/>
<text x="1206.6" y="529.3" font-size="12" fill="#000">T−cell−resting</text>
<circle cx="1188.2" cy="547.1" r="7.6" fill="#4169e1"/>
<text x="1206.6" y="552" font-size="12" fill="#000">NK−cell</text>
</svg></body></html>
